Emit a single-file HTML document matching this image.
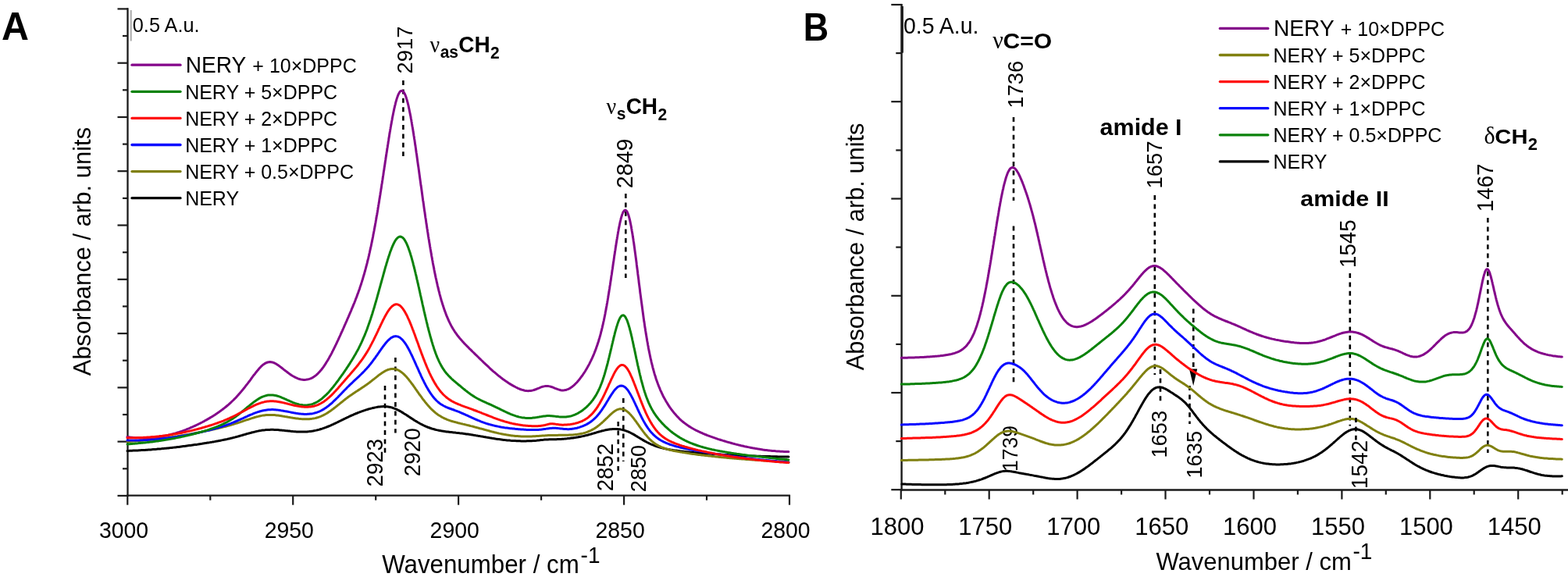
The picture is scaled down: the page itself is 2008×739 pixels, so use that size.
<!DOCTYPE html>
<html><head><meta charset="utf-8"><title>NERY DPPC FTIR spectra</title>
<style>html,body{margin:0;padding:0;background:#fff;overflow:hidden}svg{display:block}</style>
</head><body>
<svg width="2008" height="739" viewBox="0 0 2008 739">
<rect width="2008" height="739" fill="#fff"/>
<line x1="163.5" y1="10.3" x2="163.5" y2="635.9" stroke="#1a1a1a" stroke-width="2.3"/>
<line x1="150.5" y1="11.4" x2="164" y2="11.4" stroke="#1a1a1a" stroke-width="2.2"/>
<line x1="157" y1="46.0" x2="164" y2="46.0" stroke="#1a1a1a" stroke-width="2.2"/>
<line x1="150.5" y1="80.7" x2="164" y2="80.7" stroke="#1a1a1a" stroke-width="2.2"/>
<line x1="157" y1="115.3" x2="164" y2="115.3" stroke="#1a1a1a" stroke-width="2.2"/>
<line x1="150.5" y1="150.0" x2="164" y2="150.0" stroke="#1a1a1a" stroke-width="2.2"/>
<line x1="157" y1="184.6" x2="164" y2="184.6" stroke="#1a1a1a" stroke-width="2.2"/>
<line x1="150.5" y1="219.2" x2="164" y2="219.2" stroke="#1a1a1a" stroke-width="2.2"/>
<line x1="157" y1="253.9" x2="164" y2="253.9" stroke="#1a1a1a" stroke-width="2.2"/>
<line x1="150.5" y1="288.5" x2="164" y2="288.5" stroke="#1a1a1a" stroke-width="2.2"/>
<line x1="157" y1="323.2" x2="164" y2="323.2" stroke="#1a1a1a" stroke-width="2.2"/>
<line x1="150.5" y1="357.8" x2="164" y2="357.8" stroke="#1a1a1a" stroke-width="2.2"/>
<line x1="157" y1="392.4" x2="164" y2="392.4" stroke="#1a1a1a" stroke-width="2.2"/>
<line x1="150.5" y1="427.1" x2="164" y2="427.1" stroke="#1a1a1a" stroke-width="2.2"/>
<line x1="157" y1="461.7" x2="164" y2="461.7" stroke="#1a1a1a" stroke-width="2.2"/>
<line x1="150.5" y1="496.4" x2="164" y2="496.4" stroke="#1a1a1a" stroke-width="2.2"/>
<line x1="157" y1="531.0" x2="164" y2="531.0" stroke="#1a1a1a" stroke-width="2.2"/>
<line x1="150.5" y1="565.6" x2="164" y2="565.6" stroke="#1a1a1a" stroke-width="2.2"/>
<line x1="157" y1="600.3" x2="164" y2="600.3" stroke="#1a1a1a" stroke-width="2.2"/>
<line x1="150.5" y1="634.9" x2="164" y2="634.9" stroke="#1a1a1a" stroke-width="2.2"/>
<line x1="162.4" y1="634.7" x2="1011.9" y2="634.7" stroke="#1a1a1a" stroke-width="2.3"/>
<line x1="163.3" y1="634" x2="163.3" y2="646.7" stroke="#1a1a1a" stroke-width="2.2"/>
<text transform="translate(126.92,689.11) scale(1,1.04)" font-size="28.40" font-family="'Liberation Sans',Arial,sans-serif" fill="#000">3000</text>
<line x1="269.3" y1="634" x2="269.3" y2="640.7" stroke="#1a1a1a" stroke-width="2.2"/>
<line x1="375.2" y1="634" x2="375.2" y2="646.7" stroke="#1a1a1a" stroke-width="2.2"/>
<text transform="translate(338.67,689.11) scale(1,1.04)" font-size="28.40" font-family="'Liberation Sans',Arial,sans-serif" fill="#000">2950</text>
<line x1="481.2" y1="634" x2="481.2" y2="640.7" stroke="#1a1a1a" stroke-width="2.2"/>
<line x1="587.1" y1="634" x2="587.1" y2="646.7" stroke="#1a1a1a" stroke-width="2.2"/>
<text transform="translate(550.59,689.11) scale(1,1.04)" font-size="28.40" font-family="'Liberation Sans',Arial,sans-serif" fill="#000">2900</text>
<line x1="693.1" y1="634" x2="693.1" y2="640.7" stroke="#1a1a1a" stroke-width="2.2"/>
<line x1="799.1" y1="634" x2="799.1" y2="646.7" stroke="#1a1a1a" stroke-width="2.2"/>
<text transform="translate(762.51,689.11) scale(1,1.04)" font-size="28.40" font-family="'Liberation Sans',Arial,sans-serif" fill="#000">2850</text>
<line x1="905.0" y1="634" x2="905.0" y2="640.7" stroke="#1a1a1a" stroke-width="2.2"/>
<line x1="1011.0" y1="634" x2="1011.0" y2="646.7" stroke="#1a1a1a" stroke-width="2.2"/>
<text transform="translate(974.43,689.11) scale(1,1.04)" font-size="28.40" font-family="'Liberation Sans',Arial,sans-serif" fill="#000">2800</text>
<text transform="translate(489.16,734.48) scale(1,1.04)" font-size="31.29" font-family="'Liberation Sans',Arial,sans-serif" fill="#000">Wavenumber / cm</text>
<text transform="translate(743.56,720.60) scale(1,1.04)" font-size="28.00" font-family="'Liberation Sans',Arial,sans-serif">-1</text>
<text transform="translate(115.99,481.26) rotate(-90) scale(1,1.04)" font-size="30.98" font-family="'Liberation Sans',Arial,sans-serif">Absorbance / arb. units</text>
<line x1="167.8" y1="13" x2="167.8" y2="52.5" stroke="#8a8a8a" stroke-width="1.3"/>
<text transform="translate(169.81,40.54) scale(1,1.04)" font-size="25.30" font-family="'Liberation Sans',Arial,sans-serif" fill="#000">0.5 A.u.</text>
<text transform="translate(2.09,50.70) scale(1,1.04)" font-size="48.44" font-family="'Liberation Sans',Arial,sans-serif" font-weight="bold" fill="#000">A</text>
<line x1="169" y1="83.2" x2="231" y2="83.2" stroke="#84068a" stroke-width="3.3" stroke-linecap="round"/>
<text transform="translate(237.69,92.70) scale(1,1.04)" font-size="28.10" font-family="'Liberation Sans',Arial,sans-serif" fill="#000">NERY</text>
<text transform="translate(323.35,92.70) scale(1,1.04)" font-size="25.00" font-family="'Liberation Sans',Arial,sans-serif">+ 10×DPPC</text>
<line x1="169" y1="117.3" x2="231" y2="117.3" stroke="#0a820a" stroke-width="3.3" stroke-linecap="round"/>
<text transform="translate(237.15,126.80) scale(1,1.04)" font-size="25.00" font-family="'Liberation Sans',Arial,sans-serif">NERY + 5×DPPC</text>
<line x1="169" y1="151.4" x2="231" y2="151.4" stroke="#ff0a0a" stroke-width="3.3" stroke-linecap="round"/>
<text transform="translate(237.15,160.90) scale(1,1.04)" font-size="25.00" font-family="'Liberation Sans',Arial,sans-serif">NERY + 2×DPPC</text>
<line x1="169" y1="185.5" x2="231" y2="185.5" stroke="#0a0aff" stroke-width="3.3" stroke-linecap="round"/>
<text transform="translate(237.15,195.00) scale(1,1.04)" font-size="25.00" font-family="'Liberation Sans',Arial,sans-serif">NERY + 1×DPPC</text>
<line x1="169" y1="219.6" x2="231" y2="219.6" stroke="#808010" stroke-width="3.3" stroke-linecap="round"/>
<text transform="translate(237.15,229.10) scale(1,1.04)" font-size="25.00" font-family="'Liberation Sans',Arial,sans-serif">NERY + 0.5×DPPC</text>
<line x1="169" y1="253.7" x2="231" y2="253.7" stroke="#000000" stroke-width="3.3" stroke-linecap="round"/>
<text transform="translate(237.15,263.20) scale(1,1.04)" font-size="25.00" font-family="'Liberation Sans',Arial,sans-serif">NERY</text>
<text transform="translate(527.62,94.48) rotate(-90) scale(1,1.04)" font-size="27.40" font-family="'Liberation Sans',Arial,sans-serif">2917</text>
<line x1="516.4" y1="103" x2="516.4" y2="200" stroke="#000" stroke-width="2.6" stroke-dasharray="6,5.4"/>
<text transform="translate(810.01,241.14) rotate(-90) scale(1,1.04)" font-size="28.63" font-family="'Liberation Sans',Arial,sans-serif">2849</text>
<line x1="801.3" y1="248" x2="801.3" y2="356" stroke="#000" stroke-width="2.6" stroke-dasharray="6,5.4"/>
<text transform="translate(490.22,623.49) rotate(-90) scale(1,1.04)" font-size="27.65" font-family="'Liberation Sans',Arial,sans-serif">2923</text>
<line x1="493" y1="494" x2="493" y2="580" stroke="#000" stroke-width="2.6" stroke-dasharray="6,5.4"/>
<text transform="translate(537.62,610.20) rotate(-90) scale(1,1.04)" font-size="27.87" font-family="'Liberation Sans',Arial,sans-serif">2920</text>
<line x1="506.4" y1="458" x2="506.4" y2="554.5" stroke="#000" stroke-width="2.6" stroke-dasharray="6,5.4"/>
<text transform="translate(784.72,629.29) rotate(-90) scale(1,1.04)" font-size="27.64" font-family="'Liberation Sans',Arial,sans-serif">2852</text>
<line x1="791.7" y1="540" x2="791.7" y2="603" stroke="#000" stroke-width="2.6" stroke-dasharray="6,5.4"/>
<text transform="translate(827.43,630.16) rotate(-90) scale(1,1.04)" font-size="27.07" font-family="'Liberation Sans',Arial,sans-serif">2850</text>
<line x1="798.3" y1="510" x2="798.3" y2="591" stroke="#000" stroke-width="2.6" stroke-dasharray="6,5.4"/>
<text transform="translate(550.50,67.40) scale(1,1.04)" font-size="28.00" font-family="'Liberation Serif','Times New Roman',serif">ν</text>
<text transform="translate(563.66,74.10) scale(1,1.04)" font-size="21.00" font-family="'Liberation Sans',Arial,sans-serif" font-weight="bold">as</text>
<text transform="translate(587.32,67.40) scale(1,1.04)" font-size="28.00" font-family="'Liberation Sans',Arial,sans-serif" font-weight="bold">CH</text>
<text transform="translate(628.06,74.90) scale(1,1.04)" font-size="21.00" font-family="'Liberation Sans',Arial,sans-serif" font-weight="bold">2</text>
<text transform="translate(776.50,146.40) scale(1,1.04)" font-size="28.00" font-family="'Liberation Serif','Times New Roman',serif">ν</text>
<text transform="translate(789.66,153.10) scale(1,1.04)" font-size="21.00" font-family="'Liberation Sans',Arial,sans-serif" font-weight="bold">s</text>
<text transform="translate(801.64,146.40) scale(1,1.04)" font-size="28.00" font-family="'Liberation Sans',Arial,sans-serif" font-weight="bold">CH</text>
<text transform="translate(842.38,153.90) scale(1,1.04)" font-size="21.00" font-family="'Liberation Sans',Arial,sans-serif" font-weight="bold">2</text>
<path d="M163.0,577.4 164.5,577.4 166.0,577.3 167.5,577.3 169.0,577.2 170.5,577.1 172.0,577.1 173.5,577.0 175.0,576.9 176.5,576.9 178.0,576.8 179.5,576.7 181.0,576.6 182.5,576.5 184.0,576.4 185.5,576.4 187.0,576.3 188.5,576.2 190.0,576.1 191.5,576.0 193.0,575.9 194.5,575.7 196.0,575.6 197.5,575.5 199.0,575.4 200.5,575.3 202.0,575.1 203.5,575.0 205.0,574.9 206.5,574.8 208.0,574.6 209.5,574.5 211.0,574.3 212.5,574.2 214.0,574.0 215.4,573.9 216.9,573.7 218.4,573.6 219.9,573.4 221.4,573.2 222.9,573.1 224.4,572.9 225.9,572.7 227.4,572.5 228.9,572.4 230.4,572.2 231.9,572.0 233.4,571.8 234.8,571.6 236.3,571.4 237.8,571.2 239.3,571.0 240.8,570.8 242.3,570.6 243.8,570.4 245.3,570.2 246.8,570.0 248.2,569.8 249.7,569.6 251.2,569.4 252.7,569.2 254.2,568.9 255.7,568.7 257.2,568.5 258.6,568.3 260.1,568.0 261.6,567.8 263.1,567.6 264.6,567.3 266.1,567.1 267.5,566.9 269.0,566.6 270.5,566.4 272.0,566.1 273.5,565.9 274.9,565.6 276.4,565.3 277.9,565.1 279.4,564.8 280.9,564.5 282.3,564.2 283.8,563.9 285.3,563.6 286.7,563.3 288.2,563.0 289.7,562.7 291.1,562.4 292.6,562.0 294.1,561.7 295.5,561.3 297.0,561.0 298.5,560.6 299.9,560.2 301.4,559.9 302.8,559.5 304.3,559.1 305.7,558.7 307.2,558.3 308.6,557.9 310.0,557.5 311.5,557.0 312.9,556.6 314.4,556.2 315.8,555.8 317.3,555.4 318.7,555.0 320.2,554.6 321.6,554.2 323.1,553.8 324.5,553.5 326.0,553.1 327.4,552.8 328.9,552.4 330.4,552.1 331.9,551.8 333.3,551.6 334.8,551.3 336.3,551.1 337.8,550.9 339.3,550.8 340.8,550.6 342.3,550.5 343.8,550.4 345.3,550.4 346.8,550.3 348.3,550.3 349.8,550.3 351.3,550.4 352.8,550.4 354.3,550.5 355.8,550.6 357.3,550.7 358.8,550.9 360.3,551.0 361.8,551.2 363.3,551.3 364.8,551.5 366.3,551.7 367.8,551.8 369.2,552.0 370.7,552.1 372.2,552.3 373.7,552.4 375.2,552.6 376.7,552.7 378.2,552.8 379.7,552.9 381.2,553.0 382.7,553.1 384.2,553.1 385.7,553.1 387.2,553.1 388.7,553.1 390.2,553.0 391.7,553.0 393.2,552.9 394.7,552.7 396.2,552.6 397.7,552.4 399.2,552.2 400.7,552.0 402.2,551.7 403.6,551.4 405.1,551.1 406.6,550.7 408.0,550.4 409.5,550.0 410.9,549.5 412.3,549.1 413.8,548.6 415.2,548.1 416.6,547.6 418.0,547.1 419.4,546.5 420.8,546.0 422.2,545.4 423.6,544.8 424.9,544.2 426.3,543.6 427.7,542.9 429.0,542.3 430.4,541.7 431.7,541.0 433.1,540.3 434.4,539.7 435.8,539.0 437.1,538.4 438.5,537.7 439.8,537.0 441.2,536.4 442.5,535.7 443.9,535.1 445.2,534.4 446.6,533.8 447.9,533.1 449.3,532.5 450.7,531.9 452.1,531.3 453.4,530.7 454.8,530.1 456.2,529.5 457.6,529.0 459.0,528.4 460.4,527.9 461.8,527.3 463.2,526.8 464.6,526.3 466.1,525.8 467.5,525.4 468.9,524.9 470.3,524.5 471.8,524.0 473.2,523.6 474.7,523.2 476.1,522.9 477.6,522.5 479.1,522.2 480.5,521.9 482.0,521.6 483.5,521.3 485.0,521.1 486.5,520.9 488.0,520.8 489.5,520.7 491.0,520.6 492.5,520.6 494.0,520.7 495.5,520.8 497.0,521.0 498.4,521.2 499.9,521.5 501.4,521.9 502.8,522.3 504.2,522.8 505.6,523.3 507.0,523.9 508.4,524.5 509.7,525.2 511.1,525.9 512.4,526.6 513.7,527.3 515.0,528.1 516.3,528.9 517.5,529.7 518.8,530.5 520.1,531.3 521.3,532.1 522.6,532.9 523.8,533.8 525.1,534.6 526.3,535.4 527.6,536.2 528.9,537.1 530.1,537.9 531.4,538.7 532.7,539.4 534.0,540.2 535.3,541.0 536.6,541.7 537.9,542.5 539.2,543.2 540.5,543.8 541.9,544.5 543.2,545.2 544.6,545.8 546.0,546.4 547.4,547.0 548.8,547.5 550.2,548.0 551.6,548.5 553.0,549.0 554.5,549.4 555.9,549.8 557.4,550.2 558.8,550.6 560.3,550.9 561.8,551.2 563.2,551.5 564.7,551.8 566.2,552.1 567.7,552.3 569.2,552.5 570.6,552.7 572.1,552.9 573.6,553.1 575.1,553.3 576.6,553.5 578.1,553.6 579.6,553.8 581.1,554.0 582.6,554.1 584.1,554.3 585.6,554.4 587.1,554.6 588.6,554.8 590.0,554.9 591.5,555.1 593.0,555.3 594.5,555.5 596.0,555.7 597.5,555.9 599.0,556.1 600.5,556.3 602.0,556.5 603.4,556.7 604.9,556.9 606.4,557.2 607.9,557.4 609.4,557.7 610.9,557.9 612.3,558.2 613.8,558.4 615.3,558.7 616.8,558.9 618.3,559.2 619.7,559.5 621.2,559.7 622.7,560.0 624.2,560.2 625.7,560.5 627.1,560.8 628.6,561.0 630.1,561.3 631.6,561.5 633.1,561.7 634.6,562.0 636.0,562.2 637.5,562.4 639.0,562.6 640.5,562.8 642.0,563.0 643.5,563.2 645.0,563.4 646.5,563.6 648.0,563.7 649.5,563.9 650.9,564.0 652.4,564.1 653.9,564.3 655.4,564.4 656.9,564.5 658.4,564.6 659.9,564.6 661.4,564.7 662.9,564.8 664.4,564.8 665.9,564.8 667.4,564.9 668.9,564.9 670.4,564.9 672.0,564.9 673.5,564.9 675.0,564.8 676.5,564.8 678.0,564.8 679.5,564.7 681.0,564.7 682.5,564.6 684.0,564.5 685.5,564.4 687.0,564.3 688.5,564.1 689.9,564.0 691.4,563.8 692.9,563.6 694.4,563.4 695.9,563.3 697.4,563.1 698.9,563.0 700.4,562.9 701.9,562.9 703.4,562.8 704.9,562.8 706.4,562.8 707.9,562.8 709.4,562.8 710.9,562.8 712.4,562.7 713.9,562.6 715.4,562.6 716.9,562.5 718.4,562.4 719.9,562.3 721.4,562.2 722.9,562.1 724.4,561.9 725.9,561.8 727.4,561.6 728.9,561.5 730.4,561.3 731.9,561.1 733.4,561.0 734.9,560.7 736.3,560.5 737.8,560.3 739.3,560.1 740.8,559.8 742.3,559.5 743.7,559.2 745.2,558.9 746.7,558.6 748.1,558.3 749.6,557.9 751.1,557.5 752.5,557.2 754.0,556.8 755.4,556.4 756.9,556.0 758.3,555.5 759.7,555.1 761.2,554.7 762.6,554.3 764.1,553.8 765.5,553.4 766.9,553.0 768.4,552.6 769.8,552.2 771.3,551.8 772.8,551.5 774.2,551.1 775.7,550.8 777.2,550.5 778.6,550.2 780.1,550.0 781.6,549.8 783.1,549.7 784.6,549.5 786.1,549.5 787.6,549.4 789.1,549.5 790.6,549.5 792.1,549.7 793.6,549.8 795.1,550.1 796.6,550.4 798.0,550.7 799.5,551.1 800.9,551.6 802.3,552.1 803.7,552.6 805.1,553.2 806.5,553.8 807.8,554.5 809.1,555.2 810.5,555.9 811.8,556.6 813.1,557.4 814.4,558.2 815.6,558.9 816.9,559.7 818.2,560.5 819.5,561.3 820.8,562.1 822.1,562.8 823.4,563.6 824.7,564.4 826.0,565.1 827.3,565.8 828.6,566.5 830.0,567.2 831.3,567.8 832.7,568.5 834.0,569.1 835.4,569.7 836.8,570.2 838.2,570.8 839.6,571.3 841.0,571.8 842.5,572.2 843.9,572.7 845.4,573.1 846.8,573.5 848.3,573.9 849.7,574.2 851.2,574.6 852.7,574.9 854.1,575.2 855.6,575.5 857.1,575.7 858.6,576.0 860.0,576.2 861.5,576.5 863.0,576.7 864.5,576.9 866.0,577.1 867.5,577.3 869.0,577.5 870.4,577.7 871.9,577.9 873.4,578.1 874.9,578.2 876.4,578.4 877.9,578.6 879.4,578.7 880.9,578.9 882.4,579.0 883.9,579.2 885.4,579.3 886.9,579.4 888.4,579.6 889.9,579.7 891.4,579.8 892.9,580.0 894.4,580.1 895.9,580.2 897.4,580.3 898.9,580.5 900.4,580.6 901.9,580.7 903.3,580.8 904.8,580.9 906.3,581.0 907.8,581.1 909.3,581.2 910.8,581.3 912.3,581.4 913.8,581.5 915.3,581.6 916.8,581.7 918.3,581.8 919.8,581.9 921.3,582.0 922.8,582.1 924.3,582.2 925.8,582.3 927.3,582.4 928.8,582.5 930.3,582.5 931.8,582.6 933.3,582.7 934.8,582.8 936.3,582.8 937.8,582.9 939.3,583.0 940.8,583.1 942.3,583.1 943.8,583.2 945.3,583.3 946.8,583.3 948.3,583.4 949.8,583.5 951.3,583.5 952.8,583.6 954.3,583.7 955.8,583.7 957.3,583.8 958.8,583.8 960.3,583.9 961.8,583.9 963.3,584.0 964.8,584.0 966.3,584.1 967.9,584.1 969.4,584.2 970.9,584.2 972.4,584.3 973.9,584.3 975.4,584.4 976.9,584.4 978.4,584.4 979.9,584.5 981.4,584.5 982.9,584.6 984.4,584.6 985.9,584.6 987.4,584.7 988.9,584.7 990.4,584.7 991.9,584.8 993.4,584.8 994.9,584.8 996.4,584.9 997.9,584.9 999.4,584.9 1000.9,585.0 1002.4,585.0 1003.9,585.0 1005.4,585.0 1006.9,585.1 1008.4,585.1 1009.9,585.1" fill="none" stroke="#000000" stroke-width="3.0" stroke-linejoin="round" stroke-linecap="round"/>
<path d="M163.0,565.6 164.5,565.5 166.0,565.4 167.5,565.3 169.0,565.2 170.5,565.1 172.0,565.0 173.5,564.9 175.0,564.8 176.5,564.7 178.0,564.5 179.5,564.4 181.0,564.3 182.5,564.2 184.0,564.0 185.5,563.9 187.0,563.8 188.5,563.6 190.0,563.5 191.4,563.3 192.9,563.2 194.4,563.0 195.9,562.9 197.4,562.7 198.9,562.5 200.4,562.4 201.9,562.2 203.4,562.0 204.9,561.8 206.4,561.6 207.9,561.5 209.3,561.3 210.8,561.1 212.3,560.9 213.8,560.7 215.3,560.5 216.8,560.2 218.3,560.0 219.8,559.8 221.2,559.6 222.7,559.4 224.2,559.1 225.7,558.9 227.2,558.7 228.7,558.4 230.1,558.2 231.6,557.9 233.1,557.7 234.6,557.5 236.1,557.2 237.6,556.9 239.0,556.7 240.5,556.4 242.0,556.2 243.5,555.9 244.9,555.6 246.4,555.4 247.9,555.1 249.4,554.8 250.8,554.5 252.3,554.2 253.8,554.0 255.3,553.7 256.7,553.4 258.2,553.1 259.7,552.8 261.2,552.5 262.6,552.2 264.1,551.9 265.6,551.6 267.0,551.3 268.5,551.0 270.0,550.7 271.5,550.3 272.9,550.0 274.4,549.7 275.9,549.4 277.3,549.0 278.8,548.7 280.2,548.3 281.7,548.0 283.2,547.6 284.6,547.3 286.1,546.9 287.5,546.5 289.0,546.2 290.4,545.8 291.9,545.4 293.3,545.0 294.8,544.6 296.2,544.2 297.7,543.7 299.1,543.3 300.5,542.9 302.0,542.4 303.4,542.0 304.8,541.5 306.3,541.1 307.7,540.6 309.1,540.1 310.5,539.7 312.0,539.2 313.4,538.7 314.8,538.2 316.2,537.7 317.7,537.3 319.1,536.8 320.5,536.3 321.9,535.9 323.4,535.4 324.8,535.0 326.3,534.5 327.7,534.1 329.1,533.7 330.6,533.4 332.1,533.0 333.5,532.7 335.0,532.4 336.5,532.1 338.0,531.9 339.5,531.7 341.0,531.6 342.4,531.5 343.9,531.4 345.5,531.4 347.0,531.4 348.5,531.4 350.0,531.5 351.5,531.6 352.9,531.7 354.4,531.9 355.9,532.1 357.4,532.3 358.9,532.5 360.4,532.7 361.9,533.0 363.4,533.2 364.8,533.5 366.3,533.7 367.8,534.0 369.3,534.3 370.8,534.5 372.2,534.8 373.7,535.0 375.2,535.3 376.7,535.5 378.2,535.7 379.7,535.9 381.1,536.1 382.6,536.3 384.1,536.4 385.6,536.6 387.1,536.7 388.6,536.7 390.1,536.8 391.6,536.8 393.1,536.8 394.6,536.8 396.1,536.7 397.6,536.5 399.1,536.4 400.6,536.1 402.1,535.9 403.5,535.6 405.0,535.2 406.5,534.8 407.9,534.3 409.3,533.8 410.7,533.3 412.1,532.7 413.4,532.1 414.8,531.4 416.1,530.7 417.4,530.0 418.7,529.2 420.0,528.4 421.2,527.6 422.5,526.7 423.7,525.9 424.9,525.0 426.1,524.1 427.3,523.2 428.5,522.3 429.7,521.4 430.9,520.4 432.1,519.5 433.2,518.5 434.4,517.6 435.6,516.6 436.7,515.7 437.9,514.8 439.1,513.8 440.2,512.9 441.4,512.0 442.6,511.0 443.8,510.1 445.0,509.2 446.2,508.3 447.4,507.5 448.7,506.6 449.9,505.7 451.1,504.9 452.4,504.0 453.6,503.2 454.9,502.4 456.1,501.5 457.4,500.7 458.6,499.9 459.9,499.1 461.2,498.3 462.4,497.4 463.7,496.6 464.9,495.8 466.2,494.9 467.4,494.1 468.6,493.2 469.9,492.4 471.1,491.5 472.3,490.6 473.5,489.7 474.7,488.8 475.9,487.9 477.0,486.9 478.2,486.0 479.4,485.1 480.6,484.1 481.8,483.2 482.9,482.3 484.1,481.3 485.3,480.4 486.5,479.5 487.7,478.7 489.0,477.8 490.2,477.0 491.5,476.2 492.8,475.4 494.1,474.7 495.5,474.1 496.9,473.5 498.3,473.1 499.8,472.7 501.2,472.5 502.7,472.4 504.2,472.5 505.7,472.7 507.2,473.0 508.6,473.5 510.0,474.1 511.3,474.8 512.6,475.6 513.8,476.5 515.0,477.4 516.2,478.4 517.3,479.4 518.3,480.4 519.4,481.5 520.4,482.6 521.4,483.7 522.4,484.9 523.3,486.0 524.2,487.2 525.2,488.4 526.1,489.6 527.0,490.8 527.9,492.0 528.8,493.2 529.6,494.4 530.5,495.7 531.4,496.9 532.2,498.1 533.1,499.3 534.0,500.6 534.8,501.8 535.7,503.0 536.5,504.3 537.4,505.5 538.3,506.7 539.2,507.9 540.1,509.1 540.9,510.3 541.8,511.5 542.8,512.7 543.7,513.9 544.6,515.1 545.6,516.3 546.5,517.4 547.5,518.6 548.5,519.7 549.5,520.8 550.5,521.9 551.5,523.0 552.6,524.1 553.7,525.1 554.8,526.1 555.9,527.1 557.0,528.1 558.2,529.1 559.4,530.0 560.6,530.9 561.8,531.7 563.1,532.5 564.4,533.3 565.7,534.1 567.0,534.8 568.3,535.5 569.7,536.1 571.1,536.7 572.5,537.3 573.9,537.8 575.3,538.3 576.7,538.8 578.1,539.3 579.6,539.7 581.0,540.1 582.5,540.5 583.9,540.9 585.4,541.3 586.8,541.7 588.3,542.0 589.7,542.4 591.2,542.7 592.7,543.1 594.1,543.4 595.6,543.8 597.0,544.1 598.5,544.5 600.0,544.8 601.4,545.2 602.9,545.6 604.3,545.9 605.8,546.3 607.2,546.7 608.7,547.1 610.1,547.5 611.6,547.9 613.0,548.3 614.5,548.7 615.9,549.0 617.4,549.4 618.8,549.8 620.3,550.2 621.7,550.6 623.2,551.0 624.6,551.4 626.1,551.8 627.5,552.2 629.0,552.6 630.4,553.0 631.9,553.3 633.3,553.7 634.8,554.0 636.3,554.4 637.7,554.7 639.2,555.1 640.7,555.4 642.1,555.7 643.6,556.0 645.1,556.3 646.6,556.5 648.0,556.8 649.5,557.1 651.0,557.3 652.5,557.5 654.0,557.7 655.5,557.9 657.0,558.1 658.4,558.2 659.9,558.4 661.4,558.5 662.9,558.6 664.4,558.7 665.9,558.8 667.4,558.9 668.9,559.0 670.4,559.0 671.9,559.0 673.4,559.0 674.9,559.0 676.4,559.0 677.9,559.0 679.4,559.0 680.9,558.9 682.4,558.8 683.9,558.8 685.4,558.7 686.9,558.6 688.4,558.5 689.9,558.4 691.4,558.3 692.9,558.2 694.4,558.1 695.9,558.0 697.4,557.9 698.9,557.8 700.4,557.7 701.9,557.6 703.4,557.6 704.9,557.5 706.4,557.5 707.9,557.4 709.4,557.4 710.9,557.4 712.4,557.4 713.9,557.4 715.4,557.3 716.9,557.3 718.4,557.3 719.9,557.3 721.4,557.3 722.9,557.3 724.5,557.2 726.0,557.2 727.5,557.2 729.0,557.1 730.5,557.0 732.0,557.0 733.5,556.9 734.9,556.7 736.4,556.6 737.9,556.4 739.4,556.3 740.9,556.1 742.4,555.8 743.9,555.5 745.3,555.2 746.8,554.9 748.3,554.5 749.7,554.1 751.1,553.6 752.5,553.1 753.9,552.5 755.3,551.9 756.7,551.3 758.0,550.6 759.3,549.9 760.6,549.2 761.9,548.4 763.2,547.5 764.4,546.7 765.6,545.8 766.8,544.9 768.0,543.9 769.1,543.0 770.2,542.0 771.4,541.0 772.5,540.0 773.6,538.9 774.7,537.9 775.7,536.9 776.8,535.8 777.9,534.8 779.0,533.7 780.0,532.7 781.1,531.6 782.2,530.6 783.3,529.6 784.5,528.6 785.6,527.7 786.9,526.8 788.1,526.0 789.4,525.2 790.8,524.6 792.2,524.1 793.7,523.8 795.2,523.7 796.7,523.9 798.1,524.2 799.5,524.7 800.9,525.4 802.1,526.2 803.3,527.1 804.5,528.1 805.6,529.1 806.6,530.2 807.7,531.3 808.6,532.4 809.6,533.6 810.6,534.7 811.5,535.9 812.4,537.1 813.3,538.3 814.2,539.5 815.1,540.7 815.9,542.0 816.8,543.2 817.7,544.4 818.5,545.6 819.4,546.9 820.3,548.1 821.2,549.3 822.1,550.5 822.9,551.7 823.8,552.9 824.8,554.1 825.7,555.3 826.6,556.5 827.6,557.6 828.6,558.7 829.6,559.9 830.6,561.0 831.6,562.1 832.7,563.1 833.8,564.1 834.9,565.1 836.1,566.1 837.2,567.0 838.5,567.9 839.7,568.8 841.0,569.6 842.3,570.3 843.6,571.1 844.9,571.7 846.3,572.4 847.6,573.0 849.0,573.5 850.5,574.0 851.9,574.5 853.3,575.0 854.8,575.4 856.2,575.8 857.7,576.2 859.1,576.5 860.6,576.9 862.0,577.2 863.5,577.5 865.0,577.8 866.5,578.1 867.9,578.3 869.4,578.6 870.9,578.9 872.4,579.1 873.9,579.4 875.3,579.6 876.8,579.8 878.3,580.1 879.8,580.3 881.3,580.5 882.8,580.7 884.2,581.0 885.7,581.2 887.2,581.4 888.7,581.6 890.2,581.8 891.7,582.0 893.2,582.2 894.7,582.4 896.2,582.6 897.6,582.7 899.1,582.9 900.6,583.1 902.1,583.3 903.6,583.5 905.1,583.6 906.6,583.8 908.1,584.0 909.6,584.1 911.1,584.3 912.6,584.5 914.1,584.6 915.6,584.8 917.0,584.9 918.5,585.1 920.0,585.2 921.5,585.4 923.0,585.5 924.5,585.7 926.0,585.8 927.5,586.0 929.0,586.1 930.5,586.3 932.0,586.4 933.5,586.5 935.0,586.7 936.5,586.8 938.0,586.9 939.5,587.0 941.0,587.2 942.5,587.3 944.0,587.4 945.5,587.5 947.0,587.7 948.5,587.8 950.0,587.9 951.4,588.0 952.9,588.1 954.4,588.3 955.9,588.4 957.4,588.5 958.9,588.6 960.4,588.7 961.9,588.8 963.4,588.9 964.9,589.0 966.4,589.1 967.9,589.2 969.4,589.3 970.9,589.4 972.4,589.5 973.9,589.6 975.4,589.7 976.9,589.8 978.4,589.9 979.9,590.0 981.4,590.1 982.9,590.2 984.4,590.3 985.9,590.4 987.4,590.5 988.9,590.6 990.4,590.7 991.9,590.8 993.4,590.8 994.9,590.9 996.4,591.0 997.9,591.1 999.4,591.2 1000.9,591.3 1002.4,591.4 1003.9,591.4 1005.4,591.5 1006.9,591.6 1008.4,591.7 1009.9,591.8" fill="none" stroke="#808010" stroke-width="3.0" stroke-linejoin="round" stroke-linecap="round"/>
<path d="M163.0,564.1 164.5,564.1 166.0,564.1 167.5,564.1 169.0,564.1 170.5,564.0 172.0,564.0 173.5,564.0 175.0,563.9 176.5,563.9 178.0,563.9 179.5,563.8 181.0,563.8 182.5,563.7 184.0,563.6 185.5,563.6 187.0,563.5 188.5,563.4 190.0,563.3 191.5,563.2 193.0,563.1 194.5,563.0 196.0,562.9 197.5,562.8 199.0,562.7 200.5,562.6 202.0,562.4 203.5,562.3 205.0,562.1 206.5,562.0 208.0,561.8 209.5,561.7 211.0,561.5 212.5,561.3 213.9,561.2 215.4,561.0 216.9,560.8 218.4,560.6 219.9,560.4 221.4,560.2 222.9,560.0 224.4,559.7 225.9,559.5 227.3,559.3 228.8,559.0 230.3,558.8 231.8,558.6 233.3,558.3 234.7,558.1 236.2,557.8 237.7,557.5 239.2,557.2 240.7,557.0 242.1,556.7 243.6,556.4 245.1,556.1 246.5,555.8 248.0,555.5 249.5,555.2 251.0,554.9 252.4,554.6 253.9,554.3 255.4,553.9 256.8,553.6 258.3,553.3 259.8,552.9 261.2,552.6 262.7,552.2 264.1,551.9 265.6,551.5 267.1,551.2 268.5,550.8 270.0,550.4 271.4,550.0 272.9,549.6 274.3,549.3 275.8,548.8 277.2,548.4 278.6,548.0 280.1,547.6 281.5,547.2 283.0,546.7 284.4,546.3 285.8,545.8 287.2,545.3 288.7,544.8 290.1,544.3 291.5,543.8 292.9,543.3 294.3,542.8 295.7,542.3 297.1,541.7 298.5,541.2 299.9,540.6 301.3,540.0 302.7,539.4 304.0,538.8 305.4,538.2 306.8,537.6 308.2,537.0 309.5,536.4 310.9,535.8 312.3,535.1 313.6,534.5 315.0,533.9 316.4,533.3 317.7,532.6 319.1,532.0 320.5,531.4 321.9,530.8 323.3,530.3 324.6,529.7 326.0,529.2 327.4,528.6 328.9,528.1 330.3,527.6 331.7,527.2 333.2,526.8 334.6,526.4 336.1,526.0 337.5,525.7 339.0,525.4 340.5,525.2 342.0,525.0 343.5,524.8 345.0,524.7 346.5,524.7 348.0,524.6 349.5,524.6 351.0,524.7 352.5,524.8 354.0,524.9 355.5,525.1 357.0,525.2 358.5,525.4 359.9,525.7 361.4,525.9 362.9,526.2 364.4,526.5 365.8,526.7 367.3,527.0 368.8,527.3 370.3,527.6 371.7,527.9 373.2,528.2 374.7,528.5 376.2,528.8 377.6,529.0 379.1,529.3 380.6,529.5 382.1,529.7 383.6,529.9 385.1,530.1 386.6,530.2 388.1,530.3 389.6,530.4 391.1,530.4 392.6,530.4 394.1,530.3 395.6,530.3 397.1,530.1 398.6,529.9 400.0,529.7 401.5,529.4 403.0,529.0 404.4,528.6 405.9,528.2 407.3,527.7 408.7,527.1 410.0,526.5 411.4,525.8 412.7,525.1 414.0,524.4 415.3,523.6 416.5,522.8 417.8,521.9 419.0,521.0 420.2,520.1 421.4,519.2 422.5,518.2 423.7,517.3 424.8,516.3 425.9,515.3 427.0,514.2 428.1,513.2 429.2,512.2 430.2,511.1 431.3,510.0 432.4,509.0 433.4,507.9 434.5,506.8 435.5,505.7 436.5,504.7 437.6,503.6 438.6,502.5 439.7,501.4 440.7,500.3 441.8,499.2 442.8,498.2 443.9,497.1 444.9,496.0 446.0,495.0 447.1,493.9 448.1,492.9 449.2,491.8 450.3,490.8 451.4,489.8 452.5,488.7 453.6,487.7 454.7,486.7 455.8,485.7 456.9,484.6 458.0,483.6 459.1,482.6 460.2,481.6 461.2,480.5 462.3,479.5 463.4,478.4 464.5,477.4 465.5,476.3 466.6,475.2 467.6,474.1 468.6,473.0 469.6,471.9 470.6,470.8 471.6,469.7 472.6,468.5 473.5,467.4 474.5,466.2 475.4,465.0 476.3,463.8 477.2,462.6 478.1,461.4 479.0,460.2 479.9,459.0 480.8,457.8 481.6,456.5 482.5,455.3 483.4,454.1 484.2,452.8 485.1,451.6 485.9,450.4 486.8,449.1 487.7,447.9 488.5,446.7 489.4,445.5 490.3,444.2 491.2,443.0 492.1,441.8 493.0,440.7 493.9,439.5 494.9,438.3 495.9,437.2 496.9,436.1 498.0,435.1 499.1,434.1 500.3,433.1 501.5,432.3 502.9,431.6 504.3,431.0 505.7,430.7 507.2,430.6 508.7,430.9 510.1,431.3 511.5,432.0 512.7,432.8 513.9,433.8 515.0,434.8 516.0,435.9 516.9,437.1 517.9,438.3 518.7,439.5 519.6,440.7 520.4,442.0 521.2,443.3 521.9,444.6 522.7,445.9 523.4,447.2 524.1,448.5 524.8,449.9 525.4,451.2 526.1,452.6 526.8,453.9 527.4,455.3 528.1,456.6 528.7,458.0 529.3,459.4 529.9,460.7 530.6,462.1 531.2,463.5 531.8,464.8 532.4,466.2 533.0,467.6 533.6,468.9 534.3,470.3 534.9,471.7 535.5,473.0 536.1,474.4 536.7,475.8 537.3,477.2 538.0,478.5 538.6,479.9 539.2,481.3 539.8,482.6 540.5,484.0 541.1,485.3 541.8,486.7 542.5,488.0 543.1,489.4 543.8,490.7 544.5,492.0 545.2,493.4 545.9,494.7 546.6,496.0 547.4,497.3 548.1,498.6 548.9,499.9 549.7,501.2 550.5,502.4 551.3,503.7 552.2,504.9 553.1,506.1 554.0,507.3 554.9,508.5 555.9,509.7 556.8,510.8 557.9,511.9 558.9,513.0 560.0,514.0 561.1,515.0 562.3,516.0 563.5,516.9 564.7,517.7 566.0,518.5 567.3,519.3 568.6,520.0 570.0,520.7 571.3,521.3 572.7,521.9 574.1,522.5 575.5,523.0 576.9,523.5 578.3,524.0 579.7,524.5 581.2,525.0 582.6,525.6 584.0,526.1 585.4,526.6 586.8,527.2 588.2,527.7 589.6,528.3 590.9,528.9 592.3,529.5 593.7,530.1 595.1,530.7 596.4,531.3 597.8,531.9 599.2,532.5 600.5,533.2 601.9,533.8 603.3,534.4 604.6,535.1 606.0,535.7 607.4,536.3 608.7,536.9 610.1,537.5 611.5,538.1 612.9,538.7 614.3,539.2 615.7,539.8 617.1,540.3 618.5,540.8 619.9,541.3 621.3,541.8 622.7,542.3 624.2,542.8 625.6,543.2 627.1,543.6 628.5,544.0 630.0,544.4 631.4,544.8 632.9,545.1 634.3,545.5 635.8,545.8 637.3,546.1 638.7,546.4 640.2,546.7 641.7,547.0 643.2,547.2 644.7,547.4 646.1,547.7 647.6,547.9 649.1,548.1 650.6,548.3 652.1,548.5 653.6,548.7 655.1,548.8 656.6,549.0 658.1,549.1 659.6,549.3 661.1,549.4 662.5,549.5 664.0,549.7 665.5,549.8 667.0,549.9 668.5,550.0 670.0,550.1 671.5,550.2 673.0,550.3 674.5,550.4 676.0,550.4 677.5,550.5 679.0,550.6 680.5,550.6 682.0,550.6 683.5,550.6 685.0,550.6 686.5,550.6 688.0,550.5 689.5,550.5 691.0,550.3 692.5,550.2 694.0,550.0 695.5,549.8 697.0,549.6 698.5,549.4 700.0,549.1 701.5,548.9 702.9,548.7 704.4,548.5 705.9,548.4 707.4,548.3 708.9,548.2 710.4,548.2 711.9,548.3 713.4,548.4 714.9,548.6 716.4,548.7 717.9,548.9 719.4,549.1 720.9,549.3 722.4,549.5 723.9,549.6 725.4,549.6 726.9,549.7 728.4,549.7 729.9,549.6 731.4,549.5 732.9,549.3 734.4,549.1 735.8,548.8 737.3,548.5 738.8,548.2 740.2,547.8 741.7,547.4 743.1,546.9 744.5,546.4 745.9,545.9 747.3,545.3 748.7,544.7 750.0,544.1 751.4,543.4 752.7,542.6 754.0,541.9 755.2,541.1 756.5,540.2 757.7,539.3 758.8,538.4 760.0,537.4 761.1,536.4 762.2,535.4 763.3,534.3 764.3,533.2 765.3,532.1 766.2,530.9 767.2,529.8 768.1,528.6 769.0,527.4 769.9,526.2 770.8,524.9 771.6,523.7 772.4,522.4 773.3,521.2 774.1,519.9 774.9,518.6 775.7,517.4 776.4,516.1 777.2,514.8 778.0,513.5 778.8,512.2 779.5,510.9 780.3,509.7 781.1,508.4 781.9,507.1 782.7,505.8 783.5,504.6 784.4,503.3 785.2,502.1 786.1,500.9 787.0,499.7 788.0,498.6 789.1,497.5 790.2,496.4 791.3,495.5 792.6,494.8 794.0,494.2 795.5,494.0 797.0,494.2 798.4,494.7 799.7,495.4 800.9,496.3 802.0,497.4 803.0,498.5 803.9,499.7 804.8,500.9 805.6,502.2 806.4,503.5 807.1,504.7 807.9,506.1 808.6,507.4 809.3,508.7 810.0,510.0 810.7,511.4 811.3,512.7 812.0,514.1 812.6,515.4 813.3,516.8 813.9,518.2 814.5,519.5 815.2,520.9 815.8,522.2 816.4,523.6 817.1,525.0 817.7,526.3 818.3,527.7 819.0,529.0 819.6,530.4 820.3,531.7 821.0,533.1 821.6,534.4 822.3,535.8 823.0,537.1 823.7,538.4 824.4,539.7 825.2,541.0 825.9,542.3 826.7,543.6 827.5,544.9 828.3,546.2 829.1,547.4 830.0,548.7 830.9,549.9 831.8,551.1 832.7,552.3 833.7,553.4 834.7,554.5 835.7,555.6 836.7,556.7 837.8,557.7 838.9,558.7 840.1,559.7 841.3,560.6 842.5,561.5 843.7,562.4 845.0,563.2 846.3,564.0 847.6,564.7 848.9,565.4 850.3,566.1 851.6,566.7 853.0,567.3 854.4,567.9 855.8,568.4 857.2,569.0 858.6,569.5 860.0,569.9 861.5,570.4 862.9,570.8 864.3,571.3 865.8,571.7 867.2,572.1 868.7,572.4 870.1,572.8 871.6,573.2 873.1,573.5 874.5,573.8 876.0,574.2 877.5,574.5 878.9,574.8 880.4,575.1 881.9,575.4 883.3,575.7 884.8,575.9 886.3,576.2 887.8,576.5 889.3,576.8 890.7,577.0 892.2,577.3 893.7,577.6 895.2,577.8 896.6,578.1 898.1,578.3 899.6,578.6 901.1,578.8 902.6,579.0 904.1,579.3 905.5,579.5 907.0,579.8 908.5,580.0 910.0,580.2 911.5,580.5 913.0,580.7 914.4,580.9 915.9,581.2 917.4,581.4 918.9,581.6 920.4,581.8 921.9,582.0 923.4,582.3 924.8,582.5 926.3,582.7 927.8,582.9 929.3,583.1 930.8,583.3 932.3,583.6 933.8,583.8 935.2,584.0 936.7,584.2 938.2,584.4 939.7,584.6 941.2,584.8 942.7,585.0 944.2,585.2 945.7,585.4 947.2,585.6 948.6,585.8 950.1,585.9 951.6,586.1 953.1,586.3 954.6,586.5 956.1,586.7 957.6,586.9 959.1,587.0 960.6,587.2 962.1,587.4 963.6,587.6 965.0,587.7 966.5,587.9 968.0,588.1 969.5,588.2 971.0,588.4 972.5,588.6 974.0,588.7 975.5,588.9 977.0,589.0 978.5,589.2 980.0,589.4 981.5,589.5 983.0,589.7 984.5,589.8 986.0,589.9 987.5,590.1 988.9,590.2 990.4,590.4 991.9,590.5 993.4,590.6 994.9,590.8 996.4,590.9 997.9,591.0 999.4,591.2 1000.9,591.3 1002.4,591.4 1003.9,591.5 1005.4,591.7 1006.9,591.8 1008.4,591.9 1009.9,592.0" fill="none" stroke="#0a0aff" stroke-width="3.0" stroke-linejoin="round" stroke-linecap="round"/>
<path d="M163.0,568.9 164.5,568.8 166.0,568.7 167.5,568.5 169.0,568.4 170.5,568.3 172.0,568.2 173.5,568.0 175.0,567.9 176.5,567.8 178.0,567.6 179.5,567.5 181.0,567.3 182.4,567.2 183.9,567.0 185.4,566.9 186.9,566.7 188.4,566.6 189.9,566.4 191.4,566.2 192.9,566.0 194.4,565.9 195.9,565.7 197.4,565.5 198.9,565.3 200.3,565.1 201.8,564.9 203.3,564.7 204.8,564.4 206.3,564.2 207.8,564.0 209.3,563.8 210.7,563.5 212.2,563.3 213.7,563.1 215.2,562.8 216.7,562.5 218.1,562.3 219.6,562.0 221.1,561.8 222.6,561.5 224.0,561.2 225.5,560.9 227.0,560.6 228.5,560.3 229.9,560.0 231.4,559.7 232.9,559.4 234.3,559.1 235.8,558.7 237.3,558.4 238.7,558.1 240.2,557.7 241.7,557.4 243.1,557.0 244.6,556.7 246.0,556.3 247.5,556.0 248.9,555.6 250.4,555.2 251.9,554.8 253.3,554.4 254.8,554.0 256.2,553.6 257.6,553.2 259.1,552.8 260.5,552.4 262.0,552.0 263.4,551.5 264.8,551.1 266.3,550.6 267.7,550.2 269.1,549.7 270.5,549.2 272.0,548.7 273.4,548.2 274.8,547.7 276.2,547.2 277.6,546.6 279.0,546.1 280.4,545.5 281.8,544.9 283.1,544.3 284.5,543.7 285.8,543.0 287.2,542.3 288.5,541.7 289.9,541.0 291.2,540.3 292.5,539.5 293.8,538.8 295.1,538.0 296.3,537.2 297.6,536.4 298.9,535.6 300.1,534.7 301.3,533.9 302.6,533.0 303.8,532.1 305.0,531.2 306.2,530.3 307.4,529.4 308.5,528.4 309.7,527.5 310.9,526.5 312.0,525.6 313.2,524.6 314.3,523.7 315.5,522.7 316.6,521.7 317.8,520.8 319.0,519.8 320.1,518.9 321.3,517.9 322.5,517.0 323.6,516.1 324.8,515.1 326.0,514.2 327.2,513.4 328.5,512.5 329.7,511.7 331.0,510.9 332.3,510.1 333.6,509.4 335.0,508.7 336.3,508.1 337.7,507.6 339.1,507.1 340.6,506.7 342.1,506.3 343.5,506.1 345.0,506.0 346.5,505.9 348.0,505.9 349.5,506.0 351.0,506.2 352.5,506.5 354.0,506.8 355.4,507.2 356.8,507.7 358.3,508.2 359.7,508.7 361.1,509.3 362.4,509.8 363.8,510.4 365.2,511.1 366.6,511.7 367.9,512.3 369.3,512.9 370.7,513.5 372.0,514.1 373.4,514.7 374.8,515.3 376.2,515.8 377.6,516.4 379.0,516.8 380.5,517.3 381.9,517.7 383.4,518.1 384.8,518.4 386.3,518.6 387.8,518.8 389.3,518.9 390.8,518.9 392.3,518.9 393.8,518.8 395.3,518.6 396.8,518.3 398.2,518.0 399.7,517.6 401.1,517.1 402.5,516.5 403.9,515.9 405.2,515.2 406.5,514.5 407.8,513.7 409.1,512.9 410.3,512.0 411.5,511.1 412.7,510.2 413.8,509.2 414.9,508.2 416.0,507.2 417.1,506.2 418.2,505.1 419.2,504.1 420.3,503.0 421.3,501.9 422.3,500.7 423.3,499.6 424.2,498.5 425.2,497.3 426.2,496.1 427.1,495.0 428.0,493.8 429.0,492.6 429.9,491.4 430.8,490.2 431.7,489.0 432.6,487.8 433.5,486.6 434.3,485.4 435.2,484.2 436.1,483.0 437.0,481.7 437.8,480.5 438.7,479.3 439.6,478.1 440.4,476.8 441.3,475.6 442.1,474.3 443.0,473.1 443.8,471.9 444.6,470.6 445.5,469.4 446.3,468.1 447.1,466.8 447.9,465.6 448.7,464.3 449.5,463.0 450.3,461.8 451.1,460.5 451.9,459.2 452.7,457.9 453.4,456.6 454.2,455.3 455.0,454.0 455.7,452.7 456.4,451.4 457.1,450.1 457.9,448.8 458.6,447.5 459.3,446.1 459.9,444.8 460.6,443.4 461.3,442.1 461.9,440.7 462.6,439.4 463.2,438.0 463.8,436.7 464.4,435.3 465.0,433.9 465.6,432.5 466.2,431.2 466.8,429.8 467.4,428.4 467.9,427.0 468.5,425.6 469.0,424.2 469.6,422.8 470.1,421.4 470.6,420.0 471.1,418.6 471.6,417.1 472.1,415.7 472.6,414.3 473.1,412.9 473.6,411.5 474.1,410.1 474.6,408.6 475.0,407.2 475.5,405.8 476.0,404.3 476.4,402.9 476.9,401.5 477.3,400.0 477.7,398.6 478.2,397.2 478.6,395.7 479.1,394.3 479.5,392.9 479.9,391.4 480.3,390.0 480.7,388.5 481.2,387.1 481.6,385.6 482.0,384.2 482.4,382.8 482.8,381.3 483.2,379.9 483.6,378.4 484.0,377.0 484.4,375.5 484.8,374.1 485.2,372.6 485.6,371.2 486.0,369.7 486.4,368.3 486.8,366.8 487.2,365.4 487.6,363.9 488.0,362.5 488.4,361.0 488.8,359.6 489.2,358.2 489.6,356.7 490.0,355.3 490.4,353.8 490.8,352.4 491.2,350.9 491.6,349.5 492.0,348.0 492.4,346.6 492.8,345.1 493.2,343.7 493.6,342.2 494.0,340.8 494.5,339.4 494.9,337.9 495.3,336.5 495.8,335.0 496.2,333.6 496.6,332.2 497.1,330.7 497.5,329.3 498.0,327.9 498.5,326.5 499.0,325.0 499.4,323.6 499.9,322.2 500.5,320.8 501.0,319.4 501.5,318.0 502.1,316.6 502.7,315.2 503.3,313.8 503.9,312.5 504.6,311.1 505.3,309.8 506.0,308.5 506.9,307.2 507.8,306.0 508.8,304.9 509.9,304.0 511.2,303.3 512.7,303.0 514.2,303.4 515.4,304.2 516.5,305.2 517.5,306.3 518.3,307.6 519.1,308.9 519.8,310.2 520.5,311.5 521.1,312.9 521.7,314.3 522.3,315.7 522.8,317.1 523.3,318.5 523.8,319.9 524.3,321.3 524.8,322.7 525.3,324.2 525.7,325.6 526.1,327.0 526.6,328.5 527.0,329.9 527.4,331.4 527.8,332.8 528.2,334.3 528.6,335.7 529.0,337.2 529.3,338.6 529.7,340.1 530.1,341.5 530.4,343.0 530.8,344.4 531.2,345.9 531.5,347.4 531.9,348.8 532.2,350.3 532.6,351.7 532.9,353.2 533.3,354.7 533.6,356.1 533.9,357.6 534.3,359.1 534.6,360.5 534.9,362.0 535.3,363.4 535.6,364.9 535.9,366.4 536.3,367.8 536.6,369.3 536.9,370.8 537.2,372.2 537.6,373.7 537.9,375.2 538.2,376.6 538.5,378.1 538.9,379.6 539.2,381.0 539.5,382.5 539.8,384.0 540.2,385.4 540.5,386.9 540.8,388.4 541.1,389.8 541.5,391.3 541.8,392.8 542.1,394.2 542.5,395.7 542.8,397.2 543.1,398.6 543.5,400.1 543.8,401.5 544.1,403.0 544.5,404.5 544.8,405.9 545.2,407.4 545.5,408.9 545.9,410.3 546.2,411.8 546.6,413.2 546.9,414.7 547.3,416.2 547.6,417.6 548.0,419.1 548.4,420.5 548.7,422.0 549.1,423.4 549.5,424.9 549.9,426.3 550.3,427.8 550.7,429.2 551.0,430.7 551.5,432.1 551.9,433.6 552.3,435.0 552.7,436.5 553.1,437.9 553.6,439.3 554.0,440.8 554.4,442.2 554.9,443.6 555.4,445.1 555.8,446.5 556.3,447.9 556.8,449.3 557.3,450.8 557.8,452.2 558.3,453.6 558.9,455.0 559.4,456.4 560.0,457.8 560.6,459.1 561.2,460.5 561.8,461.9 562.4,463.2 563.1,464.6 563.8,465.9 564.5,467.3 565.2,468.6 566.0,469.9 566.7,471.2 567.5,472.4 568.4,473.7 569.2,474.9 570.1,476.1 571.0,477.3 572.0,478.5 573.0,479.6 574.0,480.7 575.0,481.8 576.1,482.9 577.1,483.9 578.2,485.0 579.3,486.0 580.5,487.0 581.6,488.0 582.7,488.9 583.9,489.9 585.0,490.9 586.2,491.8 587.3,492.8 588.5,493.7 589.7,494.7 590.8,495.7 592.0,496.6 593.1,497.6 594.3,498.5 595.5,499.5 596.6,500.4 597.8,501.3 599.0,502.2 600.2,503.1 601.4,504.0 602.6,504.9 603.9,505.8 605.1,506.6 606.4,507.4 607.7,508.2 608.9,509.0 610.2,509.7 611.6,510.5 612.9,511.2 614.2,511.8 615.6,512.5 616.9,513.2 618.3,513.8 619.6,514.4 621.0,515.0 622.4,515.7 623.8,516.3 625.1,516.9 626.5,517.5 627.9,518.1 629.2,518.7 630.6,519.4 632.0,520.0 633.3,520.6 634.7,521.3 636.0,521.9 637.4,522.6 638.7,523.2 640.1,523.9 641.4,524.6 642.8,525.2 644.1,525.9 645.5,526.5 646.8,527.2 648.2,527.8 649.5,528.5 650.9,529.1 652.3,529.7 653.7,530.3 655.1,530.8 656.5,531.4 657.9,531.9 659.3,532.4 660.7,532.9 662.1,533.3 663.6,533.7 665.1,534.1 666.5,534.4 668.0,534.7 669.5,534.9 671.0,535.1 672.5,535.3 674.0,535.4 675.5,535.5 677.0,535.5 678.5,535.5 680.0,535.4 681.5,535.3 682.9,535.1 684.4,534.9 685.9,534.7 687.4,534.5 688.9,534.2 690.4,534.0 691.8,533.7 693.3,533.5 694.8,533.2 696.3,533.0 697.8,532.9 699.3,532.7 700.8,532.6 702.3,532.6 703.8,532.6 705.3,532.7 706.8,532.8 708.3,532.9 709.8,533.1 711.3,533.2 712.8,533.4 714.2,533.6 715.7,533.8 717.2,533.9 718.7,534.0 720.2,534.1 721.7,534.1 723.2,534.0 724.7,534.0 726.2,533.8 727.7,533.6 729.2,533.3 730.7,533.0 732.1,532.6 733.5,532.1 734.9,531.6 736.3,531.1 737.7,530.4 739.1,529.8 740.4,529.1 741.7,528.3 743.0,527.5 744.2,526.7 745.4,525.9 746.7,525.0 747.8,524.0 749.0,523.1 750.1,522.1 751.3,521.1 752.3,520.1 753.4,519.0 754.4,517.9 755.5,516.8 756.5,515.7 757.4,514.5 758.3,513.4 759.3,512.2 760.1,510.9 761.0,509.7 761.8,508.4 762.6,507.2 763.4,505.9 764.1,504.6 764.8,503.3 765.5,501.9 766.2,500.6 766.8,499.2 767.5,497.9 768.1,496.5 768.7,495.1 769.2,493.7 769.8,492.3 770.3,490.9 770.9,489.5 771.4,488.1 771.9,486.7 772.3,485.3 772.8,483.8 773.3,482.4 773.7,481.0 774.2,479.5 774.6,478.1 775.0,476.7 775.4,475.2 775.8,473.8 776.2,472.3 776.6,470.9 777.0,469.4 777.4,468.0 777.8,466.5 778.2,465.1 778.5,463.6 778.9,462.2 779.3,460.7 779.6,459.2 780.0,457.8 780.3,456.3 780.7,454.9 781.0,453.4 781.4,451.9 781.7,450.5 782.1,449.0 782.4,447.6 782.8,446.1 783.1,444.6 783.5,443.2 783.8,441.7 784.1,440.3 784.5,438.8 784.8,437.3 785.2,435.9 785.5,434.4 785.9,433.0 786.2,431.5 786.6,430.0 787.0,428.6 787.3,427.1 787.7,425.7 788.1,424.2 788.5,422.8 788.9,421.3 789.3,419.9 789.7,418.4 790.2,417.0 790.6,415.6 791.1,414.1 791.6,412.7 792.1,411.3 792.7,409.9 793.3,408.6 794.0,407.2 794.8,406.0 795.7,404.8 796.9,403.9 798.4,403.8 799.7,404.6 800.7,405.8 801.4,407.0 802.1,408.4 802.8,409.7 803.3,411.1 803.8,412.5 804.3,414.0 804.8,415.4 805.2,416.8 805.6,418.3 806.1,419.7 806.4,421.2 806.8,422.6 807.2,424.1 807.6,425.5 807.9,427.0 808.3,428.4 808.6,429.9 809.0,431.4 809.3,432.8 809.6,434.3 809.9,435.8 810.3,437.2 810.6,438.7 810.9,440.2 811.2,441.6 811.5,443.1 811.8,444.6 812.2,446.0 812.5,447.5 812.8,449.0 813.1,450.4 813.4,451.9 813.7,453.4 814.0,454.8 814.3,456.3 814.6,457.8 814.9,459.3 815.3,460.7 815.6,462.2 815.9,463.7 816.2,465.1 816.5,466.6 816.8,468.1 817.2,469.5 817.5,471.0 817.8,472.5 818.2,473.9 818.5,475.4 818.8,476.9 819.2,478.3 819.5,479.8 819.9,481.2 820.2,482.7 820.6,484.2 820.9,485.6 821.3,487.1 821.7,488.5 822.1,490.0 822.5,491.4 822.9,492.9 823.3,494.3 823.7,495.8 824.1,497.2 824.5,498.6 825.0,500.1 825.4,501.5 825.9,502.9 826.4,504.4 826.8,505.8 827.3,507.2 827.8,508.6 828.4,510.0 828.9,511.4 829.5,512.8 830.0,514.2 830.6,515.6 831.2,517.0 831.9,518.3 832.5,519.7 833.2,521.0 833.9,522.4 834.6,523.7 835.3,525.0 836.1,526.3 836.8,527.6 837.6,528.8 838.5,530.1 839.3,531.3 840.2,532.6 841.0,533.8 842.0,535.0 842.9,536.2 843.8,537.3 844.8,538.5 845.8,539.6 846.8,540.7 847.8,541.9 848.8,542.9 849.9,544.0 850.9,545.1 852.0,546.1 853.1,547.2 854.2,548.2 855.3,549.2 856.4,550.2 857.6,551.2 858.7,552.1 859.9,553.0 861.1,554.0 862.3,554.9 863.5,555.8 864.7,556.6 866.0,557.5 867.2,558.3 868.5,559.1 869.8,559.9 871.0,560.7 872.3,561.4 873.7,562.2 875.0,562.9 876.3,563.6 877.6,564.3 879.0,564.9 880.3,565.6 881.7,566.2 883.1,566.8 884.5,567.4 885.9,567.9 887.3,568.5 888.7,569.0 890.1,569.5 891.5,570.0 892.9,570.5 894.3,571.0 895.8,571.4 897.2,571.9 898.6,572.3 900.1,572.7 901.5,573.1 903.0,573.5 904.4,573.9 905.9,574.3 907.3,574.6 908.8,575.0 910.3,575.3 911.7,575.7 913.2,576.0 914.7,576.3 916.1,576.6 917.6,576.9 919.1,577.2 920.6,577.5 922.0,577.8 923.5,578.0 925.0,578.3 926.5,578.6 927.9,578.8 929.4,579.1 930.9,579.3 932.4,579.6 933.9,579.8 935.4,580.0 936.8,580.3 938.3,580.5 939.8,580.7 941.3,580.9 942.8,581.1 944.3,581.4 945.8,581.6 947.2,581.8 948.7,582.0 950.2,582.2 951.7,582.4 953.2,582.6 954.7,582.8 956.2,583.0 957.7,583.2 959.2,583.4 960.6,583.5 962.1,583.7 963.6,583.9 965.1,584.1 966.6,584.3 968.1,584.4 969.6,584.6 971.1,584.8 972.6,585.0 974.1,585.1 975.6,585.3 977.0,585.5 978.5,585.6 980.0,585.8 981.5,586.0 983.0,586.1 984.5,586.3 986.0,586.5 987.5,586.6 989.0,586.8 990.5,586.9 992.0,587.1 993.5,587.3 995.0,587.4 996.5,587.6 997.9,587.7 999.4,587.9 1000.9,588.0 1002.4,588.2 1003.9,588.3 1005.4,588.5 1006.9,588.6 1008.4,588.8 1009.9,588.9" fill="none" stroke="#0a820a" stroke-width="3.0" stroke-linejoin="round" stroke-linecap="round"/>
<path d="M163.0,559.6 164.5,559.8 166.0,560.0 167.5,560.2 169.0,560.3 170.5,560.4 172.0,560.6 173.4,560.7 174.9,560.8 176.4,560.8 177.9,560.9 179.4,560.9 180.9,561.0 182.4,561.0 183.9,561.0 185.4,561.0 186.9,560.9 188.4,560.9 189.9,560.8 191.4,560.7 192.9,560.6 194.4,560.5 195.9,560.4 197.4,560.3 198.9,560.1 200.4,559.9 201.9,559.7 203.4,559.5 204.9,559.3 206.3,559.1 207.8,558.8 209.3,558.6 210.8,558.3 212.2,558.0 213.7,557.7 215.2,557.4 216.6,557.0 218.1,556.7 219.5,556.3 221.0,555.9 222.4,555.5 223.9,555.1 225.3,554.7 226.8,554.2 228.2,553.8 229.6,553.3 231.0,552.8 232.5,552.4 233.9,551.9 235.3,551.3 236.7,550.8 238.1,550.3 239.5,549.7 240.9,549.2 242.3,548.6 243.6,548.0 245.0,547.4 246.4,546.8 247.8,546.2 249.1,545.6 250.5,545.0 251.8,544.3 253.2,543.7 254.5,543.0 255.9,542.3 257.2,541.7 258.6,541.0 259.9,540.3 261.2,539.6 262.5,538.8 263.8,538.1 265.1,537.4 266.4,536.6 267.7,535.9 269.0,535.1 270.3,534.3 271.6,533.6 272.9,532.8 274.1,532.0 275.4,531.2 276.7,530.3 277.9,529.5 279.1,528.6 280.4,527.8 281.6,526.9 282.8,526.0 284.0,525.1 285.2,524.2 286.4,523.3 287.6,522.4 288.7,521.5 289.9,520.5 291.1,519.5 292.2,518.6 293.3,517.6 294.4,516.6 295.5,515.6 296.6,514.5 297.7,513.5 298.8,512.5 299.9,511.4 300.9,510.3 302.0,509.3 303.0,508.2 304.0,507.1 305.0,506.0 306.0,504.8 307.0,503.7 308.0,502.6 309.0,501.4 309.9,500.3 310.9,499.1 311.8,498.0 312.8,496.8 313.7,495.6 314.6,494.4 315.5,493.2 316.4,492.1 317.4,490.9 318.3,489.7 319.2,488.5 320.1,487.3 321.0,486.1 321.8,484.9 322.7,483.6 323.6,482.4 324.5,481.2 325.4,480.0 326.4,478.9 327.3,477.7 328.2,476.5 329.1,475.3 330.1,474.2 331.1,473.0 332.0,471.9 333.1,470.8 334.1,469.7 335.2,468.7 336.3,467.7 337.5,466.7 338.7,465.9 340.0,465.1 341.4,464.5 342.8,464.0 344.3,463.7 345.8,463.6 347.2,463.7 348.7,464.0 350.1,464.4 351.5,465.0 352.9,465.7 354.2,466.4 355.4,467.2 356.7,468.1 357.9,469.0 359.1,469.9 360.3,470.8 361.5,471.7 362.6,472.6 363.8,473.6 365.0,474.5 366.2,475.4 367.4,476.3 368.6,477.2 369.8,478.1 371.0,479.0 372.2,479.9 373.5,480.7 374.8,481.5 376.1,482.2 377.4,482.9 378.7,483.6 380.1,484.2 381.5,484.8 382.9,485.3 384.3,485.7 385.8,486.0 387.3,486.2 388.8,486.4 390.3,486.4 391.8,486.3 393.3,486.1 394.7,485.8 396.2,485.4 397.6,484.9 398.9,484.3 400.3,483.6 401.6,482.8 402.8,482.0 404.0,481.1 405.2,480.2 406.3,479.2 407.4,478.1 408.4,477.0 409.4,475.9 410.4,474.8 411.4,473.7 412.3,472.5 413.2,471.3 414.1,470.1 415.0,468.8 415.8,467.6 416.6,466.4 417.4,465.1 418.2,463.8 419.0,462.5 419.8,461.3 420.5,460.0 421.3,458.7 422.0,457.3 422.7,456.0 423.5,454.7 424.2,453.4 424.9,452.1 425.5,450.7 426.2,449.4 426.9,448.0 427.6,446.7 428.2,445.4 428.9,444.0 429.5,442.7 430.2,441.3 430.8,440.0 431.5,438.6 432.1,437.2 432.8,435.9 433.4,434.5 434.0,433.2 434.6,431.8 435.3,430.4 435.9,429.1 436.5,427.7 437.1,426.3 437.7,425.0 438.4,423.6 439.0,422.2 439.6,420.9 440.2,419.5 440.8,418.1 441.4,416.7 442.0,415.4 442.6,414.0 443.2,412.6 443.8,411.3 444.4,409.9 445.0,408.5 445.6,407.1 446.2,405.8 446.8,404.4 447.4,403.0 448.0,401.6 448.6,400.2 449.2,398.9 449.8,397.5 450.3,396.1 450.9,394.7 451.5,393.3 452.1,391.9 452.6,390.5 453.2,389.2 453.8,387.8 454.3,386.4 454.9,385.0 455.4,383.6 455.9,382.2 456.5,380.8 457.0,379.4 457.5,378.0 458.0,376.6 458.6,375.1 459.1,373.7 459.6,372.3 460.1,370.9 460.6,369.5 461.0,368.1 461.5,366.6 462.0,365.2 462.5,363.8 462.9,362.4 463.4,360.9 463.8,359.5 464.3,358.1 464.7,356.6 465.1,355.2 465.5,353.8 466.0,352.3 466.4,350.9 466.8,349.4 467.2,348.0 467.6,346.5 468.0,345.1 468.4,343.7 468.8,342.2 469.1,340.8 469.5,339.3 469.9,337.8 470.3,336.4 470.6,334.9 471.0,333.5 471.3,332.0 471.7,330.6 472.0,329.1 472.4,327.6 472.7,326.2 473.0,324.7 473.4,323.3 473.7,321.8 474.0,320.3 474.3,318.9 474.6,317.4 475.0,315.9 475.3,314.5 475.6,313.0 475.9,311.5 476.2,310.1 476.5,308.6 476.8,307.1 477.1,305.6 477.4,304.2 477.7,302.7 477.9,301.2 478.2,299.8 478.5,298.3 478.8,296.8 479.1,295.3 479.3,293.9 479.6,292.4 479.9,290.9 480.2,289.4 480.4,288.0 480.7,286.5 481.0,285.0 481.2,283.5 481.5,282.0 481.7,280.6 482.0,279.1 482.2,277.6 482.5,276.1 482.8,274.7 483.0,273.2 483.3,271.7 483.5,270.2 483.8,268.7 484.0,267.3 484.2,265.8 484.5,264.3 484.7,262.8 485.0,261.3 485.2,259.9 485.5,258.4 485.7,256.9 485.9,255.4 486.2,253.9 486.4,252.5 486.6,251.0 486.9,249.5 487.1,248.0 487.3,246.5 487.6,245.0 487.8,243.6 488.0,242.1 488.3,240.6 488.5,239.1 488.7,237.6 488.9,236.1 489.2,234.7 489.4,233.2 489.6,231.7 489.9,230.2 490.1,228.7 490.3,227.3 490.5,225.8 490.8,224.3 491.0,222.8 491.2,221.3 491.4,219.8 491.7,218.4 491.9,216.9 492.1,215.4 492.3,213.9 492.6,212.4 492.8,210.9 493.0,209.5 493.2,208.0 493.4,206.5 493.7,205.0 493.9,203.5 494.1,202.0 494.3,200.6 494.6,199.1 494.8,197.6 495.0,196.1 495.3,194.6 495.5,193.1 495.7,191.7 495.9,190.2 496.2,188.7 496.4,187.2 496.6,185.7 496.9,184.2 497.1,182.8 497.3,181.3 497.6,179.8 497.8,178.3 498.0,176.8 498.3,175.4 498.5,173.9 498.7,172.4 499.0,170.9 499.2,169.4 499.5,168.0 499.7,166.5 500.0,165.0 500.2,163.5 500.5,162.0 500.7,160.6 501.0,159.1 501.3,157.6 501.5,156.1 501.8,154.7 502.1,153.2 502.3,151.7 502.6,150.2 502.9,148.8 503.2,147.3 503.5,145.8 503.8,144.3 504.1,142.9 504.4,141.4 504.7,139.9 505.0,138.5 505.4,137.0 505.7,135.5 506.1,134.1 506.4,132.6 506.8,131.2 507.2,129.7 507.6,128.3 508.0,126.9 508.5,125.4 509.0,124.0 509.5,122.6 510.1,121.2 510.7,119.9 511.4,118.6 512.3,117.3 513.5,116.4 514.9,116.2 516.2,117.0 517.2,118.2 517.9,119.5 518.6,120.8 519.2,122.2 519.7,123.6 520.2,125.0 520.6,126.5 521.1,127.9 521.5,129.3 521.9,130.8 522.2,132.2 522.6,133.7 523.0,135.2 523.3,136.6 523.6,138.1 523.9,139.5 524.2,141.0 524.5,142.5 524.8,144.0 525.1,145.4 525.4,146.9 525.7,148.4 526.0,149.8 526.2,151.3 526.5,152.8 526.8,154.3 527.0,155.8 527.3,157.2 527.5,158.7 527.8,160.2 528.0,161.7 528.3,163.1 528.5,164.6 528.8,166.1 529.0,167.6 529.2,169.1 529.5,170.6 529.7,172.0 529.9,173.5 530.2,175.0 530.4,176.5 530.6,178.0 530.9,179.4 531.1,180.9 531.3,182.4 531.5,183.9 531.7,185.4 532.0,186.9 532.2,188.4 532.4,189.8 532.6,191.3 532.8,192.8 533.0,194.3 533.2,195.8 533.5,197.3 533.7,198.7 533.9,200.2 534.1,201.7 534.3,203.2 534.5,204.7 534.7,206.2 534.9,207.7 535.1,209.1 535.3,210.6 535.5,212.1 535.8,213.6 536.0,215.1 536.2,216.6 536.4,218.1 536.6,219.5 536.8,221.0 537.0,222.5 537.2,224.0 537.4,225.5 537.6,227.0 537.8,228.5 538.0,229.9 538.2,231.4 538.4,232.9 538.6,234.4 538.8,235.9 539.0,237.4 539.3,238.9 539.5,240.3 539.7,241.8 539.9,243.3 540.1,244.8 540.3,246.3 540.5,247.8 540.7,249.3 540.9,250.7 541.1,252.2 541.3,253.7 541.5,255.2 541.7,256.7 542.0,258.2 542.2,259.7 542.4,261.1 542.6,262.6 542.8,264.1 543.0,265.6 543.2,267.1 543.4,268.6 543.6,270.1 543.9,271.5 544.1,273.0 544.3,274.5 544.5,276.0 544.7,277.5 544.9,279.0 545.2,280.4 545.4,281.9 545.6,283.4 545.8,284.9 546.0,286.4 546.3,287.9 546.5,289.3 546.7,290.8 546.9,292.3 547.2,293.8 547.4,295.3 547.6,296.8 547.9,298.2 548.1,299.7 548.3,301.2 548.5,302.7 548.8,304.2 549.0,305.7 549.3,307.1 549.5,308.6 549.7,310.1 550.0,311.6 550.2,313.1 550.5,314.5 550.7,316.0 551.0,317.5 551.2,319.0 551.5,320.5 551.7,321.9 552.0,323.4 552.2,324.9 552.5,326.4 552.7,327.8 553.0,329.3 553.3,330.8 553.5,332.3 553.8,333.8 554.1,335.2 554.3,336.7 554.6,338.2 554.9,339.7 555.2,341.1 555.5,342.6 555.8,344.1 556.0,345.5 556.3,347.0 556.6,348.5 556.9,350.0 557.2,351.4 557.5,352.9 557.8,354.4 558.1,355.8 558.5,357.3 558.8,358.8 559.1,360.2 559.4,361.7 559.8,363.2 560.1,364.6 560.4,366.1 560.8,367.5 561.1,369.0 561.5,370.5 561.8,371.9 562.2,373.4 562.6,374.8 562.9,376.3 563.3,377.7 563.7,379.2 564.1,380.6 564.5,382.1 564.9,383.5 565.3,385.0 565.8,386.4 566.2,387.8 566.6,389.3 567.1,390.7 567.5,392.1 568.0,393.5 568.5,395.0 569.0,396.4 569.4,397.8 570.0,399.2 570.5,400.6 571.0,402.0 571.5,403.4 572.1,404.8 572.7,406.2 573.3,407.6 573.9,409.0 574.5,410.3 575.1,411.7 575.8,413.0 576.4,414.4 577.1,415.7 577.8,417.1 578.5,418.4 579.3,419.7 580.0,421.0 580.8,422.2 581.6,423.5 582.4,424.8 583.3,426.0 584.1,427.2 585.0,428.5 585.9,429.7 586.8,430.8 587.8,432.0 588.7,433.2 589.7,434.3 590.7,435.4 591.7,436.6 592.7,437.7 593.7,438.8 594.7,439.9 595.8,441.0 596.8,442.0 597.9,443.1 598.9,444.2 600.0,445.2 601.0,446.3 602.1,447.3 603.2,448.4 604.2,449.4 605.3,450.5 606.4,451.5 607.5,452.6 608.5,453.6 609.6,454.7 610.7,455.7 611.8,456.8 612.8,457.8 613.9,458.9 615.0,459.9 616.1,461.0 617.2,462.0 618.2,463.0 619.3,464.1 620.4,465.1 621.5,466.1 622.6,467.2 623.7,468.2 624.8,469.2 625.9,470.2 627.0,471.3 628.1,472.3 629.2,473.3 630.3,474.3 631.4,475.3 632.6,476.3 633.7,477.2 634.8,478.2 636.0,479.2 637.1,480.1 638.3,481.1 639.5,482.0 640.7,482.9 641.8,483.9 643.0,484.8 644.2,485.7 645.5,486.6 646.7,487.4 647.9,488.3 649.1,489.1 650.4,490.0 651.6,490.8 652.9,491.6 654.2,492.4 655.5,493.1 656.8,493.9 658.1,494.6 659.4,495.3 660.7,496.0 662.1,496.7 663.4,497.3 664.8,497.9 666.2,498.5 667.6,499.0 669.1,499.4 670.5,499.8 672.0,500.2 673.4,500.4 674.9,500.6 676.4,500.7 677.9,500.6 679.4,500.5 680.9,500.2 682.4,499.9 683.8,499.5 685.2,499.0 686.6,498.5 688.0,497.9 689.4,497.3 690.8,496.8 692.2,496.2 693.6,495.7 695.0,495.2 696.5,494.9 697.9,494.6 699.4,494.5 700.9,494.5 702.4,494.6 703.9,494.9 705.4,495.3 706.8,495.7 708.2,496.2 709.6,496.8 711.0,497.4 712.4,497.9 713.8,498.4 715.2,498.9 716.6,499.3 718.1,499.7 719.6,499.9 721.1,499.9 722.6,499.8 724.1,499.6 725.5,499.2 726.9,498.7 728.3,498.1 729.6,497.4 730.9,496.6 732.1,495.8 733.3,494.8 734.5,493.9 735.6,492.9 736.7,491.8 737.7,490.8 738.8,489.7 739.8,488.6 740.7,487.4 741.7,486.3 742.6,485.1 743.5,483.9 744.4,482.7 745.3,481.5 746.2,480.3 747.0,479.0 747.8,477.8 748.7,476.5 749.5,475.2 750.2,474.0 751.0,472.7 751.8,471.4 752.5,470.1 753.2,468.8 754.0,467.4 754.7,466.1 755.3,464.8 756.0,463.4 756.7,462.1 757.3,460.7 758.0,459.4 758.6,458.0 759.2,456.7 759.8,455.3 760.4,453.9 761.0,452.5 761.5,451.1 762.1,449.7 762.6,448.3 763.1,446.9 763.6,445.5 764.1,444.1 764.6,442.7 765.1,441.3 765.6,439.8 766.0,438.4 766.5,437.0 766.9,435.5 767.3,434.1 767.8,432.7 768.2,431.2 768.6,429.8 769.0,428.3 769.4,426.9 769.7,425.4 770.1,424.0 770.5,422.5 770.8,421.1 771.2,419.6 771.5,418.1 771.9,416.7 772.2,415.2 772.5,413.7 772.8,412.3 773.2,410.8 773.5,409.3 773.8,407.9 774.1,406.4 774.4,404.9 774.7,403.5 775.0,402.0 775.2,400.5 775.5,399.0 775.8,397.6 776.1,396.1 776.3,394.6 776.6,393.1 776.9,391.7 777.1,390.2 777.4,388.7 777.7,387.2 777.9,385.8 778.2,384.3 778.4,382.8 778.7,381.3 778.9,379.8 779.1,378.4 779.4,376.9 779.6,375.4 779.9,373.9 780.1,372.4 780.3,371.0 780.6,369.5 780.8,368.0 781.0,366.5 781.3,365.0 781.5,363.5 781.7,362.1 781.9,360.6 782.2,359.1 782.4,357.6 782.6,356.1 782.8,354.6 783.0,353.2 783.3,351.7 783.5,350.2 783.7,348.7 783.9,347.2 784.1,345.7 784.4,344.3 784.6,342.8 784.8,341.3 785.0,339.8 785.2,338.3 785.4,336.8 785.7,335.4 785.9,333.9 786.1,332.4 786.3,330.9 786.5,329.4 786.7,327.9 787.0,326.4 787.2,325.0 787.4,323.5 787.6,322.0 787.9,320.5 788.1,319.0 788.3,317.5 788.5,316.1 788.8,314.6 789.0,313.1 789.2,311.6 789.5,310.1 789.7,308.7 789.9,307.2 790.2,305.7 790.4,304.2 790.7,302.7 790.9,301.3 791.2,299.8 791.4,298.3 791.7,296.8 792.0,295.3 792.2,293.9 792.5,292.4 792.8,290.9 793.1,289.5 793.4,288.0 793.7,286.5 794.0,285.0 794.3,283.6 794.7,282.1 795.0,280.7 795.4,279.2 795.8,277.8 796.3,276.3 796.7,274.9 797.3,273.5 797.8,272.1 798.6,270.8 799.5,269.6 800.8,269.1 802.1,269.8 803.0,271.0 803.6,272.4 804.2,273.8 804.7,275.2 805.2,276.6 805.6,278.1 806.0,279.5 806.3,281.0 806.7,282.4 807.0,283.9 807.3,285.4 807.6,286.8 807.9,288.3 808.2,289.8 808.5,291.2 808.7,292.7 809.0,294.2 809.2,295.7 809.5,297.2 809.7,298.6 810.0,300.1 810.2,301.6 810.4,303.1 810.7,304.6 810.9,306.0 811.1,307.5 811.3,309.0 811.6,310.5 811.8,312.0 812.0,313.5 812.2,315.0 812.4,316.4 812.6,317.9 812.8,319.4 813.0,320.9 813.2,322.4 813.4,323.9 813.6,325.4 813.8,326.8 814.0,328.3 814.2,329.8 814.4,331.3 814.6,332.8 814.8,334.3 815.0,335.8 815.2,337.3 815.3,338.7 815.5,340.2 815.7,341.7 815.9,343.2 816.1,344.7 816.3,346.2 816.5,347.7 816.7,349.2 816.8,350.7 817.0,352.1 817.2,353.6 817.4,355.1 817.6,356.6 817.8,358.1 818.0,359.6 818.1,361.1 818.3,362.6 818.5,364.1 818.7,365.5 818.9,367.0 819.1,368.5 819.3,370.0 819.5,371.5 819.6,373.0 819.8,374.5 820.0,376.0 820.2,377.4 820.4,378.9 820.6,380.4 820.8,381.9 821.0,383.4 821.2,384.9 821.4,386.4 821.6,387.9 821.8,389.3 822.0,390.8 822.2,392.3 822.4,393.8 822.6,395.3 822.8,396.8 823.0,398.3 823.2,399.8 823.4,401.2 823.6,402.7 823.8,404.2 824.0,405.7 824.2,407.2 824.4,408.7 824.6,410.2 824.8,411.6 825.1,413.1 825.3,414.6 825.5,416.1 825.7,417.6 825.9,419.1 826.2,420.5 826.4,422.0 826.6,423.5 826.9,425.0 827.1,426.5 827.3,427.9 827.6,429.4 827.8,430.9 828.1,432.4 828.3,433.9 828.6,435.3 828.8,436.8 829.1,438.3 829.4,439.8 829.6,441.3 829.9,442.7 830.2,444.2 830.4,445.7 830.7,447.2 831.0,448.6 831.3,450.1 831.6,451.6 831.9,453.0 832.2,454.5 832.5,456.0 832.8,457.4 833.1,458.9 833.5,460.4 833.8,461.8 834.1,463.3 834.5,464.8 834.8,466.2 835.2,467.7 835.6,469.1 835.9,470.6 836.3,472.0 836.7,473.5 837.1,474.9 837.5,476.4 837.9,477.8 838.3,479.2 838.8,480.7 839.2,482.1 839.7,483.5 840.1,485.0 840.6,486.4 841.1,487.8 841.6,489.2 842.1,490.6 842.6,492.0 843.2,493.4 843.7,494.8 844.3,496.2 844.9,497.6 845.4,499.0 846.0,500.4 846.7,501.7 847.3,503.1 847.9,504.5 848.6,505.8 849.2,507.2 849.9,508.5 850.6,509.8 851.4,511.1 852.1,512.4 852.8,513.7 853.6,515.0 854.4,516.3 855.2,517.6 856.0,518.9 856.8,520.1 857.6,521.4 858.5,522.6 859.4,523.8 860.2,525.0 861.2,526.2 862.1,527.4 863.0,528.6 864.0,529.7 865.0,530.8 866.0,532.0 867.0,533.1 868.0,534.2 869.1,535.2 870.1,536.3 871.2,537.3 872.3,538.3 873.5,539.3 874.6,540.3 875.8,541.2 877.0,542.1 878.2,543.0 879.4,543.9 880.6,544.8 881.8,545.6 883.1,546.4 884.4,547.2 885.7,548.0 887.0,548.8 888.3,549.5 889.6,550.2 890.9,550.9 892.3,551.6 893.6,552.2 895.0,552.9 896.3,553.5 897.7,554.1 899.1,554.7 900.4,555.3 901.8,555.9 903.2,556.5 904.6,557.0 906.0,557.6 907.4,558.1 908.8,558.6 910.2,559.1 911.6,559.6 913.0,560.1 914.5,560.6 915.9,561.1 917.3,561.6 918.7,562.1 920.1,562.6 921.6,563.0 923.0,563.5 924.4,563.9 925.9,564.4 927.3,564.8 928.7,565.2 930.2,565.7 931.6,566.1 933.1,566.5 934.5,566.9 935.9,567.3 937.4,567.7 938.8,568.1 940.3,568.5 941.7,568.9 943.2,569.2 944.7,569.6 946.1,570.0 947.6,570.3 949.0,570.7 950.5,571.0 951.9,571.3 953.4,571.7 954.9,572.0 956.3,572.3 957.8,572.6 959.3,572.9 960.8,573.2 962.2,573.5 963.7,573.8 965.2,574.0 966.6,574.3 968.1,574.6 969.6,574.8 971.1,575.1 972.6,575.3 974.1,575.5 975.5,575.7 977.0,576.0 978.5,576.2 980.0,576.4 981.5,576.5 983.0,576.7 984.5,576.9 986.0,577.1 987.4,577.2 988.9,577.4 990.4,577.5 991.9,577.6 993.4,577.8 994.9,577.9 996.4,578.0 997.9,578.1 999.4,578.2 1000.9,578.2 1002.4,578.3 1003.9,578.4 1005.4,578.4 1006.9,578.5 1008.4,578.5 1009.9,578.5" fill="none" stroke="#84068a" stroke-width="3.0" stroke-linejoin="round" stroke-linecap="round"/>
<path d="M163.0,560.8 164.5,560.8 166.0,560.8 167.5,560.8 169.0,560.8 170.5,560.8 172.0,560.7 173.5,560.7 175.0,560.7 176.5,560.6 178.0,560.6 179.5,560.5 181.0,560.5 182.5,560.4 184.0,560.3 185.5,560.2 187.0,560.2 188.5,560.1 190.0,560.0 191.5,559.9 193.0,559.7 194.5,559.6 196.0,559.5 197.5,559.4 199.0,559.2 200.5,559.1 202.0,558.9 203.5,558.8 205.0,558.6 206.5,558.4 207.9,558.3 209.4,558.1 210.9,557.9 212.4,557.7 213.9,557.5 215.4,557.3 216.9,557.0 218.4,556.8 219.8,556.6 221.3,556.3 222.8,556.1 224.3,555.8 225.8,555.6 227.2,555.3 228.7,555.0 230.2,554.7 231.7,554.5 233.1,554.2 234.6,553.9 236.1,553.6 237.5,553.2 239.0,552.9 240.5,552.6 241.9,552.3 243.4,551.9 244.9,551.6 246.3,551.2 247.8,550.9 249.2,550.5 250.7,550.1 252.2,549.8 253.6,549.4 255.1,549.0 256.5,548.6 258.0,548.2 259.4,547.8 260.8,547.4 262.3,547.0 263.7,546.5 265.2,546.1 266.6,545.7 268.0,545.2 269.5,544.8 270.9,544.3 272.3,543.9 273.8,543.4 275.2,542.9 276.6,542.4 278.0,542.0 279.4,541.4 280.8,540.9 282.3,540.4 283.7,539.9 285.1,539.3 286.5,538.8 287.8,538.2 289.2,537.7 290.6,537.1 292.0,536.5 293.4,535.9 294.7,535.2 296.1,534.6 297.5,534.0 298.8,533.3 300.2,532.7 301.5,532.0 302.8,531.3 304.2,530.6 305.5,529.9 306.8,529.2 308.2,528.5 309.5,527.8 310.8,527.1 312.1,526.4 313.5,525.7 314.8,525.0 316.1,524.2 317.4,523.5 318.7,522.8 320.1,522.1 321.4,521.4 322.7,520.8 324.1,520.1 325.4,519.4 326.8,518.8 328.2,518.2 329.6,517.6 331.0,517.1 332.4,516.6 333.8,516.1 335.2,515.6 336.7,515.2 338.1,514.9 339.6,514.5 341.1,514.3 342.6,514.1 344.1,513.9 345.6,513.8 347.1,513.8 348.6,513.8 350.1,513.8 351.6,513.9 353.1,514.1 354.5,514.3 356.0,514.5 357.5,514.7 359.0,515.0 360.5,515.3 361.9,515.6 363.4,515.9 364.8,516.3 366.3,516.6 367.8,517.0 369.2,517.4 370.7,517.7 372.1,518.1 373.6,518.5 375.1,518.8 376.5,519.2 378.0,519.5 379.5,519.8 380.9,520.1 382.4,520.3 383.9,520.6 385.4,520.8 386.9,521.0 388.4,521.1 389.9,521.2 391.4,521.3 392.9,521.3 394.4,521.2 395.9,521.1 397.4,521.0 398.8,520.8 400.3,520.5 401.8,520.2 403.2,519.8 404.7,519.4 406.1,518.9 407.5,518.3 408.8,517.7 410.2,517.0 411.5,516.3 412.8,515.5 414.1,514.7 415.3,513.9 416.5,513.0 417.7,512.1 418.9,511.1 420.0,510.2 421.2,509.2 422.3,508.2 423.4,507.2 424.5,506.1 425.5,505.1 426.6,504.0 427.6,502.9 428.6,501.8 429.7,500.7 430.7,499.6 431.7,498.5 432.7,497.4 433.7,496.2 434.7,495.1 435.7,494.0 436.6,492.9 437.6,491.7 438.6,490.6 439.6,489.5 440.6,488.3 441.6,487.2 442.5,486.0 443.5,484.9 444.5,483.8 445.5,482.6 446.5,481.5 447.5,480.4 448.5,479.2 449.4,478.1 450.4,477.0 451.4,475.8 452.4,474.7 453.4,473.6 454.3,472.4 455.3,471.3 456.3,470.1 457.2,469.0 458.2,467.8 459.1,466.6 460.0,465.4 460.9,464.2 461.8,463.0 462.7,461.8 463.6,460.6 464.5,459.4 465.3,458.2 466.2,456.9 467.0,455.7 467.8,454.4 468.6,453.1 469.4,451.9 470.2,450.6 471.0,449.3 471.7,448.0 472.5,446.7 473.2,445.4 473.9,444.1 474.6,442.7 475.3,441.4 476.0,440.1 476.7,438.7 477.4,437.4 478.1,436.1 478.8,434.7 479.4,433.4 480.1,432.0 480.7,430.7 481.4,429.3 482.0,428.0 482.7,426.6 483.3,425.3 484.0,423.9 484.6,422.5 485.2,421.2 485.9,419.8 486.5,418.5 487.2,417.1 487.8,415.7 488.5,414.4 489.1,413.0 489.8,411.7 490.4,410.3 491.1,409.0 491.8,407.7 492.5,406.3 493.2,405.0 493.9,403.7 494.7,402.4 495.4,401.1 496.2,399.8 497.0,398.5 497.8,397.3 498.7,396.1 499.6,394.9 500.6,393.8 501.7,392.7 502.8,391.7 504.0,390.9 505.4,390.2 506.8,389.8 508.3,389.8 509.8,390.1 511.2,390.8 512.4,391.6 513.5,392.6 514.5,393.7 515.5,394.9 516.4,396.1 517.2,397.3 518.0,398.6 518.8,399.9 519.5,401.2 520.2,402.5 520.9,403.8 521.6,405.2 522.2,406.6 522.8,407.9 523.5,409.3 524.1,410.7 524.7,412.0 525.2,413.4 525.8,414.8 526.4,416.2 526.9,417.6 527.5,419.0 528.0,420.4 528.5,421.8 529.1,423.2 529.6,424.6 530.1,426.0 530.7,427.4 531.2,428.8 531.7,430.2 532.2,431.7 532.7,433.1 533.2,434.5 533.7,435.9 534.3,437.3 534.8,438.7 535.3,440.1 535.8,441.5 536.3,443.0 536.8,444.4 537.3,445.8 537.8,447.2 538.4,448.6 538.9,450.0 539.4,451.4 539.9,452.8 540.4,454.2 541.0,455.6 541.5,457.0 542.0,458.4 542.6,459.8 543.1,461.2 543.7,462.6 544.2,464.0 544.8,465.4 545.4,466.8 545.9,468.2 546.5,469.6 547.1,471.0 547.7,472.4 548.3,473.7 548.9,475.1 549.5,476.5 550.1,477.8 550.8,479.2 551.4,480.5 552.1,481.9 552.8,483.2 553.5,484.6 554.1,485.9 554.9,487.2 555.6,488.5 556.3,489.8 557.1,491.1 557.9,492.4 558.7,493.7 559.5,495.0 560.3,496.2 561.2,497.4 562.1,498.6 563.0,499.8 563.9,501.0 564.9,502.2 565.9,503.3 566.9,504.4 567.9,505.5 569.0,506.5 570.1,507.5 571.2,508.5 572.4,509.5 573.6,510.4 574.8,511.3 576.1,512.1 577.3,512.9 578.6,513.7 579.9,514.4 581.3,515.1 582.6,515.8 584.0,516.4 585.3,517.0 586.7,517.6 588.1,518.2 589.5,518.7 590.9,519.3 592.3,519.8 593.7,520.3 595.1,520.9 596.5,521.4 598.0,521.9 599.4,522.4 600.8,522.9 602.2,523.4 603.6,523.9 605.0,524.4 606.4,525.0 607.8,525.5 609.2,526.0 610.6,526.5 612.0,527.1 613.4,527.6 614.8,528.2 616.2,528.7 617.6,529.3 619.0,529.8 620.4,530.4 621.8,530.9 623.2,531.5 624.6,532.0 626.0,532.6 627.4,533.1 628.8,533.7 630.2,534.2 631.6,534.8 633.0,535.3 634.4,535.8 635.8,536.3 637.2,536.8 638.7,537.3 640.1,537.8 641.5,538.3 642.9,538.8 644.4,539.2 645.8,539.7 647.2,540.1 648.7,540.5 650.1,540.9 651.6,541.3 653.0,541.7 654.5,542.0 656.0,542.4 657.4,542.7 658.9,543.0 660.4,543.3 661.8,543.6 663.3,543.8 664.8,544.1 666.3,544.3 667.8,544.5 669.3,544.7 670.7,544.9 672.2,545.0 673.7,545.2 675.2,545.3 676.7,545.4 678.2,545.5 679.7,545.6 681.2,545.7 682.7,545.7 684.2,545.7 685.7,545.7 687.2,545.7 688.7,545.7 690.2,545.6 691.7,545.5 693.2,545.3 694.7,545.1 696.2,544.8 697.7,544.5 699.1,544.1 700.6,543.8 702.0,543.4 703.5,543.0 705.0,542.8 706.5,542.7 708.0,542.7 709.5,542.9 710.9,543.1 712.4,543.4 713.9,543.6 715.4,543.8 716.9,544.0 718.4,544.1 719.9,544.2 721.4,544.2 722.9,544.1 724.4,544.1 725.9,544.0 727.4,543.8 728.9,543.7 730.4,543.5 731.8,543.2 733.3,543.0 734.8,542.7 736.3,542.4 737.7,542.0 739.2,541.6 740.6,541.2 742.0,540.7 743.4,540.2 744.8,539.6 746.2,539.0 747.5,538.3 748.8,537.6 750.1,536.8 751.4,536.0 752.6,535.1 753.8,534.2 754.9,533.2 756.0,532.2 757.1,531.1 758.2,530.1 759.2,529.0 760.2,527.8 761.1,526.7 762.0,525.5 763.0,524.3 763.8,523.1 764.7,521.8 765.5,520.6 766.3,519.3 767.1,518.0 767.9,516.8 768.6,515.5 769.4,514.1 770.1,512.8 770.8,511.5 771.5,510.2 772.2,508.8 772.9,507.5 773.5,506.2 774.2,504.8 774.8,503.4 775.5,502.1 776.1,500.7 776.7,499.4 777.4,498.0 778.0,496.6 778.6,495.3 779.2,493.9 779.8,492.5 780.4,491.2 781.1,489.8 781.7,488.4 782.3,487.1 782.9,485.7 783.6,484.3 784.2,483.0 784.9,481.6 785.5,480.3 786.2,478.9 786.9,477.6 787.6,476.3 788.4,475.0 789.2,473.7 790.0,472.5 790.9,471.3 791.9,470.1 793.0,469.1 794.2,468.2 795.5,467.6 797.0,467.4 798.5,467.7 799.8,468.5 800.9,469.4 801.9,470.5 802.9,471.7 803.7,472.9 804.5,474.2 805.3,475.5 806.0,476.8 806.7,478.2 807.3,479.5 807.9,480.9 808.6,482.3 809.2,483.6 809.8,485.0 810.3,486.4 810.9,487.8 811.5,489.2 812.0,490.6 812.6,492.0 813.1,493.4 813.7,494.8 814.2,496.2 814.7,497.6 815.3,499.0 815.8,500.4 816.3,501.8 816.8,503.2 817.4,504.6 817.9,506.0 818.4,507.4 819.0,508.8 819.5,510.2 820.0,511.6 820.6,513.0 821.1,514.4 821.7,515.8 822.2,517.2 822.8,518.6 823.4,520.0 823.9,521.4 824.5,522.8 825.1,524.2 825.7,525.5 826.3,526.9 826.9,528.3 827.5,529.6 828.2,531.0 828.8,532.4 829.5,533.7 830.2,535.1 830.9,536.4 831.6,537.7 832.3,539.0 833.0,540.3 833.8,541.6 834.6,542.9 835.3,544.2 836.2,545.4 837.0,546.7 837.9,547.9 838.8,549.1 839.7,550.3 840.6,551.5 841.6,552.6 842.6,553.7 843.7,554.8 844.7,555.9 845.8,556.9 847.0,557.9 848.1,558.8 849.3,559.7 850.5,560.6 851.8,561.5 853.0,562.3 854.3,563.0 855.6,563.8 857.0,564.5 858.3,565.2 859.7,565.8 861.0,566.4 862.4,567.0 863.8,567.6 865.2,568.2 866.6,568.7 868.0,569.2 869.4,569.7 870.8,570.2 872.3,570.6 873.7,571.1 875.1,571.5 876.6,572.0 878.0,572.4 879.5,572.8 880.9,573.2 882.4,573.6 883.8,574.0 885.3,574.4 886.7,574.8 888.2,575.1 889.6,575.5 891.1,575.9 892.5,576.2 894.0,576.6 895.5,576.9 896.9,577.2 898.4,577.6 899.9,577.9 901.3,578.2 902.8,578.5 904.3,578.8 905.7,579.1 907.2,579.5 908.7,579.8 910.1,580.0 911.6,580.3 913.1,580.6 914.6,580.9 916.0,581.2 917.5,581.5 919.0,581.7 920.5,582.0 922.0,582.3 923.4,582.5 924.9,582.8 926.4,583.0 927.9,583.3 929.4,583.5 930.8,583.8 932.3,584.0 933.8,584.3 935.3,584.5 936.8,584.7 938.3,584.9 939.7,585.2 941.2,585.4 942.7,585.6 944.2,585.8 945.7,586.0 947.2,586.2 948.7,586.4 950.1,586.6 951.6,586.8 953.1,587.0 954.6,587.2 956.1,587.4 957.6,587.6 959.1,587.8 960.6,588.0 962.1,588.2 963.6,588.3 965.0,588.5 966.5,588.7 968.0,588.9 969.5,589.0 971.0,589.2 972.5,589.4 974.0,589.5 975.5,589.7 977.0,589.8 978.5,590.0 980.0,590.1 981.5,590.3 983.0,590.4 984.5,590.6 986.0,590.7 987.4,590.8 988.9,591.0 990.4,591.1 991.9,591.2 993.4,591.4 994.9,591.5 996.4,591.6 997.9,591.7 999.4,591.9 1000.9,592.0 1002.4,592.1 1003.9,592.2 1005.4,592.3 1006.9,592.4 1008.4,592.5 1009.9,592.6" fill="none" stroke="#ff0a0a" stroke-width="3.0" stroke-linejoin="round" stroke-linecap="round"/>
<line x1="1154.6" y1="4.9" x2="1154.6" y2="628.6" stroke="#1a1a1a" stroke-width="2.4"/>
<line x1="1155.3" y1="8" x2="1155.3" y2="67.7" stroke="#1a1a1a" stroke-width="3.2"/>
<line x1="1141.3" y1="6.0" x2="1155" y2="6.0" stroke="#1a1a1a" stroke-width="2.2"/>
<line x1="1147.3" y1="68.1" x2="1155" y2="68.1" stroke="#1a1a1a" stroke-width="2.2"/>
<line x1="1141.3" y1="130.2" x2="1155" y2="130.2" stroke="#1a1a1a" stroke-width="2.2"/>
<line x1="1147.3" y1="192.4" x2="1155" y2="192.4" stroke="#1a1a1a" stroke-width="2.2"/>
<line x1="1141.3" y1="254.5" x2="1155" y2="254.5" stroke="#1a1a1a" stroke-width="2.2"/>
<line x1="1147.3" y1="316.6" x2="1155" y2="316.6" stroke="#1a1a1a" stroke-width="2.2"/>
<line x1="1141.3" y1="378.8" x2="1155" y2="378.8" stroke="#1a1a1a" stroke-width="2.2"/>
<line x1="1147.3" y1="440.9" x2="1155" y2="440.9" stroke="#1a1a1a" stroke-width="2.2"/>
<line x1="1141.3" y1="503.0" x2="1155" y2="503.0" stroke="#1a1a1a" stroke-width="2.2"/>
<line x1="1147.3" y1="565.1" x2="1155" y2="565.1" stroke="#1a1a1a" stroke-width="2.2"/>
<line x1="1141.3" y1="627.2" x2="1155" y2="627.2" stroke="#1a1a1a" stroke-width="2.2"/>
<line x1="1153.5" y1="627.5" x2="2008" y2="627.5" stroke="#1a1a1a" stroke-width="2.3"/>
<line x1="1153.8" y1="627" x2="1153.8" y2="639.5" stroke="#1a1a1a" stroke-width="2.2"/>
<text transform="translate(1114.44,685.29) scale(1,1.04)" font-size="31.00" font-family="'Liberation Sans',Arial,sans-serif" fill="#000">1800</text>
<line x1="1210.3" y1="627" x2="1210.3" y2="633.5" stroke="#1a1a1a" stroke-width="2.2"/>
<line x1="1266.7" y1="627" x2="1266.7" y2="639.5" stroke="#1a1a1a" stroke-width="2.2"/>
<text transform="translate(1227.36,685.29) scale(1,1.04)" font-size="31.00" font-family="'Liberation Sans',Arial,sans-serif" fill="#000">1750</text>
<line x1="1323.2" y1="627" x2="1323.2" y2="633.5" stroke="#1a1a1a" stroke-width="2.2"/>
<line x1="1379.6" y1="627" x2="1379.6" y2="639.5" stroke="#1a1a1a" stroke-width="2.2"/>
<text transform="translate(1340.27,685.29) scale(1,1.04)" font-size="31.00" font-family="'Liberation Sans',Arial,sans-serif" fill="#000">1700</text>
<line x1="1436.1" y1="627" x2="1436.1" y2="633.5" stroke="#1a1a1a" stroke-width="2.2"/>
<line x1="1492.5" y1="627" x2="1492.5" y2="639.5" stroke="#1a1a1a" stroke-width="2.2"/>
<text transform="translate(1453.19,685.29) scale(1,1.04)" font-size="31.00" font-family="'Liberation Sans',Arial,sans-serif" fill="#000">1650</text>
<line x1="1549.0" y1="627" x2="1549.0" y2="633.5" stroke="#1a1a1a" stroke-width="2.2"/>
<line x1="1605.5" y1="627" x2="1605.5" y2="639.5" stroke="#1a1a1a" stroke-width="2.2"/>
<text transform="translate(1566.10,685.29) scale(1,1.04)" font-size="31.00" font-family="'Liberation Sans',Arial,sans-serif" fill="#000">1600</text>
<line x1="1661.9" y1="627" x2="1661.9" y2="633.5" stroke="#1a1a1a" stroke-width="2.2"/>
<line x1="1718.4" y1="627" x2="1718.4" y2="639.5" stroke="#1a1a1a" stroke-width="2.2"/>
<text transform="translate(1679.02,685.29) scale(1,1.04)" font-size="31.00" font-family="'Liberation Sans',Arial,sans-serif" fill="#000">1550</text>
<line x1="1774.8" y1="627" x2="1774.8" y2="633.5" stroke="#1a1a1a" stroke-width="2.2"/>
<line x1="1831.3" y1="627" x2="1831.3" y2="639.5" stroke="#1a1a1a" stroke-width="2.2"/>
<text transform="translate(1791.93,685.29) scale(1,1.04)" font-size="31.00" font-family="'Liberation Sans',Arial,sans-serif" fill="#000">1500</text>
<line x1="1887.7" y1="627" x2="1887.7" y2="633.5" stroke="#1a1a1a" stroke-width="2.2"/>
<line x1="1944.2" y1="627" x2="1944.2" y2="639.5" stroke="#1a1a1a" stroke-width="2.2"/>
<text transform="translate(1904.85,685.29) scale(1,1.04)" font-size="31.00" font-family="'Liberation Sans',Arial,sans-serif" fill="#000">1450</text>
<line x1="2000.7" y1="627" x2="2000.7" y2="633.5" stroke="#1a1a1a" stroke-width="2.2"/>
<text transform="translate(1480.53,730.19) scale(1,1.04)" font-size="31.00" font-family="'Liberation Sans',Arial,sans-serif" fill="#000">Wavenumber / cm</text>
<text transform="translate(1732.54,716.30) scale(1,1.04)" font-size="28.00" font-family="'Liberation Sans',Arial,sans-serif">-1</text>
<text transform="translate(1105.89,474.26) rotate(-90) scale(1,1.04)" font-size="30.81" font-family="'Liberation Sans',Arial,sans-serif">Absorbance / arb. units</text>
<text transform="translate(1156.99,42.91) scale(1,1.04)" font-size="28.46" font-family="'Liberation Sans',Arial,sans-serif" fill="#000">0.5 A.u.</text>
<text transform="translate(1028.79,52.10) scale(1,1.119)" font-size="44.93" font-family="'Liberation Sans',Arial,sans-serif" font-weight="bold" fill="#000">B</text>
<line x1="1562.3" y1="36.4" x2="1623.8" y2="36.4" stroke="#84068a" stroke-width="3.3" stroke-linecap="round"/>
<text transform="translate(1631.09,45.90) scale(1,1.04)" font-size="28.10" font-family="'Liberation Sans',Arial,sans-serif" fill="#000">NERY</text>
<text transform="translate(1716.75,45.90) scale(1,1.04)" font-size="25.00" font-family="'Liberation Sans',Arial,sans-serif">+ 10×DPPC</text>
<line x1="1562.3" y1="70.5" x2="1623.8" y2="70.5" stroke="#808010" stroke-width="3.3" stroke-linecap="round"/>
<text transform="translate(1630.55,80.00) scale(1,1.04)" font-size="25.00" font-family="'Liberation Sans',Arial,sans-serif">NERY + 5×DPPC</text>
<line x1="1562.3" y1="104.6" x2="1623.8" y2="104.6" stroke="#ff0a0a" stroke-width="3.3" stroke-linecap="round"/>
<text transform="translate(1630.55,114.10) scale(1,1.04)" font-size="25.00" font-family="'Liberation Sans',Arial,sans-serif">NERY + 2×DPPC</text>
<line x1="1562.3" y1="138.7" x2="1623.8" y2="138.7" stroke="#0a0aff" stroke-width="3.3" stroke-linecap="round"/>
<text transform="translate(1630.55,148.20) scale(1,1.04)" font-size="25.00" font-family="'Liberation Sans',Arial,sans-serif">NERY + 1×DPPC</text>
<line x1="1562.3" y1="172.8" x2="1623.8" y2="172.8" stroke="#0a820a" stroke-width="3.3" stroke-linecap="round"/>
<text transform="translate(1630.55,182.30) scale(1,1.04)" font-size="25.00" font-family="'Liberation Sans',Arial,sans-serif">NERY + 0.5×DPPC</text>
<line x1="1562.3" y1="206.9" x2="1623.8" y2="206.9" stroke="#000000" stroke-width="3.3" stroke-linecap="round"/>
<text transform="translate(1630.55,216.40) scale(1,1.04)" font-size="25.00" font-family="'Liberation Sans',Arial,sans-serif">NERY</text>
<text transform="translate(1271.20,62.00) scale(1,1.04)" font-size="30.00" font-family="'Liberation Serif','Times New Roman',serif">ν</text>
<text transform="translate(1284.53,62.03) scale(1,0.924)" font-size="30.10" font-family="'Liberation Sans',Arial,sans-serif" font-weight="bold" fill="#000">C=O</text>
<text transform="translate(1408.61,172.82) scale(1,0.956)" font-size="30.48" font-family="'Liberation Sans',Arial,sans-serif" font-weight="bold" fill="#000">amide I</text>
<text transform="translate(1665.31,263.63) scale(1,0.916)" font-size="30.46" font-family="'Liberation Sans',Arial,sans-serif" font-weight="bold" fill="#000">amide II</text>
<text transform="translate(1900.40,183.80) scale(1,1.04)" font-size="30.00" font-family="'Liberation Serif','Times New Roman',serif">δ</text>
<text transform="translate(1914.34,183.85) scale(1,0.867)" font-size="29.17" font-family="'Liberation Sans',Arial,sans-serif" font-weight="bold" fill="#000">CH</text>
<text transform="translate(1956.77,191.80) scale(1,1.04)" font-size="22.00" font-family="'Liberation Sans',Arial,sans-serif" font-weight="bold">2</text>
<text transform="translate(1309.62,138.47) rotate(-90) scale(1,1.04)" font-size="27.23" font-family="'Liberation Sans',Arial,sans-serif">1736</text>
<line x1="1298" y1="150" x2="1298" y2="257" stroke="#000" stroke-width="2.6" stroke-dasharray="6,5.4"/>
<line x1="1298" y1="289.5" x2="1298" y2="494" stroke="#000" stroke-width="2.6" stroke-dasharray="6,5.4"/>
<text transform="translate(1488.32,241.59) rotate(-90) scale(1,1.04)" font-size="27.45" font-family="'Liberation Sans',Arial,sans-serif">1657</text>
<line x1="1478.8" y1="250" x2="1478.8" y2="480" stroke="#000" stroke-width="2.6" stroke-dasharray="6,5.4"/>
<text transform="translate(1494.42,586.58) rotate(-90) scale(1,1.04)" font-size="27.27" font-family="'Liberation Sans',Arial,sans-serif">1653</text>
<line x1="1486" y1="473" x2="1486" y2="518.5" stroke="#000" stroke-width="2.6" stroke-dasharray="6,5.4"/>
<text transform="translate(1538.82,612.58) rotate(-90) scale(1,1.04)" font-size="27.25" font-family="'Liberation Sans',Arial,sans-serif">1635</text>
<line x1="1523.5" y1="494" x2="1523.5" y2="543" stroke="#000" stroke-width="2.6" stroke-dasharray="6,5.4"/>
<line x1="1528.3" y1="395.5" x2="1528.3" y2="476" stroke="#000" stroke-width="2.6" stroke-dasharray="6,5.4"/>
<polygon points="1523,472.5 1533.2,472.5 1528.2,494" fill="#000"/>
<text transform="translate(1302.93,603.92) rotate(-90) scale(1,1.04)" font-size="26.56" font-family="'Liberation Sans',Arial,sans-serif">1739</text>
<text transform="translate(1736.32,342.90) rotate(-90) scale(1,1.04)" font-size="27.63" font-family="'Liberation Sans',Arial,sans-serif">1545</text>
<line x1="1728.8" y1="350" x2="1728.8" y2="545.5" stroke="#000" stroke-width="2.6" stroke-dasharray="6,5.4"/>
<text transform="translate(1912.32,271.21) rotate(-90) scale(1,1.04)" font-size="27.74" font-family="'Liberation Sans',Arial,sans-serif">1467</text>
<line x1="1905.3" y1="279" x2="1905.3" y2="580" stroke="#000" stroke-width="2.6" stroke-dasharray="6,5.4"/>
<path d="M1154.9,620.0 1156.4,620.0 1157.9,620.1 1159.4,620.1 1160.9,620.2 1162.4,620.2 1163.9,620.2 1165.4,620.3 1166.9,620.3 1168.4,620.4 1169.9,620.4 1171.4,620.5 1172.9,620.5 1174.4,620.5 1175.9,620.6 1177.4,620.6 1178.9,620.6 1180.4,620.7 1181.9,620.7 1183.4,620.7 1184.9,620.7 1186.4,620.8 1187.9,620.8 1189.4,620.8 1190.9,620.8 1192.4,620.8 1193.9,620.8 1195.4,620.8 1196.9,620.8 1198.4,620.8 1199.9,620.8 1201.4,620.8 1202.9,620.8 1204.4,620.8 1205.9,620.8 1207.4,620.8 1208.9,620.7 1210.4,620.7 1211.9,620.7 1213.4,620.6 1214.9,620.6 1216.4,620.5 1217.9,620.5 1219.4,620.4 1220.9,620.3 1222.4,620.2 1223.9,620.1 1225.4,620.0 1226.9,619.9 1228.4,619.8 1229.9,619.6 1231.4,619.4 1232.8,619.3 1234.3,619.1 1235.8,618.9 1237.3,618.7 1238.8,618.4 1240.3,618.2 1241.7,617.9 1243.2,617.6 1244.7,617.3 1246.1,617.0 1247.6,616.6 1249.1,616.3 1250.5,615.9 1251.9,615.4 1253.4,615.0 1254.8,614.5 1256.2,614.1 1257.6,613.6 1259.0,613.0 1260.4,612.5 1261.8,612.0 1263.2,611.4 1264.6,610.8 1266.0,610.2 1267.4,609.6 1268.7,609.0 1270.1,608.4 1271.5,607.8 1272.9,607.2 1274.2,606.6 1275.6,606.1 1277.0,605.6 1278.5,605.1 1279.9,604.6 1281.3,604.2 1282.8,603.9 1284.3,603.6 1285.8,603.5 1287.3,603.3 1288.8,603.3 1290.3,603.3 1291.8,603.4 1293.3,603.6 1294.8,603.7 1296.2,604.0 1297.7,604.2 1299.2,604.5 1300.7,604.8 1302.1,605.1 1303.6,605.4 1305.1,605.7 1306.5,605.9 1308.0,606.2 1309.5,606.5 1311.0,606.8 1312.4,607.1 1313.9,607.3 1315.4,607.6 1316.9,607.8 1318.4,608.1 1319.8,608.4 1321.3,608.6 1322.8,608.9 1324.3,609.2 1325.7,609.4 1327.2,609.7 1328.7,610.0 1330.2,610.3 1331.6,610.6 1333.1,610.9 1334.6,611.1 1336.0,611.4 1337.5,611.7 1339.0,612.0 1340.5,612.2 1342.0,612.5 1343.4,612.7 1344.9,612.9 1346.4,613.1 1347.9,613.2 1349.4,613.3 1350.9,613.4 1352.4,613.5 1353.9,613.5 1355.4,613.4 1356.9,613.4 1358.4,613.2 1359.9,613.1 1361.4,612.8 1362.8,612.6 1364.3,612.2 1365.8,611.9 1367.2,611.5 1368.6,611.0 1370.1,610.5 1371.5,610.0 1372.8,609.4 1374.2,608.8 1375.6,608.2 1376.9,607.5 1378.3,606.8 1379.6,606.1 1380.9,605.4 1382.2,604.6 1383.5,603.9 1384.7,603.1 1386.0,602.2 1387.2,601.4 1388.5,600.6 1389.7,599.7 1390.9,598.8 1392.2,598.0 1393.4,597.1 1394.6,596.2 1395.8,595.3 1397.0,594.4 1398.2,593.5 1399.4,592.6 1400.5,591.6 1401.7,590.7 1402.9,589.8 1404.1,588.9 1405.3,588.0 1406.4,587.0 1407.6,586.1 1408.8,585.2 1410.0,584.2 1411.1,583.3 1412.3,582.4 1413.5,581.4 1414.7,580.5 1415.8,579.5 1417.0,578.6 1418.2,577.7 1419.3,576.7 1420.5,575.7 1421.6,574.8 1422.8,573.8 1423.9,572.8 1425.0,571.8 1426.1,570.8 1427.2,569.8 1428.3,568.8 1429.4,567.7 1430.5,566.7 1431.5,565.6 1432.5,564.5 1433.6,563.4 1434.6,562.3 1435.5,561.2 1436.5,560.0 1437.5,558.8 1438.4,557.7 1439.3,556.5 1440.2,555.3 1441.1,554.1 1442.0,552.9 1442.8,551.6 1443.7,550.4 1444.5,549.1 1445.3,547.9 1446.1,546.6 1446.9,545.3 1447.7,544.1 1448.5,542.8 1449.2,541.5 1450.0,540.2 1450.8,538.9 1451.5,537.6 1452.2,536.3 1453.0,535.0 1453.7,533.7 1454.4,532.3 1455.1,531.0 1455.9,529.7 1456.6,528.4 1457.3,527.1 1458.0,525.8 1458.7,524.4 1459.4,523.1 1460.2,521.8 1460.9,520.5 1461.6,519.2 1462.4,517.9 1463.1,516.6 1463.9,515.3 1464.6,514.0 1465.4,512.7 1466.2,511.4 1467.0,510.2 1467.8,508.9 1468.7,507.7 1469.5,506.4 1470.4,505.2 1471.3,504.0 1472.3,502.9 1473.3,501.8 1474.3,500.7 1475.4,499.7 1476.6,498.7 1477.8,497.9 1479.1,497.1 1480.5,496.5 1481.9,496.1 1483.4,495.9 1484.9,495.8 1486.4,496.0 1487.9,496.3 1489.3,496.7 1490.7,497.3 1492.1,497.9 1493.4,498.6 1494.7,499.3 1496.0,500.1 1497.3,500.9 1498.6,501.7 1499.8,502.5 1501.1,503.3 1502.3,504.1 1503.6,505.0 1504.8,505.8 1506.1,506.6 1507.4,507.4 1508.6,508.3 1509.8,509.1 1511.0,510.0 1512.2,510.9 1513.4,511.8 1514.6,512.8 1515.7,513.8 1516.8,514.8 1517.9,515.9 1518.9,516.9 1519.9,518.0 1520.9,519.2 1521.9,520.3 1522.9,521.5 1523.8,522.6 1524.7,523.8 1525.6,525.0 1526.5,526.2 1527.4,527.4 1528.3,528.6 1529.2,529.8 1530.1,531.0 1531.0,532.2 1531.9,533.4 1532.8,534.6 1533.8,535.8 1534.7,537.0 1535.6,538.1 1536.6,539.3 1537.5,540.5 1538.5,541.6 1539.5,542.7 1540.4,543.9 1541.5,545.0 1542.5,546.1 1543.5,547.2 1544.6,548.2 1545.6,549.3 1546.7,550.3 1547.8,551.4 1548.9,552.4 1550.0,553.4 1551.1,554.4 1552.3,555.4 1553.4,556.4 1554.5,557.3 1555.7,558.3 1556.9,559.2 1558.0,560.2 1559.2,561.1 1560.4,562.0 1561.6,563.0 1562.7,563.9 1563.9,564.8 1565.1,565.7 1566.3,566.6 1567.5,567.5 1568.7,568.4 1569.9,569.3 1571.1,570.2 1572.3,571.1 1573.5,572.0 1574.7,572.9 1576.0,573.7 1577.2,574.6 1578.4,575.5 1579.7,576.3 1580.9,577.2 1582.2,578.0 1583.4,578.8 1584.7,579.6 1586.0,580.4 1587.2,581.2 1588.5,581.9 1589.8,582.7 1591.1,583.4 1592.5,584.1 1593.8,584.8 1595.1,585.5 1596.5,586.1 1597.8,586.8 1599.2,587.4 1600.6,588.0 1602.0,588.6 1603.4,589.1 1604.8,589.6 1606.2,590.1 1607.6,590.6 1609.1,591.0 1610.5,591.5 1611.9,591.9 1613.4,592.2 1614.9,592.6 1616.3,592.9 1617.8,593.2 1619.3,593.5 1620.7,593.7 1622.2,593.9 1623.7,594.1 1625.2,594.3 1626.7,594.5 1628.2,594.6 1629.7,594.7 1631.2,594.8 1632.7,594.8 1634.2,594.9 1635.7,594.9 1637.2,594.9 1638.7,594.9 1640.2,594.8 1641.7,594.8 1643.2,594.7 1644.7,594.6 1646.2,594.5 1647.7,594.4 1649.2,594.2 1650.7,594.0 1652.1,593.9 1653.6,593.7 1655.1,593.4 1656.6,593.2 1658.1,592.9 1659.5,592.7 1661.0,592.4 1662.5,592.1 1663.9,591.7 1665.4,591.4 1666.9,591.0 1668.3,590.6 1669.7,590.2 1671.2,589.7 1672.6,589.2 1674.0,588.7 1675.4,588.2 1676.8,587.7 1678.2,587.1 1679.6,586.5 1680.9,585.9 1682.3,585.2 1683.6,584.6 1685.0,583.9 1686.3,583.1 1687.6,582.4 1688.9,581.6 1690.1,580.8 1691.4,580.0 1692.6,579.2 1693.9,578.3 1695.1,577.4 1696.3,576.6 1697.5,575.7 1698.7,574.7 1699.9,573.8 1701.0,572.9 1702.2,571.9 1703.3,570.9 1704.5,569.9 1705.6,569.0 1706.7,568.0 1707.8,567.0 1709.0,566.0 1710.1,565.0 1711.2,564.0 1712.3,563.0 1713.4,562.0 1714.6,561.0 1715.7,560.0 1716.8,559.0 1718.0,558.1 1719.1,557.1 1720.3,556.2 1721.5,555.3 1722.7,554.4 1724.0,553.6 1725.3,552.8 1726.6,552.1 1727.9,551.4 1729.3,550.8 1730.7,550.3 1732.2,550.0 1733.7,549.7 1735.2,549.6 1736.7,549.7 1738.1,549.8 1739.6,550.2 1741.0,550.6 1742.4,551.1 1743.8,551.7 1745.2,552.4 1746.5,553.1 1747.7,553.9 1749.0,554.8 1750.2,555.6 1751.4,556.5 1752.6,557.4 1753.8,558.3 1755.0,559.2 1756.2,560.1 1757.4,561.0 1758.6,562.0 1759.8,562.9 1761.0,563.8 1762.2,564.7 1763.4,565.6 1764.6,566.5 1765.8,567.3 1767.0,568.2 1768.3,569.0 1769.5,569.8 1770.8,570.6 1772.1,571.4 1773.4,572.2 1774.7,572.9 1776.0,573.6 1777.3,574.3 1778.7,575.0 1780.0,575.7 1781.3,576.4 1782.7,577.1 1784.0,577.7 1785.4,578.4 1786.7,579.1 1788.0,579.8 1789.3,580.5 1790.6,581.3 1791.9,582.0 1793.2,582.8 1794.5,583.6 1795.8,584.4 1797.0,585.2 1798.3,586.0 1799.5,586.8 1800.8,587.7 1802.0,588.5 1803.3,589.3 1804.5,590.1 1805.8,591.0 1807.1,591.8 1808.3,592.6 1809.6,593.4 1810.9,594.2 1812.1,595.0 1813.4,595.7 1814.7,596.5 1816.0,597.2 1817.4,597.9 1818.7,598.6 1820.0,599.3 1821.4,599.9 1822.7,600.6 1824.1,601.2 1825.5,601.8 1826.9,602.4 1828.3,602.9 1829.7,603.5 1831.1,604.0 1832.5,604.5 1833.9,605.0 1835.3,605.4 1836.8,605.9 1838.2,606.3 1839.7,606.7 1841.1,607.1 1842.6,607.5 1844.0,607.8 1845.5,608.2 1846.9,608.5 1848.4,608.8 1849.9,609.2 1851.3,609.4 1852.8,609.7 1854.3,610.0 1855.8,610.2 1857.2,610.5 1858.7,610.7 1860.2,610.9 1861.7,611.1 1863.2,611.3 1864.7,611.5 1866.2,611.6 1867.7,611.7 1869.2,611.8 1870.7,611.9 1872.2,611.9 1873.7,611.9 1875.2,611.8 1876.7,611.6 1878.1,611.4 1879.6,611.2 1881.1,610.8 1882.5,610.4 1883.9,609.9 1885.3,609.3 1886.7,608.6 1888.0,607.9 1889.3,607.2 1890.5,606.4 1891.8,605.5 1893.0,604.7 1894.2,603.8 1895.5,602.9 1896.7,602.1 1897.9,601.2 1899.2,600.4 1900.4,599.6 1901.8,598.9 1903.1,598.2 1904.5,597.6 1905.9,597.1 1907.4,596.8 1908.8,596.6 1910.3,596.5 1911.8,596.5 1913.3,596.6 1914.8,596.8 1916.3,597.1 1917.8,597.3 1919.3,597.6 1920.7,597.9 1922.2,598.2 1923.7,598.4 1925.2,598.6 1926.7,598.7 1928.2,598.8 1929.7,598.9 1931.2,598.9 1932.7,599.0 1934.2,599.0 1935.7,599.0 1937.2,599.1 1938.7,599.1 1940.2,599.3 1941.6,599.4 1943.1,599.6 1944.6,599.9 1946.1,600.1 1947.6,600.5 1949.0,600.8 1950.5,601.2 1951.9,601.6 1953.3,602.1 1954.8,602.5 1956.2,603.0 1957.6,603.5 1959.0,604.0 1960.4,604.5 1961.9,604.9 1963.3,605.4 1964.7,605.9 1966.2,606.3 1967.6,606.7 1969.0,607.1 1970.5,607.5 1972.0,607.8 1973.4,608.2 1974.9,608.5 1976.4,608.7 1977.8,609.0 1979.3,609.2 1980.8,609.3 1982.3,609.5 1983.8,609.6 1985.3,609.7 1986.8,609.8 1988.3,609.9 1989.8,609.9 1991.3,609.9 1992.8,610.0 1994.3,609.9 1995.8,609.9 1997.3,609.9 1998.8,609.9 2000.3,609.8" fill="none" stroke="#000000" stroke-width="3.0" stroke-linejoin="round" stroke-linecap="round"/>
<path d="M1154.3,589.4 1155.8,589.4 1157.3,589.4 1158.8,589.4 1160.3,589.4 1161.8,589.4 1163.3,589.3 1164.8,589.3 1166.3,589.3 1167.8,589.3 1169.3,589.3 1170.8,589.2 1172.3,589.2 1173.8,589.2 1175.3,589.2 1176.8,589.1 1178.3,589.1 1179.8,589.1 1181.3,589.0 1182.8,589.0 1184.3,589.0 1185.8,589.0 1187.3,588.9 1188.8,588.9 1190.3,588.8 1191.8,588.8 1193.3,588.8 1194.8,588.7 1196.3,588.7 1197.8,588.6 1199.3,588.6 1200.8,588.5 1202.3,588.5 1203.8,588.4 1205.3,588.4 1206.8,588.3 1208.3,588.3 1209.8,588.2 1211.3,588.1 1212.8,588.0 1214.3,588.0 1215.8,587.9 1217.3,587.8 1218.8,587.7 1220.3,587.6 1221.8,587.4 1223.3,587.3 1224.8,587.1 1226.3,587.0 1227.8,586.8 1229.2,586.6 1230.7,586.3 1232.2,586.1 1233.7,585.8 1235.1,585.5 1236.6,585.1 1238.1,584.7 1239.5,584.3 1240.9,583.9 1242.3,583.4 1243.7,582.8 1245.1,582.2 1246.5,581.6 1247.8,581.0 1249.2,580.3 1250.5,579.5 1251.8,578.8 1253.0,578.0 1254.3,577.1 1255.5,576.3 1256.7,575.4 1257.9,574.5 1259.1,573.6 1260.3,572.6 1261.4,571.6 1262.6,570.7 1263.7,569.7 1264.8,568.7 1265.9,567.7 1267.0,566.6 1268.1,565.6 1269.2,564.6 1270.3,563.6 1271.4,562.6 1272.6,561.6 1273.7,560.6 1274.8,559.6 1276.0,558.7 1277.2,557.7 1278.4,556.8 1279.6,556.0 1280.9,555.2 1282.2,554.4 1283.5,553.8 1284.9,553.2 1286.3,552.7 1287.8,552.4 1289.3,552.2 1290.8,552.0 1292.3,552.0 1293.8,552.2 1295.3,552.4 1296.7,552.6 1298.2,553.0 1299.6,553.3 1301.1,553.7 1302.5,554.2 1303.9,554.6 1305.4,555.1 1306.8,555.6 1308.2,556.1 1309.6,556.6 1311.1,557.1 1312.5,557.6 1313.9,558.1 1315.3,558.6 1316.7,559.1 1318.1,559.6 1319.5,560.1 1320.9,560.6 1322.3,561.1 1323.7,561.7 1325.1,562.2 1326.5,562.8 1327.9,563.3 1329.3,563.9 1330.7,564.4 1332.1,565.0 1333.5,565.5 1334.9,566.0 1336.4,566.5 1337.8,567.0 1339.2,567.5 1340.6,567.9 1342.1,568.3 1343.5,568.7 1345.0,569.0 1346.5,569.3 1348.0,569.5 1349.4,569.7 1350.9,569.9 1352.4,570.0 1353.9,570.1 1355.4,570.1 1356.9,570.1 1358.4,570.0 1359.9,569.8 1361.4,569.7 1362.9,569.4 1364.4,569.1 1365.8,568.8 1367.3,568.4 1368.7,568.0 1370.1,567.5 1371.6,567.0 1372.9,566.4 1374.3,565.8 1375.7,565.2 1377.0,564.5 1378.4,563.8 1379.7,563.1 1381.0,562.4 1382.3,561.6 1383.5,560.8 1384.8,560.0 1386.0,559.1 1387.3,558.3 1388.5,557.4 1389.7,556.5 1390.9,555.6 1392.1,554.7 1393.2,553.7 1394.4,552.8 1395.6,551.8 1396.7,550.9 1397.8,549.9 1399.0,548.9 1400.1,547.9 1401.2,546.9 1402.3,545.9 1403.4,544.9 1404.5,543.8 1405.6,542.8 1406.7,541.8 1407.8,540.7 1408.8,539.7 1409.9,538.6 1411.0,537.6 1412.0,536.5 1413.1,535.4 1414.2,534.4 1415.2,533.3 1416.3,532.2 1417.3,531.2 1418.4,530.1 1419.4,529.0 1420.5,527.9 1421.5,526.9 1422.5,525.8 1423.6,524.7 1424.6,523.6 1425.7,522.5 1426.7,521.5 1427.7,520.4 1428.8,519.3 1429.8,518.2 1430.8,517.1 1431.9,516.0 1432.9,514.9 1433.9,513.8 1435.0,512.7 1436.0,511.6 1437.0,510.5 1438.0,509.4 1439.0,508.3 1440.1,507.2 1441.1,506.1 1442.1,505.0 1443.1,503.9 1444.0,502.7 1445.0,501.6 1446.0,500.5 1447.0,499.3 1448.0,498.2 1448.9,497.0 1449.9,495.9 1450.8,494.7 1451.8,493.6 1452.7,492.4 1453.7,491.2 1454.6,490.1 1455.6,488.9 1456.5,487.7 1457.4,486.6 1458.4,485.4 1459.3,484.2 1460.3,483.1 1461.2,481.9 1462.2,480.8 1463.2,479.6 1464.2,478.5 1465.2,477.4 1466.2,476.3 1467.3,475.2 1468.4,474.2 1469.5,473.2 1470.6,472.2 1471.9,471.4 1473.1,470.6 1474.4,469.9 1475.8,469.3 1477.3,468.9 1478.8,468.7 1480.3,468.6 1481.8,468.8 1483.2,469.2 1484.6,469.7 1486.0,470.3 1487.3,471.0 1488.6,471.8 1489.8,472.6 1491.0,473.5 1492.2,474.4 1493.4,475.4 1494.6,476.3 1495.7,477.2 1496.9,478.2 1498.1,479.1 1499.2,480.1 1500.4,481.0 1501.6,481.9 1502.8,482.8 1504.0,483.7 1505.2,484.6 1506.5,485.5 1507.7,486.3 1509.0,487.1 1510.2,487.9 1511.5,488.7 1512.8,489.5 1514.0,490.3 1515.3,491.1 1516.6,491.9 1517.8,492.8 1519.1,493.6 1520.3,494.5 1521.5,495.3 1522.7,496.2 1523.9,497.1 1525.1,498.1 1526.3,499.0 1527.4,500.0 1528.6,500.9 1529.7,501.9 1530.9,502.9 1532.0,503.8 1533.2,504.8 1534.3,505.8 1535.4,506.8 1536.6,507.7 1537.7,508.7 1538.9,509.6 1540.1,510.6 1541.3,511.5 1542.4,512.4 1543.7,513.3 1544.9,514.2 1546.1,515.0 1547.4,515.9 1548.6,516.7 1549.9,517.4 1551.2,518.2 1552.5,518.9 1553.8,519.6 1555.2,520.3 1556.5,520.9 1557.9,521.6 1559.3,522.2 1560.7,522.7 1562.1,523.3 1563.5,523.8 1564.9,524.3 1566.3,524.8 1567.7,525.3 1569.1,525.8 1570.6,526.3 1572.0,526.7 1573.4,527.2 1574.9,527.6 1576.3,528.0 1577.7,528.5 1579.2,528.9 1580.6,529.3 1582.0,529.8 1583.5,530.2 1584.9,530.7 1586.3,531.1 1587.8,531.6 1589.2,532.1 1590.6,532.5 1592.0,533.0 1593.5,533.5 1594.9,534.0 1596.3,534.4 1597.7,534.9 1599.1,535.4 1600.6,535.9 1602.0,536.4 1603.4,536.9 1604.8,537.4 1606.2,538.0 1607.6,538.5 1609.0,539.0 1610.5,539.5 1611.9,540.0 1613.3,540.5 1614.7,540.9 1616.1,541.4 1617.5,541.9 1619.0,542.4 1620.4,542.8 1621.8,543.3 1623.3,543.7 1624.7,544.2 1626.1,544.6 1627.6,545.0 1629.0,545.4 1630.5,545.8 1631.9,546.2 1633.4,546.5 1634.9,546.9 1636.3,547.2 1637.8,547.5 1639.3,547.8 1640.7,548.0 1642.2,548.3 1643.7,548.5 1645.2,548.8 1646.7,549.0 1648.2,549.1 1649.7,549.3 1651.1,549.4 1652.6,549.6 1654.1,549.7 1655.6,549.8 1657.1,549.8 1658.6,549.9 1660.1,549.9 1661.6,549.9 1663.1,549.9 1664.6,549.9 1666.1,549.9 1667.6,549.8 1669.1,549.8 1670.6,549.7 1672.1,549.6 1673.6,549.5 1675.1,549.4 1676.6,549.2 1678.1,549.1 1679.6,548.9 1681.1,548.7 1682.6,548.5 1684.1,548.3 1685.5,548.0 1687.0,547.7 1688.5,547.4 1690.0,547.1 1691.4,546.8 1692.9,546.5 1694.3,546.1 1695.8,545.7 1697.2,545.3 1698.7,544.9 1700.1,544.5 1701.5,544.0 1703.0,543.5 1704.4,543.1 1705.8,542.6 1707.2,542.1 1708.6,541.6 1710.1,541.1 1711.5,540.5 1712.9,540.0 1714.3,539.5 1715.7,539.1 1717.1,538.6 1718.6,538.2 1720.0,537.7 1721.5,537.4 1722.9,537.0 1724.4,536.8 1725.9,536.6 1727.4,536.4 1728.9,536.4 1730.4,536.4 1731.9,536.5 1733.4,536.8 1734.8,537.1 1736.3,537.5 1737.7,538.0 1739.1,538.5 1740.5,539.2 1741.8,539.8 1743.1,540.5 1744.5,541.2 1745.7,542.0 1747.0,542.8 1748.3,543.6 1749.6,544.4 1750.8,545.2 1752.1,546.0 1753.4,546.8 1754.6,547.6 1755.9,548.4 1757.2,549.2 1758.4,550.0 1759.7,550.8 1761.0,551.5 1762.3,552.3 1763.7,553.0 1765.0,553.7 1766.3,554.3 1767.7,555.0 1769.0,555.6 1770.4,556.2 1771.8,556.8 1773.2,557.3 1774.6,557.9 1776.0,558.4 1777.4,558.9 1778.9,559.3 1780.3,559.8 1781.7,560.3 1783.1,560.8 1784.6,561.2 1786.0,561.7 1787.4,562.3 1788.8,562.8 1790.2,563.4 1791.6,563.9 1792.9,564.5 1794.3,565.2 1795.7,565.8 1797.0,566.4 1798.4,567.1 1799.7,567.8 1801.0,568.5 1802.4,569.2 1803.7,569.8 1805.0,570.5 1806.4,571.2 1807.7,571.9 1809.1,572.5 1810.4,573.2 1811.8,573.8 1813.1,574.5 1814.5,575.1 1815.9,575.7 1817.3,576.2 1818.7,576.8 1820.1,577.4 1821.5,577.9 1822.9,578.4 1824.3,578.9 1825.7,579.4 1827.1,579.8 1828.6,580.3 1830.0,580.7 1831.5,581.1 1832.9,581.5 1834.4,581.8 1835.8,582.2 1837.3,582.5 1838.8,582.8 1840.2,583.1 1841.7,583.4 1843.2,583.7 1844.7,583.9 1846.1,584.2 1847.6,584.4 1849.1,584.6 1850.6,584.8 1852.1,585.0 1853.6,585.2 1855.1,585.4 1856.6,585.5 1858.1,585.7 1859.6,585.8 1861.1,585.9 1862.5,586.0 1864.0,586.1 1865.5,586.2 1867.0,586.3 1868.5,586.3 1870.0,586.4 1871.5,586.4 1873.0,586.4 1874.5,586.3 1876.0,586.2 1877.5,586.1 1879.0,585.9 1880.5,585.6 1881.9,585.2 1883.4,584.7 1884.7,584.1 1886.1,583.4 1887.3,582.6 1888.6,581.7 1889.7,580.8 1890.9,579.9 1892.0,578.8 1893.1,577.8 1894.2,576.8 1895.3,575.7 1896.4,574.7 1897.5,573.7 1898.7,572.8 1899.9,571.9 1901.2,571.2 1902.6,570.6 1904.1,570.3 1905.6,570.3 1907.0,570.6 1908.4,571.1 1909.8,571.7 1911.1,572.4 1912.4,573.2 1913.7,574.0 1914.9,574.8 1916.2,575.5 1917.6,576.3 1918.9,576.9 1920.3,577.4 1921.8,577.8 1923.3,578.1 1924.8,578.2 1926.3,578.3 1927.8,578.3 1929.3,578.3 1930.8,578.2 1932.3,578.2 1933.8,578.2 1935.3,578.3 1936.7,578.4 1938.2,578.6 1939.7,578.8 1941.2,579.1 1942.7,579.5 1944.1,579.9 1945.6,580.2 1947.0,580.7 1948.4,581.1 1949.9,581.5 1951.3,581.9 1952.8,582.3 1954.2,582.7 1955.7,583.1 1957.1,583.5 1958.6,583.9 1960.0,584.2 1961.5,584.5 1963.0,584.8 1964.4,585.1 1965.9,585.3 1967.4,585.6 1968.9,585.8 1970.4,586.0 1971.9,586.2 1973.4,586.4 1974.8,586.6 1976.3,586.7 1977.8,586.9 1979.3,587.0 1980.8,587.1 1982.3,587.2 1983.8,587.4 1985.3,587.5 1986.8,587.6 1988.3,587.6 1989.8,587.7 1991.3,587.8 1992.8,587.9 1994.3,587.9 1995.8,588.0 1997.3,588.1 1998.8,588.1 2000.3,588.2" fill="none" stroke="#808010" stroke-width="3.0" stroke-linejoin="round" stroke-linecap="round"/>
<path d="M1154.3,561.5 1155.8,561.4 1157.3,561.4 1158.8,561.4 1160.3,561.4 1161.8,561.3 1163.3,561.3 1164.8,561.2 1166.3,561.2 1167.8,561.2 1169.3,561.1 1170.8,561.1 1172.3,561.1 1173.8,561.0 1175.3,561.0 1176.8,560.9 1178.3,560.9 1179.8,560.8 1181.3,560.8 1182.8,560.7 1184.3,560.7 1185.8,560.6 1187.3,560.6 1188.8,560.5 1190.3,560.5 1191.8,560.4 1193.3,560.4 1194.8,560.3 1196.3,560.2 1197.8,560.2 1199.3,560.1 1200.8,560.0 1202.3,559.9 1203.8,559.9 1205.3,559.8 1206.8,559.7 1208.3,559.6 1209.8,559.5 1211.3,559.4 1212.8,559.3 1214.3,559.2 1215.8,559.1 1217.3,559.0 1218.7,558.8 1220.2,558.7 1221.7,558.6 1223.2,558.4 1224.7,558.3 1226.2,558.1 1227.7,557.9 1229.2,557.7 1230.7,557.5 1232.1,557.2 1233.6,556.9 1235.1,556.7 1236.6,556.3 1238.0,556.0 1239.5,555.6 1240.9,555.2 1242.3,554.8 1243.8,554.3 1245.2,553.7 1246.5,553.1 1247.9,552.5 1249.2,551.8 1250.6,551.1 1251.9,550.4 1253.1,549.5 1254.3,548.7 1255.5,547.8 1256.7,546.9 1257.9,545.9 1259.0,544.9 1260.1,543.8 1261.1,542.8 1262.1,541.7 1263.1,540.5 1264.1,539.4 1265.1,538.3 1266.0,537.1 1266.9,535.9 1267.8,534.7 1268.7,533.5 1269.5,532.2 1270.4,531.0 1271.2,529.8 1272.0,528.5 1272.9,527.2 1273.7,526.0 1274.5,524.7 1275.3,523.4 1276.1,522.2 1276.9,520.9 1277.7,519.7 1278.5,518.4 1279.4,517.1 1280.2,515.9 1281.1,514.7 1281.9,513.5 1282.9,512.3 1283.8,511.1 1284.8,510.0 1285.9,509.0 1287.0,508.0 1288.3,507.1 1289.6,506.4 1291.0,505.9 1292.5,505.7 1294.0,505.7 1295.5,505.9 1296.9,506.3 1298.3,506.8 1299.7,507.5 1301.0,508.2 1302.3,508.9 1303.6,509.7 1304.9,510.5 1306.1,511.3 1307.4,512.1 1308.6,512.9 1309.9,513.7 1311.1,514.6 1312.4,515.4 1313.6,516.2 1314.9,517.1 1316.1,517.9 1317.4,518.8 1318.6,519.6 1319.8,520.5 1321.1,521.3 1322.3,522.2 1323.5,523.0 1324.8,523.9 1326.0,524.8 1327.2,525.6 1328.4,526.5 1329.7,527.3 1330.9,528.2 1332.1,529.1 1333.4,529.9 1334.6,530.7 1335.9,531.6 1337.1,532.4 1338.4,533.2 1339.7,534.0 1341.0,534.7 1342.3,535.5 1343.6,536.2 1344.9,536.9 1346.3,537.5 1347.6,538.1 1349.0,538.7 1350.4,539.2 1351.9,539.7 1353.3,540.1 1354.8,540.5 1356.2,540.8 1357.7,541.0 1359.2,541.2 1360.7,541.2 1362.2,541.2 1363.7,541.2 1365.2,541.0 1366.7,540.8 1368.2,540.5 1369.6,540.2 1371.1,539.8 1372.5,539.3 1373.9,538.8 1375.3,538.2 1376.6,537.6 1378.0,536.9 1379.3,536.2 1380.6,535.5 1381.9,534.8 1383.2,534.0 1384.5,533.2 1385.7,532.4 1387.0,531.5 1388.2,530.6 1389.4,529.8 1390.6,528.9 1391.8,527.9 1393.0,527.0 1394.1,526.1 1395.3,525.1 1396.5,524.2 1397.6,523.2 1398.8,522.2 1399.9,521.3 1401.0,520.3 1402.2,519.3 1403.3,518.3 1404.4,517.3 1405.5,516.3 1406.6,515.3 1407.7,514.3 1408.9,513.3 1410.0,512.3 1411.1,511.2 1412.2,510.2 1413.3,509.2 1414.4,508.2 1415.5,507.2 1416.6,506.2 1417.7,505.2 1418.8,504.1 1419.9,503.1 1421.0,502.1 1422.1,501.1 1423.2,500.1 1424.3,499.1 1425.4,498.0 1426.5,497.0 1427.6,496.0 1428.7,494.9 1429.8,493.9 1430.8,492.9 1431.9,491.8 1433.0,490.7 1434.0,489.7 1435.1,488.6 1436.1,487.5 1437.2,486.5 1438.2,485.4 1439.2,484.3 1440.2,483.2 1441.2,482.0 1442.2,480.9 1443.2,479.8 1444.2,478.6 1445.1,477.5 1446.1,476.3 1447.0,475.1 1447.9,474.0 1448.9,472.8 1449.8,471.6 1450.7,470.4 1451.6,469.2 1452.5,468.0 1453.4,466.8 1454.3,465.6 1455.1,464.4 1456.0,463.1 1456.9,461.9 1457.8,460.7 1458.6,459.5 1459.5,458.3 1460.4,457.1 1461.3,455.9 1462.2,454.7 1463.1,453.5 1464.0,452.3 1465.0,451.1 1465.9,450.0 1466.9,448.8 1467.9,447.7 1469.0,446.7 1470.1,445.6 1471.2,444.7 1472.4,443.8 1473.7,442.9 1475.0,442.3 1476.4,441.7 1477.9,441.4 1479.4,441.2 1480.9,441.3 1482.3,441.6 1483.8,442.0 1485.2,442.6 1486.5,443.3 1487.8,444.0 1489.0,444.9 1490.3,445.7 1491.5,446.6 1492.6,447.6 1493.8,448.5 1494.9,449.5 1496.1,450.5 1497.2,451.4 1498.4,452.4 1499.5,453.4 1500.6,454.4 1501.7,455.4 1502.9,456.4 1504.0,457.4 1505.1,458.3 1506.3,459.3 1507.4,460.3 1508.6,461.2 1509.8,462.2 1510.9,463.1 1512.1,464.0 1513.3,465.0 1514.5,465.9 1515.7,466.8 1516.9,467.7 1518.1,468.6 1519.3,469.5 1520.5,470.4 1521.7,471.2 1522.9,472.1 1524.2,472.9 1525.4,473.8 1526.7,474.6 1527.9,475.4 1529.2,476.2 1530.5,477.0 1531.7,477.8 1533.0,478.6 1534.3,479.3 1535.6,480.1 1537.0,480.8 1538.3,481.5 1539.6,482.2 1541.0,482.8 1542.3,483.4 1543.7,484.0 1545.1,484.6 1546.5,485.2 1547.9,485.7 1549.3,486.2 1550.7,486.6 1552.2,487.1 1553.6,487.5 1555.1,487.8 1556.5,488.2 1558.0,488.5 1559.5,488.8 1561.0,489.0 1562.4,489.3 1563.9,489.5 1565.4,489.7 1566.9,489.9 1568.4,490.2 1569.9,490.4 1571.3,490.6 1572.8,490.8 1574.3,491.0 1575.8,491.3 1577.3,491.5 1578.7,491.8 1580.2,492.2 1581.7,492.5 1583.1,492.9 1584.6,493.3 1586.0,493.7 1587.4,494.2 1588.8,494.7 1590.2,495.2 1591.6,495.7 1593.0,496.3 1594.4,496.9 1595.8,497.5 1597.1,498.1 1598.5,498.8 1599.8,499.4 1601.2,500.1 1602.5,500.8 1603.9,501.5 1605.2,502.2 1606.5,502.9 1607.8,503.6 1609.2,504.3 1610.5,505.0 1611.8,505.7 1613.1,506.4 1614.5,507.1 1615.8,507.8 1617.2,508.4 1618.5,509.1 1619.8,509.8 1621.2,510.4 1622.6,511.0 1623.9,511.7 1625.3,512.3 1626.7,512.9 1628.1,513.4 1629.5,514.0 1630.9,514.5 1632.3,515.0 1633.7,515.5 1635.1,515.9 1636.6,516.4 1638.0,516.8 1639.5,517.2 1640.9,517.5 1642.4,517.9 1643.8,518.2 1645.3,518.5 1646.8,518.7 1648.3,519.0 1649.8,519.2 1651.2,519.4 1652.7,519.6 1654.2,519.7 1655.7,519.9 1657.2,520.0 1658.7,520.1 1660.2,520.2 1661.7,520.3 1663.2,520.3 1664.7,520.4 1666.2,520.4 1667.7,520.5 1669.2,520.5 1670.7,520.5 1672.2,520.5 1673.7,520.5 1675.2,520.4 1676.7,520.4 1678.2,520.3 1679.7,520.3 1681.2,520.2 1682.7,520.1 1684.2,520.0 1685.7,519.9 1687.2,519.7 1688.7,519.6 1690.2,519.4 1691.7,519.2 1693.1,518.9 1694.6,518.7 1696.1,518.4 1697.6,518.1 1699.0,517.8 1700.5,517.5 1701.9,517.1 1703.4,516.7 1704.8,516.3 1706.3,515.9 1707.7,515.5 1709.2,515.1 1710.6,514.7 1712.0,514.2 1713.5,513.8 1714.9,513.4 1716.4,513.0 1717.8,512.6 1719.3,512.2 1720.7,511.9 1722.2,511.5 1723.7,511.3 1725.2,511.1 1726.6,510.9 1728.1,510.8 1729.6,510.8 1731.1,510.9 1732.6,511.0 1734.1,511.2 1735.6,511.5 1737.0,511.9 1738.5,512.3 1739.9,512.8 1741.3,513.4 1742.6,514.0 1744.0,514.7 1745.3,515.4 1746.6,516.2 1747.8,517.0 1749.1,517.8 1750.3,518.7 1751.6,519.5 1752.8,520.4 1754.0,521.3 1755.2,522.3 1756.3,523.2 1757.5,524.1 1758.7,525.0 1759.9,525.9 1761.1,526.8 1762.3,527.7 1763.6,528.5 1764.8,529.4 1766.1,530.2 1767.4,531.0 1768.7,531.7 1770.0,532.3 1771.4,533.0 1772.8,533.5 1774.2,534.0 1775.6,534.5 1777.1,534.9 1778.5,535.2 1780.0,535.6 1781.5,535.9 1782.9,536.3 1784.4,536.6 1785.8,537.1 1787.2,537.6 1788.6,538.2 1789.9,538.8 1791.3,539.5 1792.6,540.2 1793.9,541.0 1795.1,541.8 1796.4,542.7 1797.6,543.5 1798.8,544.4 1800.1,545.2 1801.3,546.1 1802.6,546.9 1803.8,547.7 1805.1,548.5 1806.4,549.3 1807.7,550.0 1809.0,550.7 1810.4,551.3 1811.8,551.9 1813.2,552.4 1814.6,552.9 1816.0,553.4 1817.5,553.8 1818.9,554.1 1820.4,554.5 1821.9,554.8 1823.3,555.1 1824.8,555.4 1826.3,555.6 1827.8,555.9 1829.2,556.1 1830.7,556.3 1832.2,556.5 1833.7,556.7 1835.2,556.9 1836.7,557.1 1838.2,557.3 1839.7,557.5 1841.2,557.6 1842.6,557.8 1844.1,557.9 1845.6,558.1 1847.1,558.2 1848.6,558.3 1850.1,558.5 1851.6,558.6 1853.1,558.7 1854.6,558.8 1856.1,558.9 1857.6,559.0 1859.1,559.0 1860.6,559.1 1862.1,559.2 1863.6,559.2 1865.1,559.3 1866.6,559.3 1868.1,559.4 1869.6,559.4 1871.1,559.4 1872.6,559.3 1874.1,559.3 1875.6,559.2 1877.1,559.0 1878.5,558.7 1880.0,558.3 1881.4,557.8 1882.8,557.2 1884.1,556.4 1885.3,555.5 1886.4,554.6 1887.5,553.5 1888.5,552.4 1889.4,551.2 1890.4,550.0 1891.2,548.8 1892.1,547.6 1892.9,546.4 1893.8,545.1 1894.6,543.9 1895.4,542.6 1896.3,541.4 1897.2,540.2 1898.2,539.1 1899.2,538.0 1900.4,537.0 1901.7,536.3 1903.2,536.0 1904.6,536.1 1906.0,536.7 1907.3,537.5 1908.4,538.5 1909.5,539.6 1910.5,540.6 1911.5,541.7 1912.5,542.9 1913.6,543.9 1914.6,545.0 1915.7,546.0 1916.9,547.0 1918.1,547.9 1919.4,548.6 1920.8,549.2 1922.2,549.7 1923.7,550.0 1925.1,550.3 1926.6,550.5 1928.1,550.6 1929.6,550.8 1931.1,551.1 1932.6,551.3 1934.0,551.7 1935.5,552.0 1936.9,552.5 1938.3,552.9 1939.8,553.4 1941.2,553.9 1942.6,554.4 1944.0,554.9 1945.4,555.3 1946.9,555.8 1948.3,556.2 1949.7,556.7 1951.2,557.1 1952.6,557.5 1954.1,557.8 1955.6,558.2 1957.0,558.5 1958.5,558.8 1960.0,559.0 1961.4,559.3 1962.9,559.5 1964.4,559.8 1965.9,560.0 1967.4,560.2 1968.9,560.4 1970.4,560.5 1971.9,560.7 1973.3,560.8 1974.8,561.0 1976.3,561.1 1977.8,561.2 1979.3,561.3 1980.8,561.4 1982.3,561.5 1983.8,561.6 1985.3,561.7 1986.8,561.8 1988.3,561.9 1989.8,562.0 1991.3,562.0 1992.8,562.1 1994.3,562.2 1995.8,562.2 1997.3,562.3 1998.8,562.4 2000.3,562.4" fill="none" stroke="#ff0a0a" stroke-width="3.0" stroke-linejoin="round" stroke-linecap="round"/>
<path d="M1154.3,543.9 1155.8,543.9 1157.3,543.8 1158.8,543.8 1160.3,543.8 1161.8,543.7 1163.3,543.7 1164.8,543.6 1166.3,543.6 1167.8,543.5 1169.3,543.5 1170.8,543.4 1172.3,543.4 1173.8,543.3 1175.3,543.3 1176.8,543.2 1178.3,543.1 1179.8,543.1 1181.3,543.0 1182.8,542.9 1184.3,542.9 1185.8,542.8 1187.3,542.7 1188.8,542.7 1190.3,542.6 1191.8,542.5 1193.3,542.4 1194.8,542.3 1196.3,542.2 1197.8,542.1 1199.3,542.0 1200.8,541.9 1202.3,541.8 1203.8,541.7 1205.3,541.6 1206.8,541.5 1208.3,541.4 1209.8,541.2 1211.3,541.1 1212.8,541.0 1214.3,540.8 1215.8,540.7 1217.3,540.5 1218.7,540.4 1220.2,540.2 1221.7,540.0 1223.2,539.8 1224.7,539.6 1226.2,539.3 1227.7,539.0 1229.1,538.8 1230.6,538.4 1232.1,538.1 1233.5,537.7 1234.9,537.2 1236.3,536.7 1237.7,536.1 1239.1,535.5 1240.4,534.8 1241.8,534.1 1243.0,533.3 1244.2,532.4 1245.4,531.5 1246.6,530.5 1247.7,529.5 1248.7,528.4 1249.7,527.3 1250.7,526.2 1251.7,525.0 1252.6,523.8 1253.4,522.6 1254.3,521.4 1255.1,520.1 1255.9,518.8 1256.7,517.5 1257.4,516.2 1258.2,514.9 1258.9,513.6 1259.6,512.3 1260.3,511.0 1261.0,509.6 1261.6,508.3 1262.3,506.9 1263.0,505.6 1263.6,504.2 1264.2,502.9 1264.9,501.5 1265.5,500.1 1266.1,498.8 1266.8,497.4 1267.4,496.1 1268.0,494.7 1268.7,493.3 1269.3,492.0 1269.9,490.6 1270.6,489.2 1271.2,487.9 1271.9,486.5 1272.5,485.2 1273.2,483.9 1273.9,482.5 1274.6,481.2 1275.3,479.9 1276.0,478.6 1276.8,477.3 1277.6,476.0 1278.4,474.7 1279.3,473.5 1280.2,472.3 1281.1,471.1 1282.1,470.0 1283.2,468.9 1284.3,468.0 1285.5,467.1 1286.8,466.3 1288.2,465.7 1289.6,465.3 1291.1,465.1 1292.6,465.1 1294.1,465.3 1295.6,465.5 1297.0,466.0 1298.4,466.5 1299.8,467.0 1301.2,467.7 1302.5,468.4 1303.8,469.2 1305.1,470.0 1306.3,470.8 1307.5,471.7 1308.7,472.7 1309.8,473.7 1310.9,474.7 1312.0,475.7 1313.0,476.8 1314.1,477.9 1315.1,479.0 1316.1,480.1 1317.0,481.3 1318.0,482.4 1318.9,483.6 1319.9,484.8 1320.8,486.0 1321.7,487.1 1322.6,488.3 1323.6,489.5 1324.5,490.7 1325.4,491.9 1326.4,493.1 1327.3,494.2 1328.2,495.4 1329.2,496.5 1330.2,497.7 1331.2,498.8 1332.2,499.9 1333.2,501.0 1334.2,502.1 1335.3,503.2 1336.3,504.3 1337.4,505.3 1338.6,506.3 1339.7,507.3 1340.9,508.2 1342.1,509.1 1343.3,510.0 1344.5,510.8 1345.8,511.6 1347.1,512.3 1348.5,513.0 1349.8,513.7 1351.2,514.2 1352.6,514.7 1354.1,515.2 1355.5,515.5 1357.0,515.8 1358.5,516.0 1360.0,516.2 1361.5,516.2 1363.0,516.2 1364.5,516.1 1366.0,515.9 1367.4,515.7 1368.9,515.4 1370.4,515.0 1371.8,514.5 1373.2,514.0 1374.6,513.5 1376.0,512.9 1377.3,512.2 1378.7,511.5 1380.0,510.8 1381.3,510.0 1382.5,509.2 1383.8,508.4 1385.0,507.5 1386.2,506.7 1387.4,505.7 1388.6,504.8 1389.8,503.9 1390.9,502.9 1392.0,501.9 1393.1,500.9 1394.2,499.9 1395.3,498.8 1396.4,497.8 1397.5,496.7 1398.5,495.6 1399.6,494.6 1400.6,493.5 1401.6,492.4 1402.6,491.3 1403.7,490.2 1404.7,489.1 1405.7,487.9 1406.7,486.8 1407.7,485.7 1408.6,484.6 1409.6,483.4 1410.6,482.3 1411.6,481.2 1412.6,480.0 1413.5,478.9 1414.5,477.7 1415.5,476.6 1416.5,475.5 1417.4,474.3 1418.4,473.2 1419.4,472.0 1420.4,470.9 1421.4,469.8 1422.3,468.6 1423.3,467.5 1424.3,466.3 1425.3,465.2 1426.3,464.1 1427.3,463.0 1428.3,461.8 1429.3,460.7 1430.2,459.6 1431.2,458.4 1432.2,457.3 1433.2,456.2 1434.2,455.1 1435.2,453.9 1436.2,452.8 1437.2,451.7 1438.1,450.5 1439.1,449.4 1440.1,448.2 1441.1,447.1 1442.0,445.9 1443.0,444.8 1443.9,443.6 1444.8,442.4 1445.8,441.2 1446.7,440.0 1447.6,438.9 1448.5,437.6 1449.4,436.4 1450.3,435.2 1451.1,434.0 1452.0,432.8 1452.8,431.5 1453.7,430.3 1454.5,429.0 1455.4,427.8 1456.2,426.5 1457.0,425.3 1457.8,424.0 1458.6,422.8 1459.4,421.5 1460.3,420.2 1461.1,419.0 1461.9,417.7 1462.7,416.5 1463.6,415.2 1464.4,414.0 1465.3,412.7 1466.1,411.5 1467.0,410.3 1468.0,409.2 1468.9,408.0 1469.9,406.9 1471.0,405.8 1472.1,404.8 1473.3,403.9 1474.6,403.1 1476.0,402.5 1477.4,402.1 1478.9,402.0 1480.4,402.2 1481.8,402.6 1483.2,403.2 1484.5,404.0 1485.7,404.8 1486.9,405.8 1488.1,406.7 1489.2,407.7 1490.3,408.8 1491.3,409.8 1492.4,410.9 1493.5,412.0 1494.5,413.0 1495.5,414.1 1496.6,415.2 1497.6,416.3 1498.7,417.3 1499.8,418.4 1500.8,419.4 1501.9,420.5 1503.0,421.5 1504.1,422.6 1505.2,423.6 1506.3,424.6 1507.4,425.6 1508.5,426.6 1509.7,427.6 1510.8,428.6 1511.9,429.6 1513.1,430.6 1514.2,431.5 1515.3,432.5 1516.4,433.5 1517.5,434.5 1518.7,435.5 1519.8,436.6 1520.9,437.6 1522.0,438.6 1523.1,439.6 1524.2,440.6 1525.3,441.7 1526.4,442.7 1527.4,443.7 1528.5,444.8 1529.6,445.8 1530.7,446.8 1531.8,447.9 1532.9,448.9 1534.0,449.9 1535.1,451.0 1536.2,452.0 1537.3,453.0 1538.4,454.0 1539.6,455.0 1540.7,455.9 1541.9,456.9 1543.1,457.8 1544.2,458.7 1545.4,459.6 1546.7,460.5 1547.9,461.3 1549.2,462.2 1550.4,463.0 1551.7,463.7 1553.0,464.5 1554.4,465.2 1555.7,465.8 1557.1,466.5 1558.4,467.1 1559.8,467.7 1561.2,468.3 1562.6,468.9 1564.0,469.4 1565.4,470.0 1566.8,470.5 1568.2,471.1 1569.5,471.7 1570.9,472.2 1572.3,472.8 1573.7,473.4 1575.1,474.0 1576.4,474.6 1577.8,475.3 1579.2,475.9 1580.5,476.6 1581.8,477.2 1583.2,477.9 1584.5,478.6 1585.8,479.3 1587.2,480.0 1588.5,480.7 1589.8,481.4 1591.2,482.1 1592.5,482.8 1593.8,483.5 1595.1,484.2 1596.5,484.9 1597.8,485.6 1599.1,486.3 1600.5,487.0 1601.8,487.7 1603.2,488.3 1604.5,489.0 1605.9,489.6 1607.2,490.2 1608.6,490.8 1610.0,491.5 1611.4,492.0 1612.8,492.6 1614.1,493.2 1615.5,493.7 1616.9,494.3 1618.4,494.8 1619.8,495.3 1621.2,495.8 1622.6,496.2 1624.1,496.7 1625.5,497.1 1626.9,497.6 1628.4,498.0 1629.8,498.4 1631.3,498.8 1632.7,499.1 1634.2,499.5 1635.6,499.8 1637.1,500.2 1638.6,500.5 1640.0,500.8 1641.5,501.1 1643.0,501.4 1644.5,501.6 1646.0,501.9 1647.4,502.1 1648.9,502.3 1650.4,502.6 1651.9,502.8 1653.4,502.9 1654.9,503.1 1656.4,503.3 1657.9,503.4 1659.4,503.5 1660.9,503.6 1662.4,503.7 1663.9,503.7 1665.4,503.7 1666.9,503.7 1668.4,503.7 1669.9,503.6 1671.4,503.5 1672.9,503.4 1674.4,503.2 1675.8,503.0 1677.3,502.8 1678.8,502.5 1680.3,502.2 1681.7,501.9 1683.2,501.5 1684.6,501.1 1686.1,500.7 1687.5,500.2 1688.9,499.7 1690.3,499.2 1691.7,498.6 1693.1,498.1 1694.5,497.5 1695.9,496.9 1697.2,496.2 1698.6,495.6 1699.9,494.9 1701.3,494.3 1702.6,493.6 1704.0,493.0 1705.3,492.3 1706.7,491.6 1708.0,491.0 1709.4,490.3 1710.7,489.7 1712.1,489.1 1713.5,488.5 1714.9,488.0 1716.3,487.4 1717.7,487.0 1719.2,486.5 1720.6,486.1 1722.1,485.8 1723.6,485.5 1725.0,485.3 1726.5,485.2 1728.0,485.2 1729.5,485.2 1731.0,485.3 1732.5,485.5 1734.0,485.8 1735.5,486.2 1736.9,486.6 1738.3,487.1 1739.7,487.7 1741.1,488.3 1742.4,489.0 1743.7,489.7 1745.0,490.5 1746.3,491.3 1747.5,492.1 1748.8,493.0 1750.0,493.8 1751.2,494.7 1752.4,495.6 1753.6,496.5 1754.8,497.5 1756.0,498.4 1757.2,499.3 1758.3,500.2 1759.5,501.2 1760.7,502.1 1761.9,503.0 1763.1,503.9 1764.4,504.7 1765.6,505.6 1766.9,506.4 1768.2,507.1 1769.5,507.8 1770.8,508.5 1772.2,509.2 1773.6,509.7 1775.0,510.3 1776.4,510.8 1777.8,511.2 1779.3,511.7 1780.7,512.1 1782.1,512.5 1783.6,513.0 1785.0,513.5 1786.4,514.1 1787.7,514.7 1789.1,515.3 1790.4,516.0 1791.7,516.8 1793.0,517.6 1794.3,518.4 1795.5,519.2 1796.7,520.1 1797.9,521.0 1799.1,521.9 1800.4,522.8 1801.6,523.6 1802.8,524.5 1804.0,525.3 1805.3,526.2 1806.6,526.9 1807.9,527.7 1809.2,528.4 1810.6,529.1 1811.9,529.7 1813.3,530.2 1814.7,530.8 1816.2,531.2 1817.6,531.6 1819.1,532.0 1820.5,532.4 1822.0,532.7 1823.5,532.9 1824.9,533.2 1826.4,533.4 1827.9,533.6 1829.4,533.8 1830.9,534.0 1832.4,534.2 1833.9,534.4 1835.4,534.5 1836.9,534.7 1838.4,534.8 1839.8,535.0 1841.3,535.1 1842.8,535.2 1844.3,535.4 1845.8,535.5 1847.3,535.6 1848.8,535.7 1850.3,535.8 1851.8,535.9 1853.3,536.0 1854.8,536.1 1856.3,536.2 1857.8,536.2 1859.3,536.3 1860.8,536.4 1862.3,536.4 1863.8,536.5 1865.3,536.5 1866.8,536.5 1868.3,536.5 1869.8,536.5 1871.3,536.4 1872.8,536.4 1874.3,536.2 1875.8,536.0 1877.3,535.7 1878.7,535.3 1880.1,534.8 1881.5,534.2 1882.8,533.4 1884.0,532.5 1885.1,531.4 1886.1,530.4 1887.1,529.2 1888.0,528.0 1888.8,526.8 1889.6,525.5 1890.4,524.2 1891.2,522.9 1891.9,521.6 1892.6,520.3 1893.3,519.0 1894.0,517.6 1894.7,516.3 1895.4,515.0 1896.1,513.6 1896.8,512.3 1897.5,511.0 1898.3,509.7 1899.2,508.5 1900.1,507.3 1901.2,506.3 1902.5,505.5 1904.0,505.2 1905.4,505.6 1906.7,506.5 1907.8,507.5 1908.7,508.6 1909.7,509.8 1910.6,511.0 1911.4,512.2 1912.3,513.4 1913.2,514.7 1914.0,515.9 1914.9,517.1 1915.9,518.3 1916.8,519.4 1917.9,520.5 1919.0,521.5 1920.1,522.5 1921.4,523.3 1922.7,524.1 1924.0,524.8 1925.4,525.3 1926.8,525.9 1928.2,526.4 1929.6,526.9 1931.0,527.4 1932.4,527.9 1933.8,528.5 1935.2,529.0 1936.6,529.7 1938.0,530.3 1939.3,530.9 1940.7,531.6 1942.0,532.2 1943.4,532.9 1944.7,533.5 1946.1,534.2 1947.5,534.8 1948.8,535.4 1950.2,535.9 1951.6,536.5 1953.0,537.0 1954.5,537.5 1955.9,538.0 1957.3,538.4 1958.8,538.8 1960.2,539.2 1961.7,539.6 1963.1,540.0 1964.6,540.3 1966.0,540.6 1967.5,541.0 1969.0,541.2 1970.5,541.5 1971.9,541.8 1973.4,542.0 1974.9,542.2 1976.4,542.5 1977.9,542.7 1979.4,542.9 1980.9,543.0 1982.4,543.2 1983.8,543.4 1985.3,543.5 1986.8,543.7 1988.3,543.8 1989.8,544.0 1991.3,544.1 1992.8,544.2 1994.3,544.3 1995.8,544.5 1997.3,544.6 1998.8,544.7 2000.3,544.8" fill="none" stroke="#0a0aff" stroke-width="3.0" stroke-linejoin="round" stroke-linecap="round"/>
<path d="M1154.3,492.1 1155.8,492.1 1157.3,492.0 1158.8,492.0 1160.3,492.0 1161.8,491.9 1163.3,491.9 1164.8,491.9 1166.3,491.8 1167.8,491.8 1169.3,491.7 1170.8,491.7 1172.3,491.6 1173.8,491.6 1175.3,491.5 1176.8,491.5 1178.3,491.4 1179.8,491.4 1181.3,491.3 1182.8,491.3 1184.3,491.2 1185.8,491.1 1187.3,491.0 1188.8,491.0 1190.3,490.9 1191.8,490.8 1193.3,490.7 1194.8,490.6 1196.3,490.5 1197.8,490.4 1199.3,490.3 1200.8,490.2 1202.3,490.1 1203.8,490.0 1205.3,489.9 1206.8,489.7 1208.3,489.6 1209.8,489.4 1211.3,489.2 1212.7,489.1 1214.2,488.9 1215.7,488.7 1217.2,488.4 1218.7,488.2 1220.2,487.9 1221.6,487.6 1223.1,487.3 1224.6,487.0 1226.0,486.6 1227.5,486.2 1228.9,485.7 1230.3,485.2 1231.7,484.6 1233.0,484.0 1234.4,483.3 1235.7,482.6 1237.0,481.8 1238.2,480.9 1239.4,480.0 1240.6,479.1 1241.7,478.1 1242.8,477.0 1243.8,476.0 1244.8,474.8 1245.8,473.7 1246.7,472.5 1247.6,471.3 1248.4,470.1 1249.3,468.8 1250.1,467.5 1250.8,466.2 1251.6,464.9 1252.3,463.6 1253.0,462.3 1253.7,461.0 1254.3,459.6 1255.0,458.3 1255.6,456.9 1256.2,455.5 1256.8,454.1 1257.4,452.8 1258.0,451.4 1258.5,450.0 1259.1,448.6 1259.6,447.2 1260.2,445.8 1260.7,444.4 1261.2,443.0 1261.7,441.5 1262.2,440.1 1262.7,438.7 1263.2,437.3 1263.6,435.9 1264.1,434.4 1264.6,433.0 1265.0,431.6 1265.5,430.2 1265.9,428.7 1266.4,427.3 1266.8,425.9 1267.3,424.4 1267.7,423.0 1268.1,421.5 1268.6,420.1 1269.0,418.7 1269.4,417.2 1269.9,415.8 1270.3,414.4 1270.7,412.9 1271.1,411.5 1271.6,410.0 1272.0,408.6 1272.4,407.2 1272.8,405.7 1273.2,404.3 1273.7,402.8 1274.1,401.4 1274.5,400.0 1275.0,398.5 1275.4,397.1 1275.8,395.6 1276.3,394.2 1276.7,392.8 1277.2,391.3 1277.6,389.9 1278.1,388.5 1278.5,387.1 1279.0,385.6 1279.5,384.2 1280.0,382.8 1280.5,381.4 1281.0,380.0 1281.5,378.6 1282.1,377.2 1282.6,375.8 1283.2,374.4 1283.8,373.0 1284.5,371.7 1285.2,370.3 1285.9,369.0 1286.6,367.7 1287.5,366.5 1288.4,365.3 1289.3,364.1 1290.4,363.1 1291.7,362.2 1293.0,361.6 1294.5,361.2 1296.0,361.2 1297.4,361.4 1298.9,361.9 1300.2,362.6 1301.5,363.4 1302.7,364.3 1303.8,365.2 1305.0,366.2 1306.0,367.3 1307.0,368.4 1308.0,369.5 1309.0,370.7 1309.9,371.9 1310.8,373.1 1311.6,374.3 1312.5,375.6 1313.3,376.8 1314.1,378.1 1314.8,379.4 1315.6,380.7 1316.3,382.0 1317.0,383.3 1317.8,384.7 1318.4,386.0 1319.1,387.3 1319.8,388.7 1320.5,390.0 1321.1,391.4 1321.8,392.7 1322.4,394.1 1323.0,395.4 1323.6,396.8 1324.3,398.2 1324.9,399.5 1325.5,400.9 1326.1,402.3 1326.7,403.7 1327.3,405.0 1327.9,406.4 1328.5,407.8 1329.1,409.2 1329.8,410.5 1330.4,411.9 1331.0,413.3 1331.6,414.6 1332.2,416.0 1332.8,417.4 1333.4,418.7 1334.1,420.1 1334.7,421.5 1335.3,422.8 1336.0,424.2 1336.6,425.5 1337.3,426.9 1337.9,428.2 1338.6,429.6 1339.3,430.9 1340.0,432.3 1340.6,433.6 1341.4,434.9 1342.1,436.2 1342.8,437.5 1343.6,438.9 1344.3,440.1 1345.1,441.4 1345.9,442.7 1346.7,444.0 1347.5,445.2 1348.4,446.5 1349.3,447.7 1350.2,448.9 1351.1,450.0 1352.1,451.2 1353.1,452.3 1354.1,453.4 1355.2,454.5 1356.3,455.5 1357.4,456.4 1358.6,457.3 1359.9,458.1 1361.2,458.9 1362.5,459.5 1363.9,460.1 1365.4,460.6 1366.8,460.9 1368.3,461.1 1369.8,461.2 1371.3,461.1 1372.8,461.0 1374.3,460.7 1375.7,460.4 1377.2,459.9 1378.6,459.4 1380.0,458.8 1381.4,458.2 1382.7,457.6 1384.0,456.8 1385.3,456.1 1386.6,455.3 1387.9,454.5 1389.1,453.7 1390.4,452.8 1391.6,452.0 1392.8,451.1 1394.0,450.2 1395.2,449.3 1396.4,448.4 1397.6,447.5 1398.8,446.5 1399.9,445.6 1401.1,444.7 1402.3,443.7 1403.5,442.8 1404.6,441.9 1405.8,440.9 1407.0,440.0 1408.2,439.0 1409.3,438.1 1410.5,437.2 1411.7,436.2 1412.8,435.3 1414.0,434.4 1415.2,433.4 1416.4,432.5 1417.5,431.5 1418.7,430.6 1419.9,429.7 1421.0,428.7 1422.2,427.8 1423.4,426.8 1424.5,425.9 1425.7,424.9 1426.8,423.9 1427.9,422.9 1429.1,421.9 1430.2,420.9 1431.3,419.9 1432.4,418.9 1433.5,417.8 1434.5,416.8 1435.6,415.7 1436.6,414.6 1437.7,413.6 1438.7,412.4 1439.7,411.3 1440.7,410.2 1441.7,409.1 1442.6,407.9 1443.6,406.8 1444.5,405.6 1445.5,404.4 1446.4,403.3 1447.3,402.1 1448.2,400.9 1449.2,399.7 1450.1,398.5 1451.0,397.3 1451.9,396.1 1452.8,394.9 1453.7,393.7 1454.6,392.5 1455.5,391.3 1456.4,390.1 1457.3,388.9 1458.3,387.8 1459.2,386.6 1460.2,385.4 1461.1,384.3 1462.1,383.2 1463.2,382.1 1464.2,381.0 1465.3,380.0 1466.4,378.9 1467.6,378.0 1468.8,377.1 1470.0,376.3 1471.3,375.5 1472.7,374.9 1474.1,374.4 1475.6,374.1 1477.1,374.0 1478.6,374.1 1480.1,374.3 1481.5,374.7 1482.9,375.3 1484.2,375.9 1485.5,376.7 1486.8,377.5 1488.0,378.4 1489.2,379.3 1490.3,380.3 1491.4,381.3 1492.5,382.4 1493.6,383.4 1494.6,384.5 1495.7,385.6 1496.7,386.7 1497.7,387.8 1498.7,388.9 1499.7,390.0 1500.8,391.1 1501.8,392.2 1502.8,393.3 1503.8,394.4 1504.8,395.5 1505.8,396.6 1506.9,397.7 1507.9,398.8 1508.9,399.9 1510.0,401.0 1511.0,402.0 1512.1,403.1 1513.2,404.1 1514.2,405.2 1515.3,406.2 1516.4,407.3 1517.5,408.3 1518.6,409.3 1519.7,410.3 1520.8,411.3 1522.0,412.3 1523.1,413.3 1524.2,414.3 1525.3,415.3 1526.5,416.3 1527.6,417.2 1528.8,418.2 1529.9,419.2 1531.1,420.1 1532.2,421.1 1533.4,422.0 1534.6,423.0 1535.7,423.9 1536.9,424.8 1538.1,425.8 1539.3,426.7 1540.5,427.6 1541.7,428.5 1542.9,429.3 1544.2,430.2 1545.4,431.0 1546.7,431.8 1548.0,432.6 1549.3,433.3 1550.6,434.0 1551.9,434.7 1553.3,435.4 1554.7,436.0 1556.0,436.6 1557.4,437.1 1558.9,437.6 1560.3,438.1 1561.7,438.5 1563.2,438.9 1564.6,439.2 1566.1,439.5 1567.6,439.8 1569.1,440.1 1570.5,440.3 1572.0,440.6 1573.5,440.8 1575.0,441.0 1576.5,441.2 1578.0,441.5 1579.4,441.7 1580.9,442.0 1582.4,442.3 1583.9,442.6 1585.3,443.0 1586.8,443.3 1588.2,443.7 1589.7,444.2 1591.1,444.6 1592.5,445.1 1593.9,445.6 1595.4,446.1 1596.8,446.6 1598.2,447.1 1599.6,447.7 1600.9,448.3 1602.3,448.8 1603.7,449.4 1605.1,450.0 1606.5,450.6 1607.8,451.2 1609.2,451.8 1610.6,452.4 1612.0,453.0 1613.4,453.6 1614.8,454.1 1616.1,454.7 1617.5,455.3 1618.9,455.8 1620.3,456.4 1621.7,456.9 1623.1,457.4 1624.6,457.9 1626.0,458.4 1627.4,458.9 1628.8,459.4 1630.3,459.8 1631.7,460.2 1633.1,460.7 1634.6,461.1 1636.0,461.4 1637.5,461.8 1638.9,462.2 1640.4,462.5 1641.9,462.8 1643.3,463.2 1644.8,463.5 1646.3,463.7 1647.8,464.0 1649.2,464.3 1650.7,464.5 1652.2,464.8 1653.7,465.0 1655.2,465.2 1656.7,465.4 1658.2,465.5 1659.6,465.7 1661.1,465.8 1662.6,465.9 1664.1,466.0 1665.6,466.1 1667.1,466.2 1668.6,466.2 1670.1,466.2 1671.6,466.2 1673.1,466.2 1674.6,466.2 1676.1,466.1 1677.6,466.0 1679.1,465.8 1680.6,465.7 1682.1,465.5 1683.6,465.3 1685.1,465.0 1686.6,464.8 1688.0,464.5 1689.5,464.1 1691.0,463.8 1692.4,463.4 1693.9,463.0 1695.3,462.6 1696.7,462.1 1698.2,461.7 1699.6,461.2 1701.0,460.7 1702.4,460.2 1703.8,459.7 1705.2,459.1 1706.6,458.6 1708.0,458.0 1709.4,457.5 1710.8,456.9 1712.2,456.4 1713.6,455.9 1715.0,455.4 1716.4,454.9 1717.9,454.4 1719.3,454.0 1720.8,453.6 1722.2,453.2 1723.7,453.0 1725.2,452.7 1726.7,452.6 1728.2,452.5 1729.7,452.5 1731.2,452.6 1732.7,452.8 1734.1,453.1 1735.6,453.5 1737.0,453.9 1738.4,454.4 1739.8,455.0 1741.2,455.6 1742.5,456.3 1743.8,457.0 1745.2,457.8 1746.4,458.5 1747.7,459.3 1749.0,460.1 1750.2,460.9 1751.5,461.8 1752.8,462.6 1754.0,463.4 1755.3,464.3 1756.5,465.1 1757.8,465.9 1759.0,466.7 1760.3,467.5 1761.6,468.3 1762.9,469.0 1764.2,469.7 1765.5,470.4 1766.9,471.1 1768.2,471.8 1769.6,472.4 1771.0,473.0 1772.4,473.6 1773.8,474.1 1775.2,474.6 1776.6,475.1 1778.0,475.6 1779.4,476.1 1780.8,476.6 1782.3,477.0 1783.7,477.5 1785.1,478.0 1786.5,478.5 1788.0,479.0 1789.4,479.5 1790.8,480.0 1792.2,480.6 1793.6,481.1 1795.0,481.7 1796.4,482.2 1797.7,482.8 1799.1,483.4 1800.5,484.0 1801.9,484.6 1803.3,485.1 1804.7,485.7 1806.1,486.2 1807.5,486.7 1808.9,487.1 1810.4,487.6 1811.8,488.0 1813.3,488.3 1814.8,488.6 1816.2,488.8 1817.7,489.0 1819.2,489.1 1820.7,489.1 1822.2,489.1 1823.7,489.0 1825.2,488.9 1826.7,488.7 1828.2,488.4 1829.7,488.1 1831.1,487.7 1832.6,487.3 1834.0,486.9 1835.4,486.4 1836.8,485.9 1838.2,485.4 1839.6,484.8 1841.0,484.3 1842.4,483.8 1843.9,483.3 1845.3,482.8 1846.7,482.3 1848.1,481.8 1849.6,481.4 1851.0,481.0 1852.5,480.7 1854.0,480.4 1855.4,480.2 1856.9,480.0 1858.4,479.9 1859.9,479.8 1861.4,479.7 1862.9,479.7 1864.4,479.7 1865.9,479.7 1867.4,479.7 1868.9,479.7 1870.4,479.6 1871.9,479.5 1873.4,479.3 1874.9,479.1 1876.3,478.7 1877.8,478.2 1879.1,477.5 1880.4,476.8 1881.7,476.0 1882.8,475.0 1883.9,474.0 1885.0,472.9 1885.9,471.7 1886.8,470.5 1887.7,469.3 1888.5,468.0 1889.2,466.7 1889.9,465.4 1890.6,464.1 1891.3,462.7 1891.9,461.4 1892.5,460.0 1893.0,458.6 1893.6,457.2 1894.1,455.8 1894.7,454.4 1895.2,453.0 1895.7,451.6 1896.2,450.2 1896.7,448.7 1897.2,447.3 1897.7,445.9 1898.2,444.5 1898.8,443.1 1899.3,441.7 1899.9,440.3 1900.5,438.9 1901.1,437.6 1901.8,436.2 1902.7,435.0 1903.7,434.0 1905.2,433.7 1906.4,434.5 1907.4,435.6 1908.2,436.9 1908.9,438.2 1909.5,439.6 1910.1,440.9 1910.7,442.3 1911.3,443.7 1911.9,445.1 1912.4,446.5 1913.0,447.9 1913.6,449.3 1914.1,450.7 1914.7,452.0 1915.3,453.4 1915.9,454.8 1916.6,456.2 1917.2,457.5 1917.9,458.8 1918.6,460.1 1919.4,461.4 1920.2,462.7 1921.1,463.9 1922.0,465.1 1922.9,466.3 1923.9,467.4 1925.0,468.4 1926.2,469.4 1927.3,470.3 1928.6,471.2 1929.9,472.0 1931.2,472.7 1932.5,473.4 1933.8,474.1 1935.2,474.7 1936.6,475.3 1937.9,475.9 1939.3,476.6 1940.7,477.2 1942.0,477.9 1943.4,478.5 1944.7,479.2 1946.0,479.9 1947.4,480.6 1948.7,481.2 1950.0,481.9 1951.4,482.6 1952.7,483.3 1954.1,484.0 1955.4,484.7 1956.7,485.3 1958.1,486.0 1959.5,486.6 1960.8,487.2 1962.2,487.8 1963.6,488.3 1965.0,488.9 1966.4,489.4 1967.8,489.9 1969.3,490.4 1970.7,490.8 1972.1,491.2 1973.6,491.6 1975.0,492.0 1976.5,492.3 1978.0,492.7 1979.4,493.0 1980.9,493.2 1982.4,493.5 1983.9,493.7 1985.4,494.0 1986.9,494.2 1988.3,494.4 1989.8,494.5 1991.3,494.7 1992.8,494.8 1994.3,495.0 1995.8,495.1 1997.3,495.2 1998.8,495.3 2000.3,495.4" fill="none" stroke="#0a820a" stroke-width="3.0" stroke-linejoin="round" stroke-linecap="round"/>
<path d="M1154.3,458.3 1155.8,458.3 1157.3,458.3 1158.8,458.2 1160.3,458.2 1161.8,458.2 1163.3,458.1 1164.8,458.1 1166.3,458.0 1167.8,458.0 1169.3,457.9 1170.8,457.9 1172.3,457.8 1173.8,457.8 1175.3,457.7 1176.8,457.7 1178.3,457.6 1179.8,457.5 1181.3,457.4 1182.8,457.4 1184.3,457.3 1185.8,457.2 1187.3,457.1 1188.8,457.0 1190.3,456.9 1191.8,456.8 1193.3,456.7 1194.8,456.6 1196.3,456.5 1197.8,456.3 1199.3,456.2 1200.8,456.1 1202.3,455.9 1203.8,455.8 1205.2,455.6 1206.7,455.4 1208.2,455.2 1209.7,455.0 1211.2,454.8 1212.7,454.6 1214.2,454.3 1215.6,454.0 1217.1,453.7 1218.6,453.4 1220.0,453.0 1221.5,452.6 1222.9,452.2 1224.3,451.7 1225.7,451.2 1227.1,450.6 1228.5,449.9 1229.8,449.2 1231.1,448.4 1232.3,447.6 1233.5,446.7 1234.7,445.7 1235.8,444.7 1236.8,443.7 1237.9,442.6 1238.8,441.4 1239.7,440.2 1240.6,439.0 1241.5,437.8 1242.3,436.5 1243.1,435.2 1243.8,433.9 1244.5,432.6 1245.2,431.3 1245.8,429.9 1246.5,428.5 1247.1,427.2 1247.7,425.8 1248.2,424.4 1248.8,423.0 1249.3,421.6 1249.8,420.2 1250.3,418.8 1250.8,417.4 1251.3,415.9 1251.7,414.5 1252.2,413.1 1252.6,411.6 1253.1,410.2 1253.5,408.8 1253.9,407.3 1254.3,405.9 1254.7,404.4 1255.1,403.0 1255.5,401.5 1255.8,400.1 1256.2,398.6 1256.6,397.1 1256.9,395.7 1257.3,394.2 1257.6,392.8 1258.0,391.3 1258.3,389.8 1258.6,388.4 1259.0,386.9 1259.3,385.4 1259.6,384.0 1259.9,382.5 1260.2,381.0 1260.5,379.6 1260.8,378.1 1261.1,376.6 1261.4,375.2 1261.7,373.7 1262.0,372.2 1262.3,370.7 1262.6,369.3 1262.9,367.8 1263.1,366.3 1263.4,364.8 1263.7,363.4 1264.0,361.9 1264.2,360.4 1264.5,358.9 1264.8,357.5 1265.0,356.0 1265.3,354.5 1265.5,353.0 1265.8,351.5 1266.1,350.1 1266.3,348.6 1266.6,347.1 1266.8,345.6 1267.1,344.1 1267.3,342.7 1267.6,341.2 1267.8,339.7 1268.1,338.2 1268.3,336.7 1268.6,335.3 1268.8,333.8 1269.1,332.3 1269.3,330.8 1269.5,329.3 1269.8,327.9 1270.0,326.4 1270.3,324.9 1270.5,323.4 1270.7,321.9 1271.0,320.4 1271.2,319.0 1271.5,317.5 1271.7,316.0 1271.9,314.5 1272.2,313.0 1272.4,311.6 1272.6,310.1 1272.9,308.6 1273.1,307.1 1273.3,305.6 1273.6,304.1 1273.8,302.7 1274.1,301.2 1274.3,299.7 1274.5,298.2 1274.8,296.7 1275.0,295.2 1275.2,293.8 1275.5,292.3 1275.7,290.8 1276.0,289.3 1276.2,287.8 1276.4,286.4 1276.7,284.9 1276.9,283.4 1277.2,281.9 1277.4,280.4 1277.7,278.9 1277.9,277.5 1278.2,276.0 1278.4,274.5 1278.7,273.0 1278.9,271.5 1279.2,270.1 1279.4,268.6 1279.7,267.1 1279.9,265.6 1280.2,264.2 1280.5,262.7 1280.7,261.2 1281.0,259.7 1281.3,258.2 1281.6,256.8 1281.8,255.3 1282.1,253.8 1282.4,252.3 1282.7,250.9 1283.0,249.4 1283.3,247.9 1283.6,246.5 1283.9,245.0 1284.2,243.5 1284.6,242.1 1284.9,240.6 1285.2,239.1 1285.6,237.7 1285.9,236.2 1286.3,234.8 1286.7,233.3 1287.1,231.9 1287.5,230.4 1287.9,229.0 1288.3,227.5 1288.8,226.1 1289.3,224.7 1289.8,223.3 1290.3,221.9 1290.9,220.5 1291.6,219.2 1292.4,217.9 1293.2,216.6 1294.2,215.5 1295.5,214.7 1297.0,214.5 1298.4,214.9 1299.6,215.7 1300.7,216.8 1301.6,218.0 1302.4,219.2 1303.2,220.5 1304.0,221.8 1304.7,223.1 1305.3,224.5 1306.0,225.8 1306.6,227.2 1307.2,228.6 1307.8,230.0 1308.4,231.3 1308.9,232.7 1309.5,234.1 1310.0,235.5 1310.6,236.9 1311.1,238.3 1311.6,239.7 1312.1,241.2 1312.6,242.6 1313.1,244.0 1313.6,245.4 1314.1,246.8 1314.6,248.2 1315.1,249.7 1315.5,251.1 1316.0,252.5 1316.5,254.0 1316.9,255.4 1317.4,256.8 1317.8,258.3 1318.2,259.7 1318.7,261.1 1319.1,262.6 1319.5,264.0 1319.9,265.5 1320.3,266.9 1320.7,268.3 1321.1,269.8 1321.5,271.2 1321.9,272.7 1322.3,274.1 1322.7,275.6 1323.1,277.0 1323.4,278.5 1323.8,280.0 1324.2,281.4 1324.5,282.9 1324.9,284.3 1325.3,285.8 1325.6,287.2 1326.0,288.7 1326.3,290.2 1326.7,291.6 1327.0,293.1 1327.3,294.5 1327.7,296.0 1328.0,297.5 1328.4,298.9 1328.7,300.4 1329.0,301.9 1329.4,303.3 1329.7,304.8 1330.0,306.2 1330.3,307.7 1330.7,309.2 1331.0,310.6 1331.3,312.1 1331.7,313.6 1332.0,315.0 1332.3,316.5 1332.6,318.0 1333.0,319.4 1333.3,320.9 1333.6,322.4 1334.0,323.8 1334.3,325.3 1334.6,326.8 1334.9,328.2 1335.3,329.7 1335.6,331.1 1335.9,332.6 1336.3,334.1 1336.6,335.5 1337.0,337.0 1337.3,338.5 1337.6,339.9 1338.0,341.4 1338.3,342.8 1338.7,344.3 1339.0,345.8 1339.4,347.2 1339.7,348.7 1340.1,350.1 1340.5,351.6 1340.8,353.1 1341.2,354.5 1341.6,356.0 1342.0,357.4 1342.3,358.9 1342.7,360.3 1343.1,361.8 1343.5,363.2 1343.9,364.7 1344.3,366.1 1344.7,367.6 1345.1,369.0 1345.6,370.4 1346.0,371.9 1346.4,373.3 1346.9,374.7 1347.3,376.2 1347.8,377.6 1348.3,379.0 1348.7,380.5 1349.2,381.9 1349.7,383.3 1350.2,384.7 1350.7,386.1 1351.3,387.5 1351.8,388.9 1352.4,390.3 1352.9,391.7 1353.5,393.1 1354.1,394.5 1354.7,395.8 1355.4,397.2 1356.0,398.5 1356.7,399.9 1357.4,401.2 1358.1,402.5 1358.9,403.8 1359.6,405.1 1360.5,406.4 1361.3,407.6 1362.2,408.8 1363.1,410.0 1364.1,411.1 1365.1,412.2 1366.2,413.3 1367.3,414.3 1368.5,415.2 1369.8,416.0 1371.1,416.8 1372.4,417.4 1373.8,417.9 1375.3,418.3 1376.8,418.6 1378.3,418.7 1379.8,418.7 1381.2,418.6 1382.7,418.3 1384.2,418.0 1385.6,417.6 1387.1,417.2 1388.5,416.6 1389.9,416.0 1391.2,415.4 1392.6,414.7 1393.9,414.0 1395.2,413.3 1396.5,412.5 1397.8,411.7 1399.0,410.9 1400.3,410.1 1401.5,409.3 1402.8,408.4 1404.0,407.6 1405.2,406.7 1406.4,405.8 1407.6,404.9 1408.8,404.0 1410.0,403.1 1411.2,402.2 1412.4,401.3 1413.6,400.3 1414.8,399.4 1416.0,398.5 1417.1,397.6 1418.3,396.6 1419.5,395.7 1420.6,394.7 1421.8,393.8 1423.0,392.8 1424.1,391.9 1425.3,390.9 1426.4,389.9 1427.6,389.0 1428.7,388.0 1429.8,387.0 1430.9,386.0 1432.1,385.0 1433.2,384.0 1434.3,383.0 1435.4,381.9 1436.5,380.9 1437.6,379.9 1438.6,378.8 1439.7,377.8 1440.7,376.7 1441.8,375.6 1442.8,374.5 1443.8,373.4 1444.9,372.3 1445.9,371.2 1446.9,370.1 1447.8,368.9 1448.8,367.8 1449.8,366.7 1450.8,365.5 1451.7,364.4 1452.7,363.2 1453.6,362.0 1454.5,360.9 1455.5,359.7 1456.4,358.5 1457.4,357.3 1458.3,356.2 1459.2,355.0 1460.2,353.8 1461.2,352.7 1462.1,351.5 1463.1,350.4 1464.1,349.3 1465.1,348.2 1466.2,347.1 1467.3,346.1 1468.4,345.1 1469.5,344.1 1470.7,343.2 1472.0,342.4 1473.3,341.7 1474.7,341.2 1476.2,340.8 1477.7,340.6 1479.2,340.6 1480.7,340.8 1482.1,341.2 1483.5,341.8 1484.8,342.4 1486.1,343.2 1487.4,344.0 1488.6,344.9 1489.8,345.8 1490.9,346.8 1492.1,347.8 1493.2,348.8 1494.2,349.8 1495.3,350.9 1496.4,351.9 1497.5,353.0 1498.5,354.1 1499.6,355.1 1500.6,356.2 1501.7,357.3 1502.7,358.4 1503.8,359.5 1504.8,360.5 1505.8,361.6 1506.9,362.7 1507.9,363.7 1509.0,364.8 1510.1,365.9 1511.1,367.0 1512.2,368.0 1513.2,369.1 1514.3,370.1 1515.3,371.2 1516.4,372.3 1517.5,373.3 1518.5,374.4 1519.6,375.4 1520.7,376.5 1521.7,377.5 1522.8,378.6 1523.9,379.6 1525.0,380.7 1526.0,381.7 1527.1,382.8 1528.2,383.8 1529.3,384.9 1530.4,385.9 1531.5,386.9 1532.6,387.9 1533.7,388.9 1534.8,389.9 1535.9,390.9 1537.1,391.9 1538.2,392.9 1539.4,393.9 1540.5,394.8 1541.7,395.8 1542.9,396.7 1544.1,397.6 1545.3,398.5 1546.5,399.4 1547.7,400.2 1549.0,401.1 1550.2,401.9 1551.5,402.7 1552.8,403.4 1554.1,404.2 1555.4,404.9 1556.8,405.6 1558.1,406.2 1559.5,406.9 1560.8,407.5 1562.2,408.1 1563.6,408.7 1565.0,409.3 1566.4,409.9 1567.7,410.4 1569.1,411.0 1570.5,411.5 1571.9,412.0 1573.3,412.6 1574.7,413.1 1576.1,413.7 1577.5,414.3 1578.9,414.8 1580.3,415.4 1581.7,416.0 1583.1,416.6 1584.4,417.2 1585.8,417.8 1587.2,418.4 1588.5,419.0 1589.9,419.7 1591.3,420.3 1592.6,420.9 1594.0,421.5 1595.4,422.1 1596.7,422.8 1598.1,423.4 1599.5,424.0 1600.9,424.6 1602.2,425.2 1603.6,425.7 1605.0,426.3 1606.4,426.9 1607.8,427.4 1609.2,428.0 1610.6,428.5 1612.0,429.0 1613.4,429.5 1614.9,430.0 1616.3,430.5 1617.7,430.9 1619.1,431.4 1620.6,431.8 1622.0,432.2 1623.5,432.6 1624.9,433.0 1626.4,433.4 1627.8,433.7 1629.3,434.1 1630.8,434.4 1632.2,434.7 1633.7,435.1 1635.2,435.4 1636.6,435.6 1638.1,435.9 1639.6,436.2 1641.1,436.5 1642.5,436.7 1644.0,437.0 1645.5,437.2 1647.0,437.4 1648.5,437.6 1650.0,437.8 1651.5,438.0 1652.9,438.2 1654.4,438.4 1655.9,438.6 1657.4,438.8 1658.9,438.9 1660.4,439.1 1661.9,439.2 1663.4,439.3 1664.9,439.4 1666.4,439.5 1667.9,439.5 1669.4,439.5 1670.9,439.6 1672.4,439.5 1673.9,439.5 1675.4,439.4 1676.9,439.3 1678.4,439.2 1679.9,439.0 1681.4,438.9 1682.9,438.6 1684.3,438.4 1685.8,438.1 1687.3,437.8 1688.7,437.4 1690.2,437.0 1691.6,436.6 1693.1,436.2 1694.5,435.7 1695.9,435.3 1697.3,434.8 1698.7,434.2 1700.1,433.7 1701.5,433.2 1702.9,432.6 1704.3,432.0 1705.7,431.5 1707.1,430.9 1708.5,430.3 1709.9,429.8 1711.3,429.2 1712.7,428.7 1714.1,428.1 1715.5,427.6 1716.9,427.2 1718.4,426.7 1719.8,426.3 1721.3,426.0 1722.7,425.7 1724.2,425.4 1725.7,425.2 1727.2,425.1 1728.7,425.0 1730.2,425.0 1731.7,425.1 1733.2,425.2 1734.7,425.4 1736.2,425.7 1737.6,426.1 1739.1,426.5 1740.5,427.0 1741.9,427.5 1743.3,428.1 1744.6,428.7 1746.0,429.4 1747.3,430.1 1748.6,430.8 1749.9,431.6 1751.2,432.4 1752.5,433.1 1753.8,433.9 1755.0,434.7 1756.3,435.5 1757.5,436.4 1758.8,437.2 1760.1,438.0 1761.4,438.7 1762.7,439.5 1764.0,440.2 1765.3,441.0 1766.6,441.6 1768.0,442.3 1769.4,442.9 1770.7,443.5 1772.2,444.0 1773.6,444.5 1775.0,444.9 1776.5,445.3 1777.9,445.7 1779.4,446.1 1780.8,446.5 1782.3,446.8 1783.7,447.2 1785.2,447.6 1786.6,448.1 1788.0,448.6 1789.4,449.1 1790.8,449.7 1792.2,450.3 1793.6,450.9 1794.9,451.5 1796.3,452.2 1797.6,452.8 1799.0,453.4 1800.3,454.1 1801.7,454.7 1803.1,455.2 1804.5,455.7 1806.0,456.2 1807.4,456.5 1808.9,456.8 1810.4,457.0 1811.9,457.1 1813.4,457.0 1814.9,456.9 1816.4,456.6 1817.8,456.2 1819.2,455.8 1820.6,455.2 1822.0,454.6 1823.3,453.9 1824.6,453.1 1825.8,452.3 1827.1,451.4 1828.3,450.5 1829.4,449.6 1830.6,448.6 1831.7,447.6 1832.8,446.6 1833.9,445.5 1835.0,444.5 1836.1,443.4 1837.1,442.4 1838.2,441.3 1839.2,440.2 1840.3,439.2 1841.3,438.1 1842.4,437.1 1843.5,436.0 1844.6,435.0 1845.7,433.9 1846.8,432.9 1847.9,432.0 1849.1,431.0 1850.3,430.1 1851.5,429.3 1852.8,428.5 1854.1,427.8 1855.5,427.1 1856.9,426.6 1858.3,426.2 1859.8,425.9 1861.3,425.6 1862.8,425.5 1864.3,425.5 1865.8,425.6 1867.3,425.7 1868.8,425.9 1870.3,426.0 1871.8,426.0 1873.3,426.0 1874.7,425.8 1876.2,425.4 1877.6,424.7 1878.8,423.9 1879.9,422.9 1881.0,421.8 1881.9,420.6 1882.7,419.4 1883.5,418.1 1884.2,416.8 1884.8,415.4 1885.4,414.0 1886.0,412.6 1886.5,411.2 1887.0,409.8 1887.5,408.4 1888.0,407.0 1888.4,405.5 1888.8,404.1 1889.2,402.7 1889.6,401.2 1890.0,399.8 1890.4,398.3 1890.8,396.8 1891.1,395.4 1891.5,393.9 1891.8,392.5 1892.1,391.0 1892.5,389.5 1892.8,388.1 1893.1,386.6 1893.4,385.1 1893.7,383.7 1894.0,382.2 1894.3,380.7 1894.6,379.3 1894.9,377.8 1895.2,376.3 1895.5,374.8 1895.8,373.4 1896.1,371.9 1896.4,370.4 1896.7,369.0 1897.0,367.5 1897.3,366.0 1897.6,364.5 1897.9,363.1 1898.2,361.6 1898.5,360.1 1898.9,358.7 1899.2,357.2 1899.6,355.7 1899.9,354.3 1900.3,352.8 1900.7,351.4 1901.2,350.0 1901.6,348.5 1902.2,347.2 1902.9,345.8 1903.9,344.7 1905.3,344.9 1906.2,346.1 1906.9,347.4 1907.5,348.8 1908.0,350.2 1908.4,351.7 1908.9,353.1 1909.3,354.6 1909.6,356.0 1910.0,357.5 1910.4,358.9 1910.7,360.4 1911.1,361.8 1911.4,363.3 1911.8,364.8 1912.1,366.2 1912.4,367.7 1912.8,369.2 1913.1,370.6 1913.4,372.1 1913.8,373.5 1914.1,375.0 1914.5,376.5 1914.8,377.9 1915.2,379.4 1915.5,380.8 1915.9,382.3 1916.2,383.8 1916.6,385.2 1917.0,386.7 1917.4,388.1 1917.8,389.6 1918.2,391.0 1918.7,392.4 1919.1,393.9 1919.6,395.3 1920.0,396.7 1920.5,398.1 1921.0,399.5 1921.6,401.0 1922.1,402.3 1922.7,403.7 1923.4,405.1 1924.0,406.4 1924.7,407.8 1925.4,409.1 1926.2,410.4 1927.0,411.7 1927.8,412.9 1928.7,414.1 1929.6,415.3 1930.5,416.5 1931.5,417.7 1932.4,418.8 1933.4,419.9 1934.4,421.1 1935.4,422.2 1936.4,423.3 1937.4,424.5 1938.4,425.6 1939.4,426.7 1940.4,427.8 1941.3,429.0 1942.3,430.1 1943.3,431.2 1944.4,432.3 1945.4,433.4 1946.4,434.5 1947.4,435.6 1948.5,436.7 1949.6,437.7 1950.7,438.8 1951.8,439.8 1952.9,440.8 1954.0,441.7 1955.2,442.7 1956.4,443.6 1957.6,444.4 1958.9,445.3 1960.1,446.1 1961.4,446.9 1962.7,447.6 1964.1,448.3 1965.4,449.0 1966.8,449.6 1968.1,450.2 1969.5,450.8 1970.9,451.3 1972.3,451.8 1973.8,452.3 1975.2,452.7 1976.6,453.1 1978.1,453.5 1979.6,453.9 1981.0,454.2 1982.5,454.6 1984.0,454.9 1985.4,455.1 1986.9,455.4 1988.4,455.7 1989.9,455.9 1991.4,456.1 1992.8,456.3 1994.3,456.5 1995.8,456.7 1997.3,456.8 1998.8,457.0 2000.3,457.1" fill="none" stroke="#84068a" stroke-width="3.0" stroke-linejoin="round" stroke-linecap="round"/>
<text transform="translate(1750.82,626.13) rotate(-90) scale(1,1.04)" font-size="27.98" font-family="'Liberation Sans',Arial,sans-serif">1542</text>
<line x1="1736.4" y1="535" x2="1736.4" y2="563.5" stroke="#000" stroke-width="2.6" stroke-dasharray="6,5.4"/>
</svg>
</body></html>
